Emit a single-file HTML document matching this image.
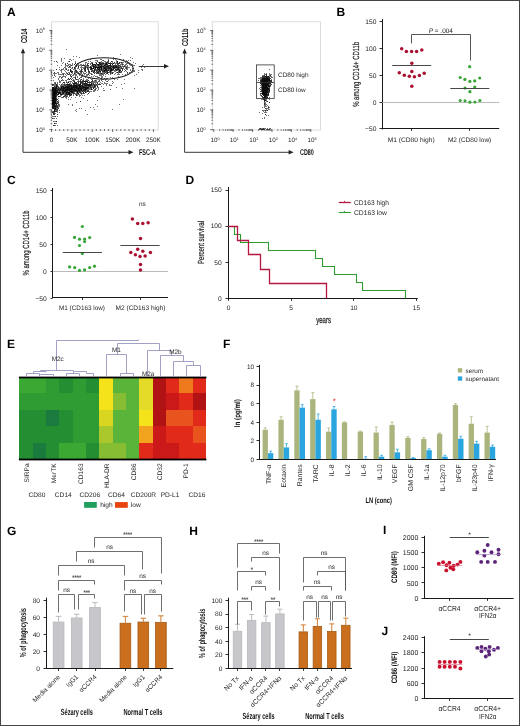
<!DOCTYPE html>
<html><head><meta charset="utf-8"><style>
html,body{margin:0;padding:0;background:#fff;}
body{width:520px;height:726px;overflow:hidden;}
svg{display:block;will-change:transform;text-rendering:geometricPrecision;font-family:"Liberation Sans",sans-serif;}
</style></head><body>
<svg width="520" height="726" viewBox="0 0 520 726" fill="#222">
<rect x="0" y="0" width="520" height="726" fill="#fff"/>
<text x="7" y="15.7" font-size="12" font-weight="bold" fill="#000">A</text>
<text x="336.6" y="15.8" font-size="12" font-weight="bold" fill="#000">B</text>
<text x="7" y="184.3" font-size="12" font-weight="bold" fill="#000">C</text>
<text x="185.5" y="184" font-size="12" font-weight="bold" fill="#000">D</text>
<text x="7.1" y="348" font-size="12" font-weight="bold" fill="#000">E</text>
<text x="223" y="347.6" font-size="12" font-weight="bold" fill="#000">F</text>
<text x="7.1" y="535.4" font-size="12" font-weight="bold" fill="#000">G</text>
<text x="189.3" y="535" font-size="12" font-weight="bold" fill="#000">H</text>
<text x="383" y="534.4" font-size="12" font-weight="bold" fill="#000">I</text>
<text x="381.5" y="635" font-size="12" font-weight="bold" fill="#000">J</text>
<rect x="51.4" y="21.8" width="106.8" height="108.2" fill="none" stroke="#d4d4d4" stroke-width="0.8"/>
<path d="M49.2 129.7h3.2M50.6 123.73h1.6M50.6 120.23h1.6M50.6 117.76h1.6M50.6 115.83h1.6M50.6 114.26h1.6M50.6 112.93h1.6M50.6 111.78h1.6M50.6 110.77h1.6M49.2 109.86h3.2M50.6 103.89h1.6M50.6 100.39h1.6M50.6 97.92h1.6M50.6 95.99h1.6M50.6 94.42h1.6M50.6 93.09h1.6M50.6 91.94h1.6M50.6 90.93h1.6M49.2 90.02h3.2M50.6 84.05h1.6M50.6 80.55h1.6M50.6 78.08h1.6M50.6 76.15h1.6M50.6 74.58h1.6M50.6 73.25h1.6M50.6 72.1h1.6M50.6 71.09h1.6M49.2 70.18h3.2M50.6 64.21h1.6M50.6 60.71h1.6M50.6 58.24h1.6M50.6 56.31h1.6M50.6 54.74h1.6M50.6 53.41h1.6M50.6 52.26h1.6M50.6 51.25h1.6M49.2 50.34h3.2M50.6 44.37h1.6M50.6 40.87h1.6M50.6 38.4h1.6M50.6 36.47h1.6M50.6 34.9h1.6M50.6 33.57h1.6M50.6 32.42h1.6M50.6 31.41h1.6M49.2 30.5h3.2M51.5 129v3M55.58 129.2v1.8M59.65 129.2v1.8M63.73 129.2v1.8M67.8 129.2v1.8M71.88 129v3M75.96 129.2v1.8M80.03 129.2v1.8M84.11 129.2v1.8M88.18 129.2v1.8M92.26 129v3M96.34 129.2v1.8M100.41 129.2v1.8M104.49 129.2v1.8M108.56 129.2v1.8M112.64 129v3M116.72 129.2v1.8M120.79 129.2v1.8M124.87 129.2v1.8M128.94 129.2v1.8M133.02 129v3M137.1 129.2v1.8M141.17 129.2v1.8M145.25 129.2v1.8M149.32 129.2v1.8M153.4 129v3" stroke="#333" stroke-width="0.7" fill="none"/>
<text x="44.8" y="131.7" font-size="6.3" text-anchor="end" fill="#262626">10<tspan font-size="3.78" dy="-2.2">0</tspan></text>
<text x="44.8" y="111.86" font-size="6.3" text-anchor="end" fill="#262626">10<tspan font-size="3.78" dy="-2.2">1</tspan></text>
<text x="44.8" y="92.02" font-size="6.3" text-anchor="end" fill="#262626">10<tspan font-size="3.78" dy="-2.2">2</tspan></text>
<text x="44.8" y="72.18" font-size="6.3" text-anchor="end" fill="#262626">10<tspan font-size="3.78" dy="-2.2">3</tspan></text>
<text x="44.8" y="52.34" font-size="6.3" text-anchor="end" fill="#262626">10<tspan font-size="3.78" dy="-2.2">4</tspan></text>
<text x="44.8" y="32.5" font-size="6.3" text-anchor="end" fill="#262626">10<tspan font-size="3.78" dy="-2.2">5</tspan></text>
<text x="51.5" y="141.8" font-size="6.4" text-anchor="middle" fill="#262626">0</text>
<text x="71.88" y="141.8" font-size="6.4" text-anchor="middle" fill="#262626">50K</text>
<text x="92.26" y="141.8" font-size="6.4" text-anchor="middle" fill="#262626">100K</text>
<text x="112.64" y="141.8" font-size="6.4" text-anchor="middle" fill="#262626">150K</text>
<text x="133.02" y="141.8" font-size="6.4" text-anchor="middle" fill="#262626">200K</text>
<text x="153.4" y="141.8" font-size="6.4" text-anchor="middle" fill="#262626">250K</text>
<path d="M23 50.5V152.3H131" stroke="#222" stroke-width="0.9" fill="none"/>
<path d="M23 48.2L20.8 53.2H25.2Z" stroke="none" stroke-width="1" fill="#222"/>
<path d="M133.5 152.3L128.5 150.1V154.5Z" stroke="none" stroke-width="1" fill="#222"/>
<text transform="translate(26.6 35.8) rotate(-90)" font-size="8.6" text-anchor="middle" font-weight="bold" fill="#111" textLength="14.5" lengthAdjust="spacingAndGlyphs">CD14</text>
<text x="139" y="155.4" font-size="8.4" font-weight="bold" fill="#111" textLength="16.8" lengthAdjust="spacingAndGlyphs">FSC-A</text>
<path d="M53 101h1v1h-1zM55 100h1v1h-1zM52 89h1v1h-1zM54 101h1v1h-1zM53 98h1v1h-1zM53 100h1v1h-1zM54 98h1v1h-1zM54 91h1v1h-1zM55 87h1v1h-1zM52 104h1v1h-1zM54 102h1v1h-1zM53 104h1v1h-1zM54 105h1v1h-1zM55 96h1v1h-1zM55 92h1v1h-1zM54 102h1v1h-1zM56 100h1v1h-1zM56 84h1v1h-1zM54 96h1v1h-1zM55 92h1v1h-1zM53 102h1v1h-1zM54 105h1v1h-1zM55 97h1v1h-1zM54 102h1v1h-1zM55 103h1v1h-1zM53 107h1v1h-1zM55 93h1v1h-1zM54 99h1v1h-1zM54 106h1v1h-1zM52 98h1v1h-1zM54 104h1v1h-1zM55 103h1v1h-1zM55 95h1v1h-1zM53 88h1v1h-1zM54 100h1v1h-1zM53 96h1v1h-1zM56 98h1v1h-1zM53 97h1v1h-1zM56 105h1v1h-1zM53 101h1v1h-1zM54 100h1v1h-1zM55 104h1v1h-1zM53 98h1v1h-1zM54 94h1v1h-1zM53 92h1v1h-1zM52 103h1v1h-1zM53 101h1v1h-1zM55 104h1v1h-1zM54 103h1v1h-1zM53 103h1v1h-1zM54 99h1v1h-1zM52 95h1v1h-1zM54 98h1v1h-1zM53 88h1v1h-1zM54 100h1v1h-1zM52 93h1v1h-1zM53 97h1v1h-1zM53 84h1v1h-1zM53 97h1v1h-1zM54 100h1v1h-1zM53 99h1v1h-1zM55 85h1v1h-1zM54 104h1v1h-1zM54 110h1v1h-1zM54 102h1v1h-1zM55 95h1v1h-1zM53 103h1v1h-1zM54 103h1v1h-1zM52 90h1v1h-1zM54 91h1v1h-1zM53 107h1v1h-1zM54 101h1v1h-1zM53 99h1v1h-1zM53 93h1v1h-1zM54 98h1v1h-1zM53 102h1v1h-1zM54 95h1v1h-1zM54 98h1v1h-1zM52 91h1v1h-1zM53 95h1v1h-1zM52 97h1v1h-1zM55 96h1v1h-1zM53 100h1v1h-1zM54 100h1v1h-1zM53 98h1v1h-1zM53 112h1v1h-1zM54 103h1v1h-1zM55 92h1v1h-1zM53 97h1v1h-1zM53 104h1v1h-1zM54 93h1v1h-1zM54 98h1v1h-1zM54 96h1v1h-1zM53 107h1v1h-1zM54 98h1v1h-1zM52 101h1v1h-1zM53 95h1v1h-1zM54 101h1v1h-1zM53 101h1v1h-1zM52 93h1v1h-1zM53 96h1v1h-1zM53 96h1v1h-1zM55 88h1v1h-1zM54 96h1v1h-1zM52 94h1v1h-1zM53 95h1v1h-1zM54 92h1v1h-1zM54 106h1v1h-1zM53 103h1v1h-1zM56 99h1v1h-1zM55 99h1v1h-1zM54 102h1v1h-1zM56 93h1v1h-1zM54 96h1v1h-1zM54 104h1v1h-1zM55 100h1v1h-1zM53 95h1v1h-1zM55 100h1v1h-1zM53 99h1v1h-1zM53 97h1v1h-1zM54 98h1v1h-1zM54 97h1v1h-1zM54 96h1v1h-1zM54 99h1v1h-1zM55 103h1v1h-1zM56 109h1v1h-1zM52 106h1v1h-1zM52 94h1v1h-1zM54 101h1v1h-1zM54 106h1v1h-1zM54 102h1v1h-1zM55 99h1v1h-1zM54 110h1v1h-1zM55 99h1v1h-1zM54 95h1v1h-1zM56 99h1v1h-1zM54 100h1v1h-1zM52 97h1v1h-1zM54 98h1v1h-1zM54 95h1v1h-1zM53 88h1v1h-1zM56 104h1v1h-1zM54 99h1v1h-1zM52 106h1v1h-1zM54 101h1v1h-1zM53 95h1v1h-1zM54 99h1v1h-1zM54 92h1v1h-1zM53 98h1v1h-1zM54 83h1v1h-1zM52 107h1v1h-1zM55 103h1v1h-1zM53 102h1v1h-1zM55 95h1v1h-1zM54 91h1v1h-1zM54 104h1v1h-1zM54 103h1v1h-1zM53 98h1v1h-1zM54 102h1v1h-1zM54 101h1v1h-1zM53 94h1v1h-1zM52 94h1v1h-1zM54 92h1v1h-1zM54 90h1v1h-1zM52 87h1v1h-1zM55 107h1v1h-1zM52 98h1v1h-1zM56 110h1v1h-1zM52 103h1v1h-1zM54 108h1v1h-1zM52 100h1v1h-1zM53 99h1v1h-1zM53 101h1v1h-1zM53 104h1v1h-1zM55 102h1v1h-1zM56 99h1v1h-1zM53 101h1v1h-1zM52 88h1v1h-1zM53 97h1v1h-1zM52 99h1v1h-1zM53 103h1v1h-1zM52 87h1v1h-1zM53 91h1v1h-1zM54 104h1v1h-1zM53 98h1v1h-1zM52 91h1v1h-1zM54 99h1v1h-1zM52 93h1v1h-1zM54 96h1v1h-1zM54 90h1v1h-1zM52 89h1v1h-1zM55 96h1v1h-1zM53 96h1v1h-1zM55 104h1v1h-1zM55 101h1v1h-1zM53 113h1v1h-1zM53 107h1v1h-1zM52 102h1v1h-1zM52 105h1v1h-1zM53 89h1v1h-1zM52 93h1v1h-1zM56 91h1v1h-1zM56 85h1v1h-1zM55 92h1v1h-1zM53 88h1v1h-1zM58 93h1v1h-1zM53 91h1v1h-1zM53 93h1v1h-1zM55 89h1v1h-1zM56 88h1v1h-1zM57 83h1v1h-1zM52 88h1v1h-1zM55 94h1v1h-1zM60 89h1v1h-1zM55 90h1v1h-1zM55 83h1v1h-1zM55 92h1v1h-1zM55 89h1v1h-1zM56 93h1v1h-1zM56 87h1v1h-1zM57 95h1v1h-1zM56 94h1v1h-1zM54 89h1v1h-1zM56 92h1v1h-1zM56 88h1v1h-1zM56 89h1v1h-1zM56 91h1v1h-1zM56 87h1v1h-1zM56 88h1v1h-1zM56 89h1v1h-1zM57 91h1v1h-1zM54 95h1v1h-1zM53 90h1v1h-1zM55 96h1v1h-1zM53 89h1v1h-1zM53 91h1v1h-1zM56 94h1v1h-1zM56 87h1v1h-1zM56 84h1v1h-1zM55 94h1v1h-1zM56 91h1v1h-1zM55 90h1v1h-1zM53 90h1v1h-1zM57 90h1v1h-1zM55 93h1v1h-1zM53 89h1v1h-1zM55 93h1v1h-1zM56 89h1v1h-1zM55 91h1v1h-1zM56 92h1v1h-1zM52 87h1v1h-1zM56 86h1v1h-1zM53 89h1v1h-1zM55 88h1v1h-1zM53 91h1v1h-1zM56 89h1v1h-1zM53 89h1v1h-1zM53 94h1v1h-1zM53 93h1v1h-1zM57 90h1v1h-1zM54 90h1v1h-1zM56 93h1v1h-1zM52 98h1v1h-1zM57 91h1v1h-1zM55 95h1v1h-1zM56 92h1v1h-1zM55 88h1v1h-1zM54 89h1v1h-1zM55 91h1v1h-1zM55 93h1v1h-1zM55 92h1v1h-1zM53 90h1v1h-1zM56 93h1v1h-1zM56 92h1v1h-1zM53 94h1v1h-1zM54 105h1v1h-1zM54 103h1v1h-1zM53 108h1v1h-1zM54 109h1v1h-1zM55 107h1v1h-1zM58 100h1v1h-1zM53 107h1v1h-1zM59 110h1v1h-1zM55 108h1v1h-1zM55 102h1v1h-1zM55 106h1v1h-1zM57 112h1v1h-1zM55 106h1v1h-1zM54 102h1v1h-1zM56 103h1v1h-1zM54 104h1v1h-1zM55 99h1v1h-1zM54 111h1v1h-1zM57 109h1v1h-1zM55 106h1v1h-1zM54 108h1v1h-1zM58 107h1v1h-1zM55 104h1v1h-1zM56 106h1v1h-1zM58 98h1v1h-1zM56 109h1v1h-1zM54 109h1v1h-1zM55 111h1v1h-1zM57 114h1v1h-1zM53 114h1v1h-1zM55 116h1v1h-1zM52 118h1v1h-1zM56 118h1v1h-1zM56 121h1v1h-1zM55 123h1v1h-1zM55 123h1v1h-1zM53 125h1v1h-1zM79 89h1v1h-1zM89 84h1v1h-1zM87 85h1v1h-1zM72 85h1v1h-1zM68 88h1v1h-1zM77 89h1v1h-1zM86 89h1v1h-1zM63 89h1v1h-1zM73 90h1v1h-1zM78 91h1v1h-1zM86 83h1v1h-1zM69 94h1v1h-1zM76 87h1v1h-1zM73 86h1v1h-1zM91 89h1v1h-1zM85 83h1v1h-1zM58 91h1v1h-1zM72 89h1v1h-1zM82 93h1v1h-1zM71 91h1v1h-1zM73 86h1v1h-1zM79 87h1v1h-1zM72 91h1v1h-1zM76 84h1v1h-1zM66 98h1v1h-1zM96 85h1v1h-1zM75 91h1v1h-1zM82 88h1v1h-1zM87 87h1v1h-1zM75 86h1v1h-1zM73 80h1v1h-1zM82 91h1v1h-1zM71 86h1v1h-1zM72 92h1v1h-1zM80 87h1v1h-1zM77 86h1v1h-1zM70 87h1v1h-1zM79 78h1v1h-1zM64 91h1v1h-1zM82 87h1v1h-1zM81 89h1v1h-1zM88 85h1v1h-1zM89 89h1v1h-1zM60 95h1v1h-1zM78 90h1v1h-1zM88 91h1v1h-1zM58 92h1v1h-1zM83 93h1v1h-1zM77 88h1v1h-1zM82 88h1v1h-1zM79 87h1v1h-1zM73 89h1v1h-1zM84 89h1v1h-1zM71 92h1v1h-1zM77 90h1v1h-1zM76 88h1v1h-1zM87 82h1v1h-1zM73 89h1v1h-1zM72 90h1v1h-1zM74 86h1v1h-1zM83 83h1v1h-1zM64 89h1v1h-1zM76 95h1v1h-1zM87 84h1v1h-1zM64 91h1v1h-1zM79 86h1v1h-1zM73 89h1v1h-1zM77 86h1v1h-1zM76 88h1v1h-1zM74 90h1v1h-1zM80 83h1v1h-1zM66 92h1v1h-1zM91 84h1v1h-1zM66 89h1v1h-1zM82 84h1v1h-1zM69 85h1v1h-1zM82 88h1v1h-1zM91 87h1v1h-1zM94 84h1v1h-1zM76 90h1v1h-1zM85 87h1v1h-1zM68 89h1v1h-1zM87 84h1v1h-1zM76 94h1v1h-1zM59 93h1v1h-1zM72 87h1v1h-1zM76 90h1v1h-1zM81 79h1v1h-1zM91 87h1v1h-1zM72 88h1v1h-1zM75 89h1v1h-1zM75 85h1v1h-1zM87 84h1v1h-1zM59 92h1v1h-1zM80 85h1v1h-1zM75 87h1v1h-1zM76 89h1v1h-1zM88 86h1v1h-1zM74 87h1v1h-1zM80 88h1v1h-1zM84 90h1v1h-1zM79 94h1v1h-1zM64 88h1v1h-1zM69 89h1v1h-1zM76 87h1v1h-1zM80 84h1v1h-1zM74 89h1v1h-1zM79 89h1v1h-1zM80 80h1v1h-1zM90 88h1v1h-1zM86 79h1v1h-1zM84 81h1v1h-1zM93 84h1v1h-1zM57 92h1v1h-1zM93 83h1v1h-1zM85 81h1v1h-1zM68 87h1v1h-1zM84 88h1v1h-1zM94 86h1v1h-1zM61 86h1v1h-1zM79 86h1v1h-1zM77 91h1v1h-1zM87 83h1v1h-1zM70 87h1v1h-1zM94 87h1v1h-1zM77 87h1v1h-1zM74 88h1v1h-1zM67 89h1v1h-1zM73 84h1v1h-1zM85 89h1v1h-1zM75 91h1v1h-1zM73 92h1v1h-1zM84 93h1v1h-1zM77 84h1v1h-1zM69 89h1v1h-1zM65 96h1v1h-1zM63 93h1v1h-1zM78 84h1v1h-1zM86 92h1v1h-1zM86 87h1v1h-1zM75 94h1v1h-1zM92 81h1v1h-1zM73 84h1v1h-1zM78 89h1v1h-1zM81 85h1v1h-1zM61 89h1v1h-1zM72 92h1v1h-1zM93 86h1v1h-1zM69 88h1v1h-1zM85 86h1v1h-1zM74 85h1v1h-1zM67 89h1v1h-1zM92 84h1v1h-1zM96 85h1v1h-1zM85 86h1v1h-1zM81 88h1v1h-1zM80 88h1v1h-1zM70 81h1v1h-1zM78 88h1v1h-1zM74 88h1v1h-1zM64 91h1v1h-1zM82 88h1v1h-1zM76 87h1v1h-1zM73 85h1v1h-1zM79 91h1v1h-1zM93 84h1v1h-1zM89 84h1v1h-1zM91 84h1v1h-1zM92 80h1v1h-1zM63 87h1v1h-1zM77 87h1v1h-1zM73 89h1v1h-1zM79 86h1v1h-1zM77 87h1v1h-1zM67 92h1v1h-1zM76 87h1v1h-1zM64 92h1v1h-1zM90 85h1v1h-1zM78 91h1v1h-1zM79 81h1v1h-1zM70 92h1v1h-1zM60 95h1v1h-1zM84 87h1v1h-1zM76 83h1v1h-1zM90 84h1v1h-1zM79 88h1v1h-1zM76 93h1v1h-1zM76 86h1v1h-1zM87 81h1v1h-1zM70 85h1v1h-1zM69 86h1v1h-1zM68 93h1v1h-1zM78 93h1v1h-1zM71 91h1v1h-1zM77 88h1v1h-1zM71 89h1v1h-1zM88 84h1v1h-1zM80 86h1v1h-1zM84 88h1v1h-1zM82 91h1v1h-1zM70 86h1v1h-1zM66 87h1v1h-1zM82 86h1v1h-1zM72 89h1v1h-1zM100 84h1v1h-1zM80 85h1v1h-1zM70 93h1v1h-1zM77 91h1v1h-1zM80 89h1v1h-1zM68 88h1v1h-1zM86 85h1v1h-1zM95 83h1v1h-1zM82 88h1v1h-1zM95 88h1v1h-1zM63 90h1v1h-1zM88 86h1v1h-1zM79 91h1v1h-1zM76 85h1v1h-1zM82 87h1v1h-1zM69 93h1v1h-1zM62 97h1v1h-1zM83 92h1v1h-1zM72 88h1v1h-1zM84 91h1v1h-1zM94 90h1v1h-1zM70 89h1v1h-1zM77 94h1v1h-1zM82 87h1v1h-1zM88 88h1v1h-1zM70 85h1v1h-1zM77 91h1v1h-1zM67 86h1v1h-1zM81 89h1v1h-1zM72 93h1v1h-1zM94 82h1v1h-1zM74 84h1v1h-1zM73 86h1v1h-1zM96 81h1v1h-1zM97 83h1v1h-1zM78 84h1v1h-1zM77 86h1v1h-1zM85 91h1v1h-1zM77 93h1v1h-1zM63 91h1v1h-1zM74 90h1v1h-1zM85 91h1v1h-1zM93 85h1v1h-1zM77 91h1v1h-1zM66 92h1v1h-1zM74 83h1v1h-1zM69 89h1v1h-1zM91 83h1v1h-1zM69 94h1v1h-1zM76 89h1v1h-1zM68 90h1v1h-1zM89 82h1v1h-1zM66 89h1v1h-1zM91 84h1v1h-1zM73 89h1v1h-1zM79 85h1v1h-1zM80 90h1v1h-1zM93 91h1v1h-1zM77 81h1v1h-1zM95 80h1v1h-1zM66 92h1v1h-1zM86 86h1v1h-1zM60 87h1v1h-1zM76 94h1v1h-1zM80 82h1v1h-1zM78 90h1v1h-1zM82 88h1v1h-1zM55 92h1v1h-1zM68 81h1v1h-1zM89 91h1v1h-1zM85 85h1v1h-1zM83 89h1v1h-1zM68 88h1v1h-1zM66 90h1v1h-1zM69 90h1v1h-1zM65 95h1v1h-1zM83 87h1v1h-1zM75 83h1v1h-1zM72 90h1v1h-1zM55 87h1v1h-1zM81 88h1v1h-1zM69 91h1v1h-1zM80 89h1v1h-1zM62 93h1v1h-1zM94 82h1v1h-1zM94 85h1v1h-1zM63 88h1v1h-1zM72 90h1v1h-1zM71 94h1v1h-1zM80 86h1v1h-1zM68 88h1v1h-1zM84 84h1v1h-1zM75 86h1v1h-1zM66 92h1v1h-1zM72 89h1v1h-1zM76 86h1v1h-1zM93 88h1v1h-1zM66 96h1v1h-1zM74 90h1v1h-1zM87 83h1v1h-1zM95 89h1v1h-1zM97 82h1v1h-1zM66 90h1v1h-1zM83 84h1v1h-1zM69 88h1v1h-1zM90 84h1v1h-1zM69 92h1v1h-1zM71 88h1v1h-1zM91 85h1v1h-1zM76 88h1v1h-1zM86 92h1v1h-1zM86 85h1v1h-1zM77 90h1v1h-1zM74 87h1v1h-1zM80 89h1v1h-1zM67 92h1v1h-1zM80 85h1v1h-1zM68 84h1v1h-1zM85 88h1v1h-1zM78 89h1v1h-1zM82 87h1v1h-1zM65 90h1v1h-1zM64 88h1v1h-1zM59 82h1v1h-1zM64 90h1v1h-1zM63 90h1v1h-1zM63 90h1v1h-1zM72 89h1v1h-1zM63 93h1v1h-1zM71 90h1v1h-1zM62 93h1v1h-1zM71 85h1v1h-1zM68 92h1v1h-1zM65 92h1v1h-1zM65 85h1v1h-1zM65 92h1v1h-1zM64 91h1v1h-1zM61 86h1v1h-1zM70 87h1v1h-1zM66 84h1v1h-1zM69 84h1v1h-1zM65 95h1v1h-1zM66 86h1v1h-1zM69 89h1v1h-1zM63 88h1v1h-1zM68 87h1v1h-1zM61 88h1v1h-1zM75 93h1v1h-1zM67 84h1v1h-1zM67 93h1v1h-1zM66 94h1v1h-1zM67 89h1v1h-1zM68 88h1v1h-1zM64 91h1v1h-1zM70 91h1v1h-1zM69 88h1v1h-1zM67 94h1v1h-1zM71 87h1v1h-1zM64 87h1v1h-1zM63 89h1v1h-1zM60 87h1v1h-1zM63 92h1v1h-1zM74 84h1v1h-1zM74 88h1v1h-1zM68 87h1v1h-1zM68 91h1v1h-1zM66 87h1v1h-1zM60 89h1v1h-1zM70 95h1v1h-1zM66 91h1v1h-1zM64 83h1v1h-1zM63 89h1v1h-1zM62 94h1v1h-1zM67 92h1v1h-1zM64 88h1v1h-1zM60 92h1v1h-1zM68 94h1v1h-1zM61 89h1v1h-1zM65 85h1v1h-1zM60 88h1v1h-1zM59 89h1v1h-1zM66 90h1v1h-1zM65 88h1v1h-1zM68 88h1v1h-1zM75 90h1v1h-1zM68 91h1v1h-1zM66 92h1v1h-1zM61 87h1v1h-1zM68 92h1v1h-1zM65 90h1v1h-1zM71 91h1v1h-1zM62 92h1v1h-1zM63 90h1v1h-1zM65 90h1v1h-1zM65 91h1v1h-1zM65 90h1v1h-1zM67 88h1v1h-1zM68 89h1v1h-1zM67 86h1v1h-1zM69 87h1v1h-1zM64 87h1v1h-1zM65 93h1v1h-1zM59 90h1v1h-1zM75 87h1v1h-1zM67 85h1v1h-1zM60 91h1v1h-1zM68 89h1v1h-1zM63 87h1v1h-1zM70 88h1v1h-1zM67 87h1v1h-1zM68 85h1v1h-1zM70 92h1v1h-1zM65 89h1v1h-1zM68 88h1v1h-1zM66 91h1v1h-1zM72 88h1v1h-1zM66 92h1v1h-1zM71 85h1v1h-1zM62 83h1v1h-1zM65 87h1v1h-1zM67 90h1v1h-1zM100 66h1v1h-1zM80 72h1v1h-1zM93 68h1v1h-1zM104 68h1v1h-1zM112 64h1v1h-1zM94 67h1v1h-1zM116 70h1v1h-1zM100 74h1v1h-1zM106 63h1v1h-1zM107 67h1v1h-1zM95 65h1v1h-1zM105 67h1v1h-1zM89 67h1v1h-1zM93 67h1v1h-1zM114 67h1v1h-1zM108 67h1v1h-1zM119 71h1v1h-1zM108 65h1v1h-1zM90 63h1v1h-1zM95 62h1v1h-1zM111 66h1v1h-1zM112 69h1v1h-1zM109 66h1v1h-1zM92 62h1v1h-1zM100 62h1v1h-1zM104 65h1v1h-1zM128 63h1v1h-1zM85 68h1v1h-1zM113 65h1v1h-1zM95 67h1v1h-1zM111 67h1v1h-1zM117 62h1v1h-1zM111 72h1v1h-1zM83 65h1v1h-1zM94 66h1v1h-1zM92 65h1v1h-1zM97 67h1v1h-1zM107 64h1v1h-1zM86 72h1v1h-1zM117 68h1v1h-1zM107 69h1v1h-1zM98 65h1v1h-1zM113 69h1v1h-1zM103 65h1v1h-1zM85 65h1v1h-1zM94 67h1v1h-1zM101 67h1v1h-1zM106 63h1v1h-1zM103 65h1v1h-1zM113 72h1v1h-1zM102 74h1v1h-1zM132 64h1v1h-1zM126 68h1v1h-1zM101 69h1v1h-1zM107 62h1v1h-1zM121 72h1v1h-1zM106 71h1v1h-1zM75 72h1v1h-1zM97 67h1v1h-1zM106 64h1v1h-1zM110 66h1v1h-1zM100 67h1v1h-1zM88 70h1v1h-1zM100 71h1v1h-1zM132 66h1v1h-1zM115 66h1v1h-1zM111 68h1v1h-1zM99 67h1v1h-1zM127 72h1v1h-1zM113 70h1v1h-1zM88 69h1v1h-1zM115 67h1v1h-1zM117 64h1v1h-1zM88 65h1v1h-1zM106 69h1v1h-1zM119 65h1v1h-1zM94 69h1v1h-1zM109 67h1v1h-1zM105 68h1v1h-1zM122 63h1v1h-1zM107 73h1v1h-1zM98 68h1v1h-1zM125 62h1v1h-1zM104 66h1v1h-1zM112 72h1v1h-1zM91 70h1v1h-1zM99 71h1v1h-1zM110 69h1v1h-1zM99 70h1v1h-1zM81 71h1v1h-1zM120 72h1v1h-1zM96 71h1v1h-1zM110 73h1v1h-1zM110 62h1v1h-1zM104 71h1v1h-1zM103 68h1v1h-1zM112 65h1v1h-1zM103 70h1v1h-1zM80 71h1v1h-1zM108 66h1v1h-1zM115 65h1v1h-1zM106 66h1v1h-1zM99 68h1v1h-1zM94 70h1v1h-1zM121 62h1v1h-1zM124 71h1v1h-1zM111 61h1v1h-1zM117 72h1v1h-1zM112 65h1v1h-1zM101 74h1v1h-1zM110 64h1v1h-1zM110 68h1v1h-1zM113 67h1v1h-1zM120 64h1v1h-1zM98 72h1v1h-1zM85 66h1v1h-1zM108 66h1v1h-1zM110 68h1v1h-1zM123 64h1v1h-1zM122 66h1v1h-1zM126 66h1v1h-1zM95 67h1v1h-1zM102 64h1v1h-1zM119 62h1v1h-1zM110 67h1v1h-1zM91 73h1v1h-1zM118 69h1v1h-1zM76 66h1v1h-1zM81 64h1v1h-1zM113 66h1v1h-1zM108 67h1v1h-1zM85 69h1v1h-1zM102 63h1v1h-1zM119 68h1v1h-1zM94 66h1v1h-1zM120 62h1v1h-1zM97 68h1v1h-1zM107 71h1v1h-1zM101 65h1v1h-1zM120 70h1v1h-1zM87 68h1v1h-1zM119 67h1v1h-1zM116 67h1v1h-1zM109 67h1v1h-1zM109 67h1v1h-1zM112 65h1v1h-1zM113 67h1v1h-1zM106 66h1v1h-1zM127 63h1v1h-1zM98 65h1v1h-1zM134 70h1v1h-1zM112 62h1v1h-1zM96 67h1v1h-1zM107 62h1v1h-1zM104 65h1v1h-1zM118 67h1v1h-1zM97 61h1v1h-1zM109 68h1v1h-1zM110 72h1v1h-1zM118 72h1v1h-1zM100 71h1v1h-1zM104 67h1v1h-1zM106 68h1v1h-1zM104 70h1v1h-1zM103 64h1v1h-1zM109 66h1v1h-1zM93 64h1v1h-1zM122 69h1v1h-1zM85 73h1v1h-1zM107 65h1v1h-1zM105 65h1v1h-1zM117 64h1v1h-1zM90 66h1v1h-1zM115 66h1v1h-1zM101 63h1v1h-1zM107 73h1v1h-1zM147 66h1v1h-1zM103 68h1v1h-1zM110 70h1v1h-1zM76 65h1v1h-1zM111 67h1v1h-1zM78 64h1v1h-1zM90 67h1v1h-1zM98 69h1v1h-1zM110 73h1v1h-1zM113 65h1v1h-1zM101 67h1v1h-1zM99 68h1v1h-1zM119 66h1v1h-1zM93 66h1v1h-1zM129 64h1v1h-1zM110 66h1v1h-1zM84 67h1v1h-1zM104 64h1v1h-1zM115 69h1v1h-1zM117 69h1v1h-1zM113 68h1v1h-1zM105 64h1v1h-1zM88 63h1v1h-1zM120 71h1v1h-1zM106 64h1v1h-1zM109 63h1v1h-1zM96 70h1v1h-1zM87 68h1v1h-1zM98 66h1v1h-1zM99 69h1v1h-1zM127 68h1v1h-1zM108 63h1v1h-1zM81 65h1v1h-1zM117 66h1v1h-1zM122 65h1v1h-1zM117 68h1v1h-1zM114 71h1v1h-1zM108 65h1v1h-1zM120 66h1v1h-1zM101 68h1v1h-1zM78 66h1v1h-1zM115 65h1v1h-1zM103 65h1v1h-1zM102 73h1v1h-1zM100 63h1v1h-1zM96 73h1v1h-1zM115 67h1v1h-1zM100 73h1v1h-1zM105 61h1v1h-1zM83 68h1v1h-1zM103 70h1v1h-1zM96 67h1v1h-1zM98 77h1v1h-1zM91 71h1v1h-1zM108 61h1v1h-1zM114 67h1v1h-1zM133 65h1v1h-1zM87 63h1v1h-1zM109 67h1v1h-1zM116 63h1v1h-1zM95 68h1v1h-1zM125 74h1v1h-1zM88 70h1v1h-1zM89 67h1v1h-1zM91 69h1v1h-1zM84 69h1v1h-1zM108 70h1v1h-1zM119 72h1v1h-1zM94 64h1v1h-1zM108 59h1v1h-1zM96 63h1v1h-1zM134 75h1v1h-1zM91 67h1v1h-1zM99 75h1v1h-1zM74 67h1v1h-1zM110 68h1v1h-1zM88 66h1v1h-1zM118 76h1v1h-1zM103 65h1v1h-1zM127 67h1v1h-1zM113 63h1v1h-1zM115 73h1v1h-1zM127 62h1v1h-1zM88 74h1v1h-1zM92 63h1v1h-1zM132 72h1v1h-1zM67 65h1v1h-1zM90 59h1v1h-1zM127 61h1v1h-1zM94 72h1v1h-1zM107 72h1v1h-1zM99 73h1v1h-1zM99 67h1v1h-1zM106 73h1v1h-1zM103 62h1v1h-1zM119 69h1v1h-1zM100 73h1v1h-1zM111 70h1v1h-1zM105 69h1v1h-1zM119 70h1v1h-1zM133 62h1v1h-1zM93 65h1v1h-1zM95 65h1v1h-1zM104 67h1v1h-1zM103 66h1v1h-1zM115 65h1v1h-1zM98 66h1v1h-1zM130 70h1v1h-1zM110 65h1v1h-1zM124 66h1v1h-1zM102 76h1v1h-1zM121 67h1v1h-1zM132 68h1v1h-1zM123 66h1v1h-1zM104 78h1v1h-1zM117 61h1v1h-1zM96 67h1v1h-1zM110 66h1v1h-1zM71 76h1v1h-1zM121 63h1v1h-1zM80 64h1v1h-1zM89 71h1v1h-1zM127 72h1v1h-1zM117 67h1v1h-1zM67 70h1v1h-1zM71 72h1v1h-1zM91 79h1v1h-1zM78 82h1v1h-1zM65 64h1v1h-1zM70 65h1v1h-1zM68 69h1v1h-1zM77 68h1v1h-1zM62 74h1v1h-1zM54 61h1v1h-1zM62 77h1v1h-1zM69 74h1v1h-1zM64 76h1v1h-1zM68 79h1v1h-1zM68 81h1v1h-1zM75 63h1v1h-1zM79 87h1v1h-1zM71 71h1v1h-1zM68 65h1v1h-1zM78 83h1v1h-1zM70 75h1v1h-1zM57 72h1v1h-1zM61 71h1v1h-1zM53 77h1v1h-1zM81 71h1v1h-1zM62 63h1v1h-1zM71 76h1v1h-1zM57 62h1v1h-1zM58 79h1v1h-1zM77 71h1v1h-1zM58 78h1v1h-1zM66 82h1v1h-1zM61 74h1v1h-1zM61 72h1v1h-1zM61 80h1v1h-1zM75 63h1v1h-1zM73 79h1v1h-1zM57 65h1v1h-1zM70 70h1v1h-1zM76 72h1v1h-1zM72 75h1v1h-1zM85 65h1v1h-1zM82 76h1v1h-1zM58 72h1v1h-1zM66 65h1v1h-1zM76 79h1v1h-1zM84 74h1v1h-1zM55 93h1v1h-1zM72 71h1v1h-1zM61 78h1v1h-1zM73 81h1v1h-1zM76 74h1v1h-1zM70 71h1v1h-1zM75 78h1v1h-1zM71 79h1v1h-1zM64 83h1v1h-1zM77 65h1v1h-1zM88 80h1v1h-1zM70 76h1v1h-1zM78 67h1v1h-1zM73 59h1v1h-1zM55 93h1v1h-1zM63 76h1v1h-1zM67 63h1v1h-1zM63 73h1v1h-1zM64 67h1v1h-1zM82 82h1v1h-1zM54 72h1v1h-1zM69 67h1v1h-1zM69 79h1v1h-1zM68 74h1v1h-1zM76 74h1v1h-1zM65 66h1v1h-1zM77 71h1v1h-1zM59 76h1v1h-1zM76 71h1v1h-1zM70 78h1v1h-1zM75 77h1v1h-1zM58 78h1v1h-1zM81 67h1v1h-1zM69 74h1v1h-1zM78 72h1v1h-1zM80 73h1v1h-1zM95 76h1v1h-1zM99 84h1v1h-1zM94 78h1v1h-1zM103 79h1v1h-1zM91 88h1v1h-1zM90 86h1v1h-1zM112 83h1v1h-1zM98 81h1v1h-1zM84 76h1v1h-1zM99 80h1v1h-1zM99 84h1v1h-1zM107 83h1v1h-1zM86 88h1v1h-1zM101 75h1v1h-1zM89 85h1v1h-1zM97 86h1v1h-1zM105 79h1v1h-1zM93 81h1v1h-1zM86 80h1v1h-1zM98 88h1v1h-1zM97 82h1v1h-1zM116 87h1v1h-1zM112 77h1v1h-1zM87 88h1v1h-1zM95 85h1v1h-1zM80 101h1v1h-1zM76 109h1v1h-1zM90 107h1v1h-1zM58 103h1v1h-1zM97 100h1v1h-1zM94 109h1v1h-1zM95 104h1v1h-1zM54 103h1v1h-1zM112 109h1v1h-1zM65 65h1v1h-1zM61 58h1v1h-1zM136 74h1v1h-1z" fill="#000" fill-opacity="0.55"/>
<path d="M53 97h1v1h-1zM54 100h1v1h-1zM53 96h1v1h-1zM53 108h1v1h-1zM54 100h1v1h-1zM54 90h1v1h-1zM52 103h1v1h-1zM54 95h1v1h-1zM52 100h1v1h-1zM55 99h1v1h-1zM52 106h1v1h-1zM52 107h1v1h-1zM53 96h1v1h-1zM52 98h1v1h-1zM53 102h1v1h-1zM53 100h1v1h-1zM53 96h1v1h-1zM52 100h1v1h-1zM56 100h1v1h-1zM53 104h1v1h-1zM55 84h1v1h-1zM53 100h1v1h-1zM57 92h1v1h-1zM52 90h1v1h-1zM55 93h1v1h-1zM55 98h1v1h-1zM55 107h1v1h-1zM55 97h1v1h-1zM53 104h1v1h-1zM53 98h1v1h-1zM53 92h1v1h-1zM54 103h1v1h-1zM53 94h1v1h-1zM54 97h1v1h-1zM55 102h1v1h-1zM56 89h1v1h-1zM54 103h1v1h-1zM52 97h1v1h-1zM54 84h1v1h-1zM54 95h1v1h-1zM53 93h1v1h-1zM56 103h1v1h-1zM54 101h1v1h-1zM53 98h1v1h-1zM54 104h1v1h-1zM52 84h1v1h-1zM54 99h1v1h-1zM55 93h1v1h-1zM53 113h1v1h-1zM55 99h1v1h-1zM54 101h1v1h-1zM54 90h1v1h-1zM53 91h1v1h-1zM54 104h1v1h-1zM54 102h1v1h-1zM53 99h1v1h-1zM53 94h1v1h-1zM52 99h1v1h-1zM54 102h1v1h-1zM53 91h1v1h-1zM54 96h1v1h-1zM53 100h1v1h-1zM54 98h1v1h-1zM53 99h1v1h-1zM53 108h1v1h-1zM54 96h1v1h-1zM53 100h1v1h-1zM53 98h1v1h-1zM55 96h1v1h-1zM53 100h1v1h-1zM54 98h1v1h-1zM54 110h1v1h-1zM54 101h1v1h-1zM52 102h1v1h-1zM52 98h1v1h-1zM56 95h1v1h-1zM53 98h1v1h-1zM54 101h1v1h-1zM52 100h1v1h-1zM54 102h1v1h-1zM53 101h1v1h-1zM54 94h1v1h-1zM52 99h1v1h-1zM53 103h1v1h-1zM54 98h1v1h-1zM53 99h1v1h-1zM54 113h1v1h-1zM53 80h1v1h-1zM53 94h1v1h-1zM54 98h1v1h-1zM55 100h1v1h-1zM52 104h1v1h-1zM53 87h1v1h-1zM53 103h1v1h-1zM54 105h1v1h-1zM54 97h1v1h-1zM53 103h1v1h-1zM55 100h1v1h-1zM55 102h1v1h-1zM53 88h1v1h-1zM53 95h1v1h-1zM53 98h1v1h-1zM54 100h1v1h-1zM54 94h1v1h-1zM54 104h1v1h-1zM54 99h1v1h-1zM54 99h1v1h-1zM53 101h1v1h-1zM56 85h1v1h-1zM52 103h1v1h-1zM52 89h1v1h-1zM54 103h1v1h-1zM53 99h1v1h-1zM54 95h1v1h-1zM52 98h1v1h-1zM54 97h1v1h-1zM52 102h1v1h-1zM53 99h1v1h-1zM54 103h1v1h-1zM53 89h1v1h-1zM56 84h1v1h-1zM54 86h1v1h-1zM54 96h1v1h-1zM55 109h1v1h-1zM53 95h1v1h-1zM53 94h1v1h-1zM53 100h1v1h-1zM53 99h1v1h-1zM53 98h1v1h-1zM53 97h1v1h-1zM55 103h1v1h-1zM53 97h1v1h-1zM55 100h1v1h-1zM54 97h1v1h-1zM53 103h1v1h-1zM53 92h1v1h-1zM53 106h1v1h-1zM54 92h1v1h-1zM53 103h1v1h-1zM54 110h1v1h-1zM52 102h1v1h-1zM54 100h1v1h-1zM53 91h1v1h-1zM54 88h1v1h-1zM54 99h1v1h-1zM54 100h1v1h-1zM53 107h1v1h-1zM55 100h1v1h-1zM54 97h1v1h-1zM55 99h1v1h-1zM53 112h1v1h-1zM55 103h1v1h-1zM54 97h1v1h-1zM52 106h1v1h-1zM53 102h1v1h-1zM54 91h1v1h-1zM53 88h1v1h-1zM53 102h1v1h-1zM55 98h1v1h-1zM53 99h1v1h-1zM54 104h1v1h-1zM53 100h1v1h-1zM53 94h1v1h-1zM53 95h1v1h-1zM54 106h1v1h-1zM55 96h1v1h-1zM54 93h1v1h-1zM53 100h1v1h-1zM53 102h1v1h-1zM53 101h1v1h-1zM54 113h1v1h-1zM53 98h1v1h-1zM53 100h1v1h-1zM52 102h1v1h-1zM55 93h1v1h-1zM53 95h1v1h-1zM55 93h1v1h-1zM54 88h1v1h-1zM54 101h1v1h-1zM56 99h1v1h-1zM54 98h1v1h-1zM52 112h1v1h-1zM52 108h1v1h-1zM52 102h1v1h-1zM52 90h1v1h-1zM55 101h1v1h-1zM55 95h1v1h-1zM53 92h1v1h-1zM54 100h1v1h-1zM53 97h1v1h-1zM55 101h1v1h-1zM55 99h1v1h-1zM54 99h1v1h-1zM54 99h1v1h-1zM53 88h1v1h-1zM53 98h1v1h-1zM55 108h1v1h-1zM55 106h1v1h-1zM55 95h1v1h-1zM53 105h1v1h-1zM53 94h1v1h-1zM53 92h1v1h-1zM54 89h1v1h-1zM52 89h1v1h-1zM54 91h1v1h-1zM55 88h1v1h-1zM55 92h1v1h-1zM55 91h1v1h-1zM54 89h1v1h-1zM54 90h1v1h-1zM55 91h1v1h-1zM56 90h1v1h-1zM52 85h1v1h-1zM55 91h1v1h-1zM56 86h1v1h-1zM54 88h1v1h-1zM54 91h1v1h-1zM59 92h1v1h-1zM58 94h1v1h-1zM54 89h1v1h-1zM55 94h1v1h-1zM53 96h1v1h-1zM54 91h1v1h-1zM55 90h1v1h-1zM55 91h1v1h-1zM54 90h1v1h-1zM53 88h1v1h-1zM55 92h1v1h-1zM57 85h1v1h-1zM56 96h1v1h-1zM53 92h1v1h-1zM53 94h1v1h-1zM55 90h1v1h-1zM56 91h1v1h-1zM55 89h1v1h-1zM55 92h1v1h-1zM55 89h1v1h-1zM52 95h1v1h-1zM56 85h1v1h-1zM54 88h1v1h-1zM58 90h1v1h-1zM54 89h1v1h-1zM56 90h1v1h-1zM55 94h1v1h-1zM55 93h1v1h-1zM56 95h1v1h-1zM55 94h1v1h-1zM53 89h1v1h-1zM56 88h1v1h-1zM58 89h1v1h-1zM56 87h1v1h-1zM56 90h1v1h-1zM56 85h1v1h-1zM53 93h1v1h-1zM56 93h1v1h-1zM57 86h1v1h-1zM58 88h1v1h-1zM52 96h1v1h-1zM52 88h1v1h-1zM52 89h1v1h-1zM57 88h1v1h-1zM53 90h1v1h-1zM55 90h1v1h-1zM56 87h1v1h-1zM53 89h1v1h-1zM52 90h1v1h-1zM55 88h1v1h-1zM53 91h1v1h-1zM58 88h1v1h-1zM55 88h1v1h-1zM54 92h1v1h-1zM54 91h1v1h-1zM55 91h1v1h-1zM55 89h1v1h-1zM52 96h1v1h-1zM55 102h1v1h-1zM56 103h1v1h-1zM54 103h1v1h-1zM57 107h1v1h-1zM58 108h1v1h-1zM57 107h1v1h-1zM55 102h1v1h-1zM55 99h1v1h-1zM57 105h1v1h-1zM53 107h1v1h-1zM57 101h1v1h-1zM55 103h1v1h-1zM57 103h1v1h-1zM58 106h1v1h-1zM54 98h1v1h-1zM57 106h1v1h-1zM56 107h1v1h-1zM57 108h1v1h-1zM54 102h1v1h-1zM57 106h1v1h-1zM55 106h1v1h-1zM58 104h1v1h-1zM58 102h1v1h-1zM59 106h1v1h-1zM57 110h1v1h-1zM54 109h1v1h-1zM56 109h1v1h-1zM55 111h1v1h-1zM57 114h1v1h-1zM53 114h1v1h-1zM53 116h1v1h-1zM52 118h1v1h-1zM52 118h1v1h-1zM54 121h1v1h-1zM54 123h1v1h-1zM56 123h1v1h-1zM54 125h1v1h-1zM73 92h1v1h-1zM78 86h1v1h-1zM72 86h1v1h-1zM89 88h1v1h-1zM82 88h1v1h-1zM70 89h1v1h-1zM74 88h1v1h-1zM77 86h1v1h-1zM88 85h1v1h-1zM90 86h1v1h-1zM85 83h1v1h-1zM69 84h1v1h-1zM73 87h1v1h-1zM81 90h1v1h-1zM82 91h1v1h-1zM70 84h1v1h-1zM78 87h1v1h-1zM82 84h1v1h-1zM75 88h1v1h-1zM89 86h1v1h-1zM76 92h1v1h-1zM62 88h1v1h-1zM81 81h1v1h-1zM71 87h1v1h-1zM68 90h1v1h-1zM67 90h1v1h-1zM75 84h1v1h-1zM52 88h1v1h-1zM83 85h1v1h-1zM72 90h1v1h-1zM74 87h1v1h-1zM86 83h1v1h-1zM73 86h1v1h-1zM71 87h1v1h-1zM65 86h1v1h-1zM80 84h1v1h-1zM76 85h1v1h-1zM70 90h1v1h-1zM78 85h1v1h-1zM88 87h1v1h-1zM74 81h1v1h-1zM71 87h1v1h-1zM90 87h1v1h-1zM89 84h1v1h-1zM77 83h1v1h-1zM82 85h1v1h-1zM85 90h1v1h-1zM67 94h1v1h-1zM97 90h1v1h-1zM75 87h1v1h-1zM80 93h1v1h-1zM106 84h1v1h-1zM84 91h1v1h-1zM84 85h1v1h-1zM77 89h1v1h-1zM71 84h1v1h-1zM71 91h1v1h-1zM78 88h1v1h-1zM79 89h1v1h-1zM69 86h1v1h-1zM79 92h1v1h-1zM73 86h1v1h-1zM62 91h1v1h-1zM66 89h1v1h-1zM85 80h1v1h-1zM81 89h1v1h-1zM53 99h1v1h-1zM73 86h1v1h-1zM81 91h1v1h-1zM79 86h1v1h-1zM75 89h1v1h-1zM80 84h1v1h-1zM68 93h1v1h-1zM89 82h1v1h-1zM58 92h1v1h-1zM75 89h1v1h-1zM93 88h1v1h-1zM74 85h1v1h-1zM80 86h1v1h-1zM75 90h1v1h-1zM87 81h1v1h-1zM67 90h1v1h-1zM85 87h1v1h-1zM74 93h1v1h-1zM87 87h1v1h-1zM87 84h1v1h-1zM79 86h1v1h-1zM66 92h1v1h-1zM94 86h1v1h-1zM84 85h1v1h-1zM68 93h1v1h-1zM75 87h1v1h-1zM75 91h1v1h-1zM67 87h1v1h-1zM79 87h1v1h-1zM72 92h1v1h-1zM73 88h1v1h-1zM89 88h1v1h-1zM89 92h1v1h-1zM80 86h1v1h-1zM68 89h1v1h-1zM57 91h1v1h-1zM80 93h1v1h-1zM80 86h1v1h-1zM78 92h1v1h-1zM80 84h1v1h-1zM78 93h1v1h-1zM66 97h1v1h-1zM76 83h1v1h-1zM74 90h1v1h-1zM89 82h1v1h-1zM82 85h1v1h-1zM78 94h1v1h-1zM70 84h1v1h-1zM74 89h1v1h-1zM88 86h1v1h-1zM74 90h1v1h-1zM73 85h1v1h-1zM80 89h1v1h-1zM69 92h1v1h-1zM77 88h1v1h-1zM87 88h1v1h-1zM89 88h1v1h-1zM63 90h1v1h-1zM71 85h1v1h-1zM75 90h1v1h-1zM66 93h1v1h-1zM90 85h1v1h-1zM76 90h1v1h-1zM81 86h1v1h-1zM100 82h1v1h-1zM83 88h1v1h-1zM60 93h1v1h-1zM64 88h1v1h-1zM72 87h1v1h-1zM77 90h1v1h-1zM83 88h1v1h-1zM91 83h1v1h-1zM66 89h1v1h-1zM59 91h1v1h-1zM80 81h1v1h-1zM75 82h1v1h-1zM77 89h1v1h-1zM64 82h1v1h-1zM90 85h1v1h-1zM94 86h1v1h-1zM81 93h1v1h-1zM88 86h1v1h-1zM65 90h1v1h-1zM81 87h1v1h-1zM74 90h1v1h-1zM83 91h1v1h-1zM96 82h1v1h-1zM74 84h1v1h-1zM83 87h1v1h-1zM87 91h1v1h-1zM66 88h1v1h-1zM87 85h1v1h-1zM81 91h1v1h-1zM85 84h1v1h-1zM79 90h1v1h-1zM65 91h1v1h-1zM68 90h1v1h-1zM91 91h1v1h-1zM80 81h1v1h-1zM80 87h1v1h-1zM83 85h1v1h-1zM85 92h1v1h-1zM95 84h1v1h-1zM80 88h1v1h-1zM84 81h1v1h-1zM89 85h1v1h-1zM72 91h1v1h-1zM81 88h1v1h-1zM64 84h1v1h-1zM68 84h1v1h-1zM77 90h1v1h-1zM91 83h1v1h-1zM84 87h1v1h-1zM80 83h1v1h-1zM82 86h1v1h-1zM67 82h1v1h-1zM69 79h1v1h-1zM78 90h1v1h-1zM65 87h1v1h-1zM74 90h1v1h-1zM79 89h1v1h-1zM85 85h1v1h-1zM73 86h1v1h-1zM74 87h1v1h-1zM78 89h1v1h-1zM88 90h1v1h-1zM76 91h1v1h-1zM70 86h1v1h-1zM73 89h1v1h-1zM79 91h1v1h-1zM83 88h1v1h-1zM87 84h1v1h-1zM86 84h1v1h-1zM74 89h1v1h-1zM88 86h1v1h-1zM88 90h1v1h-1zM80 92h1v1h-1zM83 92h1v1h-1zM79 91h1v1h-1zM87 86h1v1h-1zM86 87h1v1h-1zM63 88h1v1h-1zM65 89h1v1h-1zM61 94h1v1h-1zM97 86h1v1h-1zM67 91h1v1h-1zM70 85h1v1h-1zM71 88h1v1h-1zM91 88h1v1h-1zM70 84h1v1h-1zM83 86h1v1h-1zM68 85h1v1h-1zM69 91h1v1h-1zM72 89h1v1h-1zM78 81h1v1h-1zM75 90h1v1h-1zM89 86h1v1h-1zM84 87h1v1h-1zM82 86h1v1h-1zM81 87h1v1h-1zM75 85h1v1h-1zM73 85h1v1h-1zM83 91h1v1h-1zM81 89h1v1h-1zM62 89h1v1h-1zM61 86h1v1h-1zM78 81h1v1h-1zM89 87h1v1h-1zM71 89h1v1h-1zM77 86h1v1h-1zM73 92h1v1h-1zM74 87h1v1h-1zM85 89h1v1h-1zM85 88h1v1h-1zM80 88h1v1h-1zM70 90h1v1h-1zM92 81h1v1h-1zM76 86h1v1h-1zM77 91h1v1h-1zM74 90h1v1h-1zM61 86h1v1h-1zM71 91h1v1h-1zM88 82h1v1h-1zM79 85h1v1h-1zM80 84h1v1h-1zM70 85h1v1h-1zM80 81h1v1h-1zM79 85h1v1h-1zM83 79h1v1h-1zM71 95h1v1h-1zM61 94h1v1h-1zM93 90h1v1h-1zM60 90h1v1h-1zM97 77h1v1h-1zM71 94h1v1h-1zM89 86h1v1h-1zM64 96h1v1h-1zM55 91h1v1h-1zM77 90h1v1h-1zM73 83h1v1h-1zM81 91h1v1h-1zM80 87h1v1h-1zM84 89h1v1h-1zM83 90h1v1h-1zM73 92h1v1h-1zM71 89h1v1h-1zM70 91h1v1h-1zM76 88h1v1h-1zM70 90h1v1h-1zM86 81h1v1h-1zM79 89h1v1h-1zM65 95h1v1h-1zM68 92h1v1h-1zM70 88h1v1h-1zM93 87h1v1h-1zM95 80h1v1h-1zM76 82h1v1h-1zM80 87h1v1h-1zM83 91h1v1h-1zM77 90h1v1h-1zM69 93h1v1h-1zM68 88h1v1h-1zM87 84h1v1h-1zM79 84h1v1h-1zM58 96h1v1h-1zM90 82h1v1h-1zM77 92h1v1h-1zM91 83h1v1h-1zM81 86h1v1h-1zM75 85h1v1h-1zM72 86h1v1h-1zM82 82h1v1h-1zM77 86h1v1h-1zM71 86h1v1h-1zM79 87h1v1h-1zM79 89h1v1h-1zM86 84h1v1h-1zM93 84h1v1h-1zM81 82h1v1h-1zM85 90h1v1h-1zM77 91h1v1h-1zM102 81h1v1h-1zM83 87h1v1h-1zM63 96h1v1h-1zM71 97h1v1h-1zM72 88h1v1h-1zM77 88h1v1h-1zM60 94h1v1h-1zM95 89h1v1h-1zM76 87h1v1h-1zM69 93h1v1h-1zM75 84h1v1h-1zM62 87h1v1h-1zM80 87h1v1h-1zM86 88h1v1h-1zM67 91h1v1h-1zM89 88h1v1h-1zM75 91h1v1h-1zM84 83h1v1h-1zM64 85h1v1h-1zM66 89h1v1h-1zM64 91h1v1h-1zM70 90h1v1h-1zM63 87h1v1h-1zM63 90h1v1h-1zM66 88h1v1h-1zM62 93h1v1h-1zM69 85h1v1h-1zM67 89h1v1h-1zM68 86h1v1h-1zM62 90h1v1h-1zM61 90h1v1h-1zM66 86h1v1h-1zM63 84h1v1h-1zM62 93h1v1h-1zM61 87h1v1h-1zM59 84h1v1h-1zM62 90h1v1h-1zM62 91h1v1h-1zM67 87h1v1h-1zM73 92h1v1h-1zM65 89h1v1h-1zM71 88h1v1h-1zM61 88h1v1h-1zM68 90h1v1h-1zM67 94h1v1h-1zM66 94h1v1h-1zM66 84h1v1h-1zM55 94h1v1h-1zM63 92h1v1h-1zM61 90h1v1h-1zM61 87h1v1h-1zM62 89h1v1h-1zM64 90h1v1h-1zM59 92h1v1h-1zM63 87h1v1h-1zM64 88h1v1h-1zM60 90h1v1h-1zM63 89h1v1h-1zM72 87h1v1h-1zM65 87h1v1h-1zM59 92h1v1h-1zM69 89h1v1h-1zM65 95h1v1h-1zM71 85h1v1h-1zM67 88h1v1h-1zM65 94h1v1h-1zM69 88h1v1h-1zM64 91h1v1h-1zM69 87h1v1h-1zM68 90h1v1h-1zM73 88h1v1h-1zM66 87h1v1h-1zM68 88h1v1h-1zM64 90h1v1h-1zM58 90h1v1h-1zM63 89h1v1h-1zM63 92h1v1h-1zM72 91h1v1h-1zM63 90h1v1h-1zM66 89h1v1h-1zM72 89h1v1h-1zM61 90h1v1h-1zM68 87h1v1h-1zM66 88h1v1h-1zM67 86h1v1h-1zM62 86h1v1h-1zM64 87h1v1h-1zM74 90h1v1h-1zM64 90h1v1h-1zM69 88h1v1h-1zM70 89h1v1h-1zM61 89h1v1h-1zM58 93h1v1h-1zM64 94h1v1h-1zM66 90h1v1h-1zM66 91h1v1h-1zM58 87h1v1h-1zM63 90h1v1h-1zM72 90h1v1h-1zM63 92h1v1h-1zM66 94h1v1h-1zM73 90h1v1h-1zM71 90h1v1h-1zM69 88h1v1h-1zM61 88h1v1h-1zM67 87h1v1h-1zM66 86h1v1h-1zM67 90h1v1h-1zM68 94h1v1h-1zM62 91h1v1h-1zM66 90h1v1h-1zM69 88h1v1h-1zM67 85h1v1h-1zM69 93h1v1h-1zM62 89h1v1h-1zM61 87h1v1h-1zM70 91h1v1h-1zM62 90h1v1h-1zM112 67h1v1h-1zM85 71h1v1h-1zM96 65h1v1h-1zM108 68h1v1h-1zM103 67h1v1h-1zM93 68h1v1h-1zM128 60h1v1h-1zM116 61h1v1h-1zM97 71h1v1h-1zM90 69h1v1h-1zM97 60h1v1h-1zM92 63h1v1h-1zM98 71h1v1h-1zM93 72h1v1h-1zM78 68h1v1h-1zM101 69h1v1h-1zM98 67h1v1h-1zM128 67h1v1h-1zM115 67h1v1h-1zM96 66h1v1h-1zM99 63h1v1h-1zM106 64h1v1h-1zM122 69h1v1h-1zM94 69h1v1h-1zM87 67h1v1h-1zM100 70h1v1h-1zM90 69h1v1h-1zM111 70h1v1h-1zM116 70h1v1h-1zM92 69h1v1h-1zM119 65h1v1h-1zM89 72h1v1h-1zM104 66h1v1h-1zM120 66h1v1h-1zM116 67h1v1h-1zM97 69h1v1h-1zM111 68h1v1h-1zM91 67h1v1h-1zM109 65h1v1h-1zM123 68h1v1h-1zM110 64h1v1h-1zM98 67h1v1h-1zM107 73h1v1h-1zM107 72h1v1h-1zM116 67h1v1h-1zM106 65h1v1h-1zM106 65h1v1h-1zM87 69h1v1h-1zM101 70h1v1h-1zM119 70h1v1h-1zM113 66h1v1h-1zM115 67h1v1h-1zM104 68h1v1h-1zM108 69h1v1h-1zM90 73h1v1h-1zM100 66h1v1h-1zM110 65h1v1h-1zM112 72h1v1h-1zM106 66h1v1h-1zM114 66h1v1h-1zM78 66h1v1h-1zM110 67h1v1h-1zM130 69h1v1h-1zM118 68h1v1h-1zM109 67h1v1h-1zM87 64h1v1h-1zM123 67h1v1h-1zM81 72h1v1h-1zM115 63h1v1h-1zM106 66h1v1h-1zM83 65h1v1h-1zM102 69h1v1h-1zM102 62h1v1h-1zM110 70h1v1h-1zM101 62h1v1h-1zM96 64h1v1h-1zM91 69h1v1h-1zM123 67h1v1h-1zM123 62h1v1h-1zM105 70h1v1h-1zM119 62h1v1h-1zM122 69h1v1h-1zM101 66h1v1h-1zM106 70h1v1h-1zM91 74h1v1h-1zM98 65h1v1h-1zM116 65h1v1h-1zM81 70h1v1h-1zM105 64h1v1h-1zM105 76h1v1h-1zM93 71h1v1h-1zM104 67h1v1h-1zM95 67h1v1h-1zM97 61h1v1h-1zM111 63h1v1h-1zM113 67h1v1h-1zM111 68h1v1h-1zM133 71h1v1h-1zM105 69h1v1h-1zM108 69h1v1h-1zM125 68h1v1h-1zM98 73h1v1h-1zM99 65h1v1h-1zM93 67h1v1h-1zM106 63h1v1h-1zM99 70h1v1h-1zM102 69h1v1h-1zM84 69h1v1h-1zM100 64h1v1h-1zM108 65h1v1h-1zM91 66h1v1h-1zM97 64h1v1h-1zM106 66h1v1h-1zM94 70h1v1h-1zM84 68h1v1h-1zM76 66h1v1h-1zM95 72h1v1h-1zM118 69h1v1h-1zM93 66h1v1h-1zM107 66h1v1h-1zM112 67h1v1h-1zM98 64h1v1h-1zM95 68h1v1h-1zM117 63h1v1h-1zM115 67h1v1h-1zM100 70h1v1h-1zM101 59h1v1h-1zM104 68h1v1h-1zM127 65h1v1h-1zM94 71h1v1h-1zM101 65h1v1h-1zM130 65h1v1h-1zM111 65h1v1h-1zM99 67h1v1h-1zM110 67h1v1h-1zM105 68h1v1h-1zM77 63h1v1h-1zM115 67h1v1h-1zM107 65h1v1h-1zM99 65h1v1h-1zM95 65h1v1h-1zM101 69h1v1h-1zM116 66h1v1h-1zM100 71h1v1h-1zM116 68h1v1h-1zM115 66h1v1h-1zM94 73h1v1h-1zM107 64h1v1h-1zM103 63h1v1h-1zM102 74h1v1h-1zM122 64h1v1h-1zM106 66h1v1h-1zM108 66h1v1h-1zM75 63h1v1h-1zM100 70h1v1h-1zM100 64h1v1h-1zM96 73h1v1h-1zM102 69h1v1h-1zM112 63h1v1h-1zM86 62h1v1h-1zM79 69h1v1h-1zM125 66h1v1h-1zM103 67h1v1h-1zM99 70h1v1h-1zM113 67h1v1h-1zM90 68h1v1h-1zM101 68h1v1h-1zM110 70h1v1h-1zM104 71h1v1h-1zM111 69h1v1h-1zM98 67h1v1h-1zM111 68h1v1h-1zM122 70h1v1h-1zM92 69h1v1h-1zM134 65h1v1h-1zM108 72h1v1h-1zM107 65h1v1h-1zM91 68h1v1h-1zM97 70h1v1h-1zM102 70h1v1h-1zM108 70h1v1h-1zM95 64h1v1h-1zM122 69h1v1h-1zM111 66h1v1h-1zM115 69h1v1h-1zM110 64h1v1h-1zM117 72h1v1h-1zM102 74h1v1h-1zM127 69h1v1h-1zM98 68h1v1h-1zM109 67h1v1h-1zM74 68h1v1h-1zM108 70h1v1h-1zM112 66h1v1h-1zM115 67h1v1h-1zM95 68h1v1h-1zM85 62h1v1h-1zM120 67h1v1h-1zM106 67h1v1h-1zM116 65h1v1h-1zM111 69h1v1h-1zM86 74h1v1h-1zM74 64h1v1h-1zM118 67h1v1h-1zM104 71h1v1h-1zM117 61h1v1h-1zM100 65h1v1h-1zM100 67h1v1h-1zM80 65h1v1h-1zM115 67h1v1h-1zM107 68h1v1h-1zM112 64h1v1h-1zM125 64h1v1h-1zM119 72h1v1h-1zM108 66h1v1h-1zM95 64h1v1h-1zM100 67h1v1h-1zM97 72h1v1h-1zM112 70h1v1h-1zM103 69h1v1h-1zM88 68h1v1h-1zM92 66h1v1h-1zM141 69h1v1h-1zM95 64h1v1h-1zM104 70h1v1h-1zM108 66h1v1h-1zM96 64h1v1h-1zM100 69h1v1h-1zM133 70h1v1h-1zM88 65h1v1h-1zM100 66h1v1h-1zM100 66h1v1h-1zM113 57h1v1h-1zM110 71h1v1h-1zM117 69h1v1h-1zM92 64h1v1h-1zM115 71h1v1h-1zM126 69h1v1h-1zM88 71h1v1h-1zM103 66h1v1h-1zM91 67h1v1h-1zM99 62h1v1h-1zM96 64h1v1h-1zM93 66h1v1h-1zM116 69h1v1h-1zM93 71h1v1h-1zM143 64h1v1h-1zM119 63h1v1h-1zM127 73h1v1h-1zM110 73h1v1h-1zM107 70h1v1h-1zM99 63h1v1h-1zM99 68h1v1h-1zM112 64h1v1h-1zM101 67h1v1h-1zM101 67h1v1h-1zM107 72h1v1h-1zM85 63h1v1h-1zM105 62h1v1h-1zM90 61h1v1h-1zM106 67h1v1h-1zM105 70h1v1h-1zM84 68h1v1h-1zM105 62h1v1h-1zM114 74h1v1h-1zM101 63h1v1h-1zM99 64h1v1h-1zM114 67h1v1h-1zM101 73h1v1h-1zM118 71h1v1h-1zM122 64h1v1h-1zM100 72h1v1h-1zM91 71h1v1h-1zM130 57h1v1h-1zM104 65h1v1h-1zM89 73h1v1h-1zM85 66h1v1h-1zM106 62h1v1h-1zM98 64h1v1h-1zM90 64h1v1h-1zM91 68h1v1h-1zM122 62h1v1h-1zM85 67h1v1h-1zM114 65h1v1h-1zM111 61h1v1h-1zM101 61h1v1h-1zM117 62h1v1h-1zM114 67h1v1h-1zM113 59h1v1h-1zM100 66h1v1h-1zM99 65h1v1h-1zM82 65h1v1h-1zM105 72h1v1h-1zM103 60h1v1h-1zM101 78h1v1h-1zM124 79h1v1h-1zM107 61h1v1h-1zM83 67h1v1h-1zM111 66h1v1h-1zM115 69h1v1h-1zM75 78h1v1h-1zM75 61h1v1h-1zM73 89h1v1h-1zM66 69h1v1h-1zM87 79h1v1h-1zM68 82h1v1h-1zM58 73h1v1h-1zM72 63h1v1h-1zM84 73h1v1h-1zM56 84h1v1h-1zM55 76h1v1h-1zM72 80h1v1h-1zM66 68h1v1h-1zM68 70h1v1h-1zM74 73h1v1h-1zM72 78h1v1h-1zM71 68h1v1h-1zM72 65h1v1h-1zM70 69h1v1h-1zM79 75h1v1h-1zM61 65h1v1h-1zM81 69h1v1h-1zM65 80h1v1h-1zM77 79h1v1h-1zM65 68h1v1h-1zM56 69h1v1h-1zM65 63h1v1h-1zM83 80h1v1h-1zM72 71h1v1h-1zM71 77h1v1h-1zM79 74h1v1h-1zM67 73h1v1h-1zM72 73h1v1h-1zM83 72h1v1h-1zM77 77h1v1h-1zM59 81h1v1h-1zM69 72h1v1h-1zM79 71h1v1h-1zM79 78h1v1h-1zM79 57h1v1h-1zM68 78h1v1h-1zM67 66h1v1h-1zM65 80h1v1h-1zM75 85h1v1h-1zM76 79h1v1h-1zM81 77h1v1h-1zM60 70h1v1h-1zM60 85h1v1h-1zM70 75h1v1h-1zM81 81h1v1h-1zM74 73h1v1h-1zM63 86h1v1h-1zM63 74h1v1h-1zM88 80h1v1h-1zM74 83h1v1h-1zM72 73h1v1h-1zM81 71h1v1h-1zM82 69h1v1h-1zM69 66h1v1h-1zM69 61h1v1h-1zM65 84h1v1h-1zM68 67h1v1h-1zM62 79h1v1h-1zM55 82h1v1h-1zM69 73h1v1h-1zM53 70h1v1h-1zM61 88h1v1h-1zM80 77h1v1h-1zM61 60h1v1h-1zM59 80h1v1h-1zM61 80h1v1h-1zM63 82h1v1h-1zM70 64h1v1h-1zM73 69h1v1h-1zM65 77h1v1h-1zM66 82h1v1h-1zM63 75h1v1h-1zM76 79h1v1h-1zM78 81h1v1h-1zM70 71h1v1h-1zM66 49h1v1h-1zM75 97h1v1h-1zM75 68h1v1h-1zM117 79h1v1h-1zM106 83h1v1h-1zM96 84h1v1h-1zM90 84h1v1h-1zM87 89h1v1h-1zM109 85h1v1h-1zM97 77h1v1h-1zM90 84h1v1h-1zM104 82h1v1h-1zM96 80h1v1h-1zM107 81h1v1h-1zM97 76h1v1h-1zM122 88h1v1h-1zM93 87h1v1h-1zM100 84h1v1h-1zM99 80h1v1h-1zM89 81h1v1h-1zM114 79h1v1h-1zM110 89h1v1h-1zM104 83h1v1h-1zM110 85h1v1h-1zM98 81h1v1h-1zM100 78h1v1h-1zM97 87h1v1h-1zM91 89h1v1h-1zM72 104h1v1h-1zM99 96h1v1h-1zM87 114h1v1h-1zM76 94h1v1h-1zM68 104h1v1h-1zM59 105h1v1h-1zM119 104h1v1h-1zM95 64h1v1h-1zM58 74h1v1h-1zM104 82h1v1h-1zM67 79h1v1h-1zM59 112h1v1h-1z" fill="#000" fill-opacity="0.55"/>
<path d="M52 97h1v1h-1zM52 103h1v1h-1zM54 98h1v1h-1zM54 105h1v1h-1zM53 93h1v1h-1zM54 106h1v1h-1zM54 104h1v1h-1zM53 92h1v1h-1zM55 102h1v1h-1zM54 101h1v1h-1zM55 101h1v1h-1zM54 98h1v1h-1zM55 99h1v1h-1zM53 97h1v1h-1zM55 103h1v1h-1zM54 99h1v1h-1zM53 104h1v1h-1zM54 100h1v1h-1zM53 98h1v1h-1zM54 107h1v1h-1zM55 91h1v1h-1zM54 99h1v1h-1zM55 97h1v1h-1zM54 93h1v1h-1zM54 92h1v1h-1zM53 95h1v1h-1zM55 98h1v1h-1zM54 95h1v1h-1zM55 107h1v1h-1zM53 100h1v1h-1zM53 104h1v1h-1zM54 92h1v1h-1zM52 98h1v1h-1zM54 96h1v1h-1zM54 87h1v1h-1zM54 112h1v1h-1zM53 98h1v1h-1zM54 99h1v1h-1zM54 101h1v1h-1zM55 108h1v1h-1zM56 104h1v1h-1zM53 100h1v1h-1zM54 100h1v1h-1zM53 99h1v1h-1zM54 97h1v1h-1zM52 107h1v1h-1zM55 102h1v1h-1zM53 103h1v1h-1zM55 97h1v1h-1zM52 100h1v1h-1zM54 99h1v1h-1zM53 87h1v1h-1zM56 101h1v1h-1zM54 89h1v1h-1zM55 105h1v1h-1zM54 90h1v1h-1zM54 100h1v1h-1zM52 100h1v1h-1zM53 94h1v1h-1zM53 94h1v1h-1zM56 97h1v1h-1zM54 111h1v1h-1zM54 93h1v1h-1zM55 99h1v1h-1zM55 99h1v1h-1zM53 102h1v1h-1zM55 105h1v1h-1zM52 108h1v1h-1zM53 97h1v1h-1zM54 97h1v1h-1zM53 95h1v1h-1zM53 99h1v1h-1zM53 101h1v1h-1zM53 102h1v1h-1zM54 96h1v1h-1zM54 98h1v1h-1zM52 106h1v1h-1zM52 97h1v1h-1zM55 101h1v1h-1zM52 92h1v1h-1zM53 98h1v1h-1zM54 103h1v1h-1zM53 101h1v1h-1zM53 95h1v1h-1zM54 95h1v1h-1zM54 104h1v1h-1zM54 100h1v1h-1zM54 96h1v1h-1zM53 102h1v1h-1zM54 98h1v1h-1zM52 107h1v1h-1zM54 97h1v1h-1zM53 102h1v1h-1zM55 99h1v1h-1zM56 95h1v1h-1zM54 90h1v1h-1zM54 96h1v1h-1zM52 112h1v1h-1zM53 93h1v1h-1zM53 96h1v1h-1zM54 103h1v1h-1zM54 91h1v1h-1zM54 101h1v1h-1zM53 108h1v1h-1zM54 101h1v1h-1zM53 95h1v1h-1zM52 103h1v1h-1zM53 111h1v1h-1zM53 101h1v1h-1zM52 105h1v1h-1zM55 103h1v1h-1zM54 85h1v1h-1zM54 96h1v1h-1zM52 105h1v1h-1zM54 101h1v1h-1zM54 96h1v1h-1zM52 102h1v1h-1zM54 89h1v1h-1zM54 102h1v1h-1zM53 98h1v1h-1zM53 88h1v1h-1zM54 101h1v1h-1zM54 103h1v1h-1zM53 88h1v1h-1zM54 93h1v1h-1zM54 94h1v1h-1zM53 97h1v1h-1zM54 99h1v1h-1zM55 99h1v1h-1zM53 94h1v1h-1zM55 92h1v1h-1zM53 94h1v1h-1zM53 101h1v1h-1zM54 106h1v1h-1zM56 102h1v1h-1zM53 92h1v1h-1zM53 88h1v1h-1zM53 106h1v1h-1zM53 85h1v1h-1zM52 92h1v1h-1zM53 96h1v1h-1zM55 106h1v1h-1zM53 90h1v1h-1zM56 103h1v1h-1zM55 90h1v1h-1zM54 95h1v1h-1zM53 102h1v1h-1zM52 102h1v1h-1zM54 95h1v1h-1zM52 99h1v1h-1zM53 102h1v1h-1zM53 89h1v1h-1zM54 98h1v1h-1zM54 105h1v1h-1zM55 107h1v1h-1zM54 103h1v1h-1zM54 101h1v1h-1zM55 97h1v1h-1zM53 93h1v1h-1zM52 104h1v1h-1zM52 104h1v1h-1zM53 87h1v1h-1zM53 106h1v1h-1zM52 101h1v1h-1zM54 93h1v1h-1zM55 103h1v1h-1zM54 107h1v1h-1zM53 104h1v1h-1zM54 107h1v1h-1zM55 105h1v1h-1zM53 105h1v1h-1zM54 94h1v1h-1zM55 99h1v1h-1zM53 94h1v1h-1zM55 107h1v1h-1zM54 100h1v1h-1zM55 109h1v1h-1zM54 106h1v1h-1zM53 99h1v1h-1zM52 100h1v1h-1zM52 93h1v1h-1zM52 98h1v1h-1zM53 103h1v1h-1zM54 94h1v1h-1zM53 103h1v1h-1zM55 94h1v1h-1zM52 90h1v1h-1zM53 95h1v1h-1zM54 86h1v1h-1zM53 104h1v1h-1zM54 99h1v1h-1zM55 98h1v1h-1zM55 99h1v1h-1zM53 94h1v1h-1zM53 96h1v1h-1zM55 99h1v1h-1zM53 99h1v1h-1zM52 104h1v1h-1zM53 97h1v1h-1zM56 97h1v1h-1zM52 87h1v1h-1zM57 85h1v1h-1zM57 86h1v1h-1zM56 95h1v1h-1zM55 96h1v1h-1zM52 87h1v1h-1zM56 95h1v1h-1zM57 90h1v1h-1zM55 90h1v1h-1zM55 87h1v1h-1zM55 92h1v1h-1zM54 89h1v1h-1zM54 88h1v1h-1zM55 93h1v1h-1zM52 84h1v1h-1zM52 88h1v1h-1zM55 92h1v1h-1zM56 97h1v1h-1zM56 87h1v1h-1zM55 92h1v1h-1zM56 92h1v1h-1zM59 96h1v1h-1zM55 93h1v1h-1zM55 88h1v1h-1zM56 87h1v1h-1zM56 95h1v1h-1zM55 93h1v1h-1zM55 87h1v1h-1zM55 91h1v1h-1zM54 92h1v1h-1zM57 94h1v1h-1zM58 93h1v1h-1zM56 90h1v1h-1zM55 89h1v1h-1zM57 87h1v1h-1zM54 91h1v1h-1zM57 84h1v1h-1zM55 88h1v1h-1zM57 92h1v1h-1zM54 90h1v1h-1zM57 89h1v1h-1zM54 88h1v1h-1zM54 95h1v1h-1zM54 90h1v1h-1zM57 92h1v1h-1zM53 91h1v1h-1zM53 93h1v1h-1zM54 99h1v1h-1zM57 92h1v1h-1zM56 93h1v1h-1zM55 86h1v1h-1zM55 90h1v1h-1zM54 89h1v1h-1zM54 92h1v1h-1zM56 94h1v1h-1zM56 90h1v1h-1zM53 90h1v1h-1zM54 87h1v1h-1zM57 90h1v1h-1zM56 93h1v1h-1zM57 82h1v1h-1zM55 92h1v1h-1zM52 93h1v1h-1zM54 89h1v1h-1zM56 92h1v1h-1zM53 87h1v1h-1zM56 93h1v1h-1zM59 93h1v1h-1zM53 96h1v1h-1zM54 96h1v1h-1zM56 90h1v1h-1zM57 94h1v1h-1zM54 88h1v1h-1zM52 92h1v1h-1zM56 98h1v1h-1zM58 102h1v1h-1zM53 104h1v1h-1zM55 105h1v1h-1zM54 108h1v1h-1zM55 108h1v1h-1zM58 105h1v1h-1zM57 102h1v1h-1zM56 105h1v1h-1zM55 103h1v1h-1zM55 105h1v1h-1zM57 105h1v1h-1zM55 101h1v1h-1zM58 102h1v1h-1zM53 106h1v1h-1zM55 109h1v1h-1zM54 106h1v1h-1zM53 104h1v1h-1zM54 110h1v1h-1zM56 98h1v1h-1zM57 110h1v1h-1zM56 105h1v1h-1zM57 107h1v1h-1zM52 99h1v1h-1zM56 102h1v1h-1zM57 99h1v1h-1zM54 109h1v1h-1zM53 111h1v1h-1zM56 111h1v1h-1zM54 114h1v1h-1zM55 116h1v1h-1zM54 116h1v1h-1zM54 118h1v1h-1zM56 121h1v1h-1zM53 121h1v1h-1zM54 123h1v1h-1zM57 125h1v1h-1zM55 125h1v1h-1zM97 83h1v1h-1zM71 85h1v1h-1zM67 95h1v1h-1zM69 92h1v1h-1zM86 84h1v1h-1zM65 90h1v1h-1zM74 89h1v1h-1zM92 85h1v1h-1zM77 86h1v1h-1zM79 90h1v1h-1zM93 82h1v1h-1zM84 89h1v1h-1zM61 89h1v1h-1zM83 83h1v1h-1zM74 93h1v1h-1zM78 87h1v1h-1zM85 92h1v1h-1zM85 83h1v1h-1zM82 90h1v1h-1zM76 88h1v1h-1zM77 92h1v1h-1zM88 82h1v1h-1zM90 84h1v1h-1zM68 88h1v1h-1zM78 90h1v1h-1zM70 88h1v1h-1zM85 85h1v1h-1zM68 94h1v1h-1zM77 88h1v1h-1zM61 87h1v1h-1zM83 80h1v1h-1zM83 86h1v1h-1zM86 87h1v1h-1zM76 88h1v1h-1zM75 89h1v1h-1zM65 89h1v1h-1zM72 83h1v1h-1zM55 91h1v1h-1zM84 86h1v1h-1zM71 88h1v1h-1zM78 88h1v1h-1zM80 84h1v1h-1zM62 94h1v1h-1zM79 90h1v1h-1zM70 99h1v1h-1zM76 82h1v1h-1zM68 87h1v1h-1zM81 85h1v1h-1zM98 84h1v1h-1zM67 96h1v1h-1zM76 87h1v1h-1zM70 95h1v1h-1zM87 90h1v1h-1zM84 95h1v1h-1zM88 87h1v1h-1zM65 89h1v1h-1zM56 96h1v1h-1zM60 86h1v1h-1zM85 81h1v1h-1zM68 97h1v1h-1zM76 85h1v1h-1zM68 86h1v1h-1zM66 89h1v1h-1zM79 85h1v1h-1zM79 87h1v1h-1zM84 88h1v1h-1zM73 85h1v1h-1zM70 89h1v1h-1zM83 87h1v1h-1zM64 85h1v1h-1zM69 90h1v1h-1zM68 92h1v1h-1zM75 89h1v1h-1zM89 86h1v1h-1zM67 91h1v1h-1zM71 85h1v1h-1zM80 88h1v1h-1zM91 87h1v1h-1zM72 92h1v1h-1zM84 83h1v1h-1zM81 85h1v1h-1zM69 88h1v1h-1zM68 89h1v1h-1zM80 83h1v1h-1zM75 87h1v1h-1zM80 84h1v1h-1zM82 86h1v1h-1zM77 95h1v1h-1zM76 90h1v1h-1zM80 86h1v1h-1zM80 91h1v1h-1zM79 86h1v1h-1zM76 84h1v1h-1zM82 88h1v1h-1zM56 87h1v1h-1zM78 93h1v1h-1zM61 89h1v1h-1zM86 89h1v1h-1zM69 95h1v1h-1zM65 90h1v1h-1zM81 90h1v1h-1zM99 84h1v1h-1zM82 89h1v1h-1zM71 88h1v1h-1zM80 87h1v1h-1zM78 87h1v1h-1zM74 86h1v1h-1zM94 85h1v1h-1zM82 91h1v1h-1zM90 84h1v1h-1zM84 81h1v1h-1zM88 85h1v1h-1zM78 90h1v1h-1zM65 93h1v1h-1zM66 85h1v1h-1zM82 87h1v1h-1zM67 95h1v1h-1zM67 84h1v1h-1zM85 85h1v1h-1zM87 85h1v1h-1zM88 93h1v1h-1zM84 83h1v1h-1zM55 94h1v1h-1zM86 84h1v1h-1zM63 92h1v1h-1zM95 82h1v1h-1zM72 87h1v1h-1zM81 82h1v1h-1zM61 88h1v1h-1zM76 86h1v1h-1zM81 90h1v1h-1zM70 91h1v1h-1zM66 85h1v1h-1zM77 85h1v1h-1zM77 87h1v1h-1zM88 87h1v1h-1zM61 84h1v1h-1zM72 91h1v1h-1zM66 84h1v1h-1zM70 85h1v1h-1zM86 90h1v1h-1zM65 85h1v1h-1zM62 87h1v1h-1zM79 84h1v1h-1zM82 89h1v1h-1zM82 88h1v1h-1zM83 93h1v1h-1zM74 89h1v1h-1zM81 93h1v1h-1zM72 89h1v1h-1zM71 90h1v1h-1zM80 90h1v1h-1zM74 83h1v1h-1zM77 91h1v1h-1zM66 95h1v1h-1zM91 82h1v1h-1zM79 90h1v1h-1zM75 85h1v1h-1zM76 88h1v1h-1zM85 88h1v1h-1zM84 85h1v1h-1zM67 86h1v1h-1zM69 85h1v1h-1zM74 88h1v1h-1zM66 86h1v1h-1zM80 95h1v1h-1zM78 88h1v1h-1zM83 90h1v1h-1zM60 89h1v1h-1zM69 88h1v1h-1zM72 89h1v1h-1zM75 89h1v1h-1zM77 86h1v1h-1zM72 85h1v1h-1zM74 82h1v1h-1zM60 94h1v1h-1zM73 91h1v1h-1zM91 76h1v1h-1zM92 80h1v1h-1zM91 89h1v1h-1zM64 89h1v1h-1zM83 88h1v1h-1zM82 90h1v1h-1zM91 86h1v1h-1zM65 87h1v1h-1zM86 89h1v1h-1zM74 91h1v1h-1zM78 87h1v1h-1zM83 87h1v1h-1zM80 88h1v1h-1zM95 85h1v1h-1zM77 91h1v1h-1zM77 85h1v1h-1zM79 87h1v1h-1zM63 92h1v1h-1zM80 88h1v1h-1zM76 84h1v1h-1zM78 90h1v1h-1zM76 87h1v1h-1zM88 85h1v1h-1zM76 84h1v1h-1zM91 83h1v1h-1zM80 86h1v1h-1zM57 87h1v1h-1zM54 91h1v1h-1zM82 95h1v1h-1zM87 91h1v1h-1zM82 89h1v1h-1zM79 87h1v1h-1zM66 84h1v1h-1zM78 88h1v1h-1zM86 81h1v1h-1zM82 80h1v1h-1zM74 86h1v1h-1zM69 87h1v1h-1zM73 87h1v1h-1zM58 96h1v1h-1zM82 88h1v1h-1zM88 88h1v1h-1zM75 88h1v1h-1zM68 86h1v1h-1zM82 83h1v1h-1zM75 85h1v1h-1zM77 93h1v1h-1zM72 92h1v1h-1zM79 88h1v1h-1zM71 89h1v1h-1zM75 86h1v1h-1zM82 81h1v1h-1zM73 88h1v1h-1zM92 86h1v1h-1zM80 90h1v1h-1zM71 81h1v1h-1zM80 88h1v1h-1zM86 89h1v1h-1zM86 88h1v1h-1zM72 83h1v1h-1zM64 91h1v1h-1zM71 87h1v1h-1zM98 89h1v1h-1zM84 90h1v1h-1zM82 88h1v1h-1zM54 93h1v1h-1zM87 94h1v1h-1zM82 87h1v1h-1zM62 93h1v1h-1zM85 85h1v1h-1zM74 89h1v1h-1zM79 95h1v1h-1zM71 86h1v1h-1zM86 81h1v1h-1zM95 86h1v1h-1zM79 90h1v1h-1zM80 88h1v1h-1zM73 93h1v1h-1zM73 88h1v1h-1zM73 86h1v1h-1zM89 86h1v1h-1zM79 84h1v1h-1zM69 90h1v1h-1zM82 91h1v1h-1zM78 85h1v1h-1zM78 88h1v1h-1zM72 88h1v1h-1zM67 91h1v1h-1zM78 90h1v1h-1zM73 83h1v1h-1zM86 85h1v1h-1zM55 83h1v1h-1zM71 87h1v1h-1zM82 90h1v1h-1zM72 88h1v1h-1zM69 90h1v1h-1zM85 82h1v1h-1zM64 89h1v1h-1zM65 87h1v1h-1zM90 82h1v1h-1zM71 92h1v1h-1zM78 85h1v1h-1zM69 94h1v1h-1zM81 89h1v1h-1zM57 89h1v1h-1zM74 89h1v1h-1zM78 88h1v1h-1zM64 82h1v1h-1zM107 81h1v1h-1zM88 87h1v1h-1zM86 83h1v1h-1zM81 89h1v1h-1zM94 85h1v1h-1zM97 82h1v1h-1zM80 81h1v1h-1zM88 91h1v1h-1zM87 90h1v1h-1zM77 86h1v1h-1zM75 83h1v1h-1zM64 95h1v1h-1zM59 93h1v1h-1zM76 87h1v1h-1zM78 93h1v1h-1zM67 90h1v1h-1zM79 86h1v1h-1zM78 85h1v1h-1zM69 86h1v1h-1zM76 85h1v1h-1zM68 88h1v1h-1zM62 89h1v1h-1zM85 89h1v1h-1zM83 89h1v1h-1zM69 86h1v1h-1zM79 96h1v1h-1zM83 82h1v1h-1zM87 87h1v1h-1zM62 87h1v1h-1zM76 95h1v1h-1zM88 78h1v1h-1zM105 80h1v1h-1zM65 95h1v1h-1zM83 90h1v1h-1zM71 90h1v1h-1zM71 91h1v1h-1zM88 84h1v1h-1zM70 90h1v1h-1zM89 83h1v1h-1zM85 90h1v1h-1zM63 89h1v1h-1zM67 92h1v1h-1zM64 88h1v1h-1zM74 87h1v1h-1zM66 87h1v1h-1zM62 86h1v1h-1zM65 90h1v1h-1zM65 97h1v1h-1zM71 93h1v1h-1zM62 94h1v1h-1zM71 87h1v1h-1zM63 92h1v1h-1zM64 88h1v1h-1zM67 95h1v1h-1zM59 91h1v1h-1zM65 87h1v1h-1zM65 90h1v1h-1zM66 87h1v1h-1zM66 92h1v1h-1zM63 97h1v1h-1zM69 83h1v1h-1zM62 91h1v1h-1zM62 93h1v1h-1zM63 88h1v1h-1zM65 90h1v1h-1zM65 92h1v1h-1zM66 93h1v1h-1zM54 92h1v1h-1zM62 89h1v1h-1zM70 90h1v1h-1zM62 90h1v1h-1zM61 94h1v1h-1zM65 90h1v1h-1zM63 94h1v1h-1zM62 86h1v1h-1zM62 93h1v1h-1zM63 90h1v1h-1zM63 88h1v1h-1zM68 90h1v1h-1zM59 92h1v1h-1zM64 88h1v1h-1zM67 87h1v1h-1zM63 86h1v1h-1zM67 89h1v1h-1zM71 85h1v1h-1zM65 87h1v1h-1zM64 86h1v1h-1zM67 87h1v1h-1zM61 90h1v1h-1zM63 93h1v1h-1zM59 90h1v1h-1zM62 87h1v1h-1zM66 94h1v1h-1zM69 84h1v1h-1zM69 90h1v1h-1zM68 92h1v1h-1zM75 88h1v1h-1zM66 87h1v1h-1zM71 90h1v1h-1zM66 88h1v1h-1zM65 92h1v1h-1zM65 90h1v1h-1zM58 94h1v1h-1zM60 92h1v1h-1zM62 87h1v1h-1zM61 94h1v1h-1zM68 90h1v1h-1zM70 89h1v1h-1zM66 87h1v1h-1zM72 88h1v1h-1zM62 89h1v1h-1zM60 86h1v1h-1zM67 87h1v1h-1zM73 85h1v1h-1zM65 93h1v1h-1zM69 89h1v1h-1zM68 90h1v1h-1zM66 88h1v1h-1zM67 89h1v1h-1zM63 90h1v1h-1zM63 90h1v1h-1zM68 87h1v1h-1zM63 88h1v1h-1zM67 91h1v1h-1zM69 90h1v1h-1zM62 91h1v1h-1zM70 94h1v1h-1zM64 85h1v1h-1zM65 92h1v1h-1zM63 89h1v1h-1zM63 94h1v1h-1zM73 88h1v1h-1zM71 91h1v1h-1zM74 87h1v1h-1zM58 89h1v1h-1zM59 88h1v1h-1zM69 87h1v1h-1zM71 86h1v1h-1zM66 87h1v1h-1zM78 84h1v1h-1zM116 69h1v1h-1zM107 63h1v1h-1zM98 71h1v1h-1zM85 70h1v1h-1zM98 69h1v1h-1zM119 70h1v1h-1zM105 66h1v1h-1zM105 71h1v1h-1zM118 65h1v1h-1zM100 59h1v1h-1zM115 67h1v1h-1zM105 70h1v1h-1zM124 65h1v1h-1zM111 71h1v1h-1zM116 72h1v1h-1zM111 69h1v1h-1zM114 62h1v1h-1zM107 66h1v1h-1zM117 61h1v1h-1zM104 71h1v1h-1zM119 71h1v1h-1zM107 66h1v1h-1zM119 70h1v1h-1zM115 68h1v1h-1zM112 69h1v1h-1zM115 64h1v1h-1zM110 65h1v1h-1zM118 67h1v1h-1zM103 60h1v1h-1zM126 63h1v1h-1zM113 65h1v1h-1zM109 72h1v1h-1zM113 67h1v1h-1zM101 68h1v1h-1zM97 70h1v1h-1zM99 71h1v1h-1zM93 72h1v1h-1zM109 68h1v1h-1zM118 69h1v1h-1zM98 66h1v1h-1zM102 65h1v1h-1zM121 66h1v1h-1zM117 67h1v1h-1zM99 72h1v1h-1zM106 67h1v1h-1zM110 72h1v1h-1zM104 67h1v1h-1zM101 66h1v1h-1zM113 69h1v1h-1zM108 68h1v1h-1zM104 63h1v1h-1zM101 69h1v1h-1zM112 66h1v1h-1zM93 66h1v1h-1zM108 63h1v1h-1zM126 64h1v1h-1zM87 68h1v1h-1zM113 68h1v1h-1zM88 63h1v1h-1zM81 72h1v1h-1zM121 71h1v1h-1zM108 62h1v1h-1zM89 71h1v1h-1zM125 70h1v1h-1zM99 63h1v1h-1zM104 68h1v1h-1zM106 69h1v1h-1zM116 67h1v1h-1zM122 68h1v1h-1zM113 65h1v1h-1zM91 67h1v1h-1zM102 68h1v1h-1zM99 72h1v1h-1zM114 62h1v1h-1zM92 63h1v1h-1zM85 68h1v1h-1zM97 70h1v1h-1zM95 70h1v1h-1zM102 71h1v1h-1zM98 62h1v1h-1zM116 70h1v1h-1zM124 69h1v1h-1zM94 66h1v1h-1zM95 66h1v1h-1zM114 66h1v1h-1zM110 68h1v1h-1zM104 71h1v1h-1zM108 69h1v1h-1zM93 68h1v1h-1zM87 67h1v1h-1zM91 68h1v1h-1zM101 64h1v1h-1zM105 70h1v1h-1zM101 66h1v1h-1zM97 68h1v1h-1zM108 66h1v1h-1zM115 59h1v1h-1zM120 68h1v1h-1zM93 64h1v1h-1zM91 67h1v1h-1zM114 67h1v1h-1zM102 66h1v1h-1zM109 69h1v1h-1zM106 66h1v1h-1zM108 63h1v1h-1zM99 67h1v1h-1zM106 63h1v1h-1zM99 70h1v1h-1zM117 63h1v1h-1zM111 68h1v1h-1zM92 70h1v1h-1zM111 63h1v1h-1zM85 67h1v1h-1zM100 75h1v1h-1zM89 72h1v1h-1zM129 67h1v1h-1zM109 65h1v1h-1zM101 70h1v1h-1zM99 71h1v1h-1zM112 69h1v1h-1zM105 68h1v1h-1zM97 66h1v1h-1zM117 68h1v1h-1zM97 68h1v1h-1zM96 71h1v1h-1zM118 74h1v1h-1zM109 67h1v1h-1zM113 66h1v1h-1zM104 73h1v1h-1zM106 72h1v1h-1zM107 68h1v1h-1zM95 67h1v1h-1zM84 66h1v1h-1zM115 66h1v1h-1zM103 66h1v1h-1zM105 63h1v1h-1zM106 68h1v1h-1zM99 71h1v1h-1zM118 70h1v1h-1zM116 70h1v1h-1zM110 70h1v1h-1zM92 64h1v1h-1zM91 62h1v1h-1zM104 63h1v1h-1zM118 68h1v1h-1zM94 65h1v1h-1zM101 67h1v1h-1zM93 67h1v1h-1zM106 68h1v1h-1zM102 67h1v1h-1zM116 67h1v1h-1zM110 67h1v1h-1zM104 67h1v1h-1zM108 60h1v1h-1zM109 67h1v1h-1zM106 64h1v1h-1zM103 63h1v1h-1zM122 68h1v1h-1zM107 71h1v1h-1zM109 69h1v1h-1zM90 66h1v1h-1zM108 68h1v1h-1zM104 70h1v1h-1zM98 70h1v1h-1zM115 65h1v1h-1zM112 69h1v1h-1zM126 67h1v1h-1zM112 73h1v1h-1zM101 65h1v1h-1zM94 64h1v1h-1zM105 69h1v1h-1zM93 65h1v1h-1zM106 71h1v1h-1zM123 59h1v1h-1zM105 65h1v1h-1zM92 68h1v1h-1zM98 64h1v1h-1zM103 69h1v1h-1zM93 67h1v1h-1zM97 72h1v1h-1zM95 69h1v1h-1zM109 65h1v1h-1zM93 71h1v1h-1zM103 71h1v1h-1zM108 62h1v1h-1zM115 65h1v1h-1zM84 65h1v1h-1zM102 64h1v1h-1zM109 69h1v1h-1zM102 64h1v1h-1zM95 70h1v1h-1zM114 65h1v1h-1zM106 67h1v1h-1zM110 66h1v1h-1zM104 67h1v1h-1zM113 63h1v1h-1zM127 66h1v1h-1zM110 69h1v1h-1zM113 67h1v1h-1zM104 67h1v1h-1zM102 66h1v1h-1zM97 66h1v1h-1zM100 66h1v1h-1zM98 71h1v1h-1zM96 67h1v1h-1zM113 66h1v1h-1zM88 69h1v1h-1zM106 70h1v1h-1zM91 68h1v1h-1zM110 71h1v1h-1zM100 63h1v1h-1zM110 68h1v1h-1zM92 63h1v1h-1zM104 67h1v1h-1zM98 67h1v1h-1zM121 64h1v1h-1zM102 66h1v1h-1zM101 64h1v1h-1zM102 66h1v1h-1zM81 68h1v1h-1zM97 67h1v1h-1zM101 64h1v1h-1zM118 65h1v1h-1zM104 65h1v1h-1zM102 68h1v1h-1zM88 73h1v1h-1zM135 63h1v1h-1zM63 68h1v1h-1zM107 66h1v1h-1zM126 60h1v1h-1zM134 71h1v1h-1zM79 65h1v1h-1zM99 62h1v1h-1zM89 75h1v1h-1zM138 72h1v1h-1zM65 71h1v1h-1zM109 63h1v1h-1zM111 70h1v1h-1zM96 78h1v1h-1zM97 64h1v1h-1zM95 64h1v1h-1zM97 68h1v1h-1zM113 66h1v1h-1zM112 61h1v1h-1zM118 66h1v1h-1zM91 67h1v1h-1zM130 60h1v1h-1zM91 65h1v1h-1zM74 64h1v1h-1zM90 67h1v1h-1zM94 75h1v1h-1zM117 70h1v1h-1zM119 63h1v1h-1zM87 65h1v1h-1zM113 68h1v1h-1zM121 66h1v1h-1zM122 70h1v1h-1zM116 66h1v1h-1zM101 77h1v1h-1zM109 63h1v1h-1zM121 68h1v1h-1zM104 61h1v1h-1zM88 69h1v1h-1zM99 69h1v1h-1zM110 63h1v1h-1zM93 76h1v1h-1zM94 64h1v1h-1zM114 68h1v1h-1zM110 71h1v1h-1zM99 66h1v1h-1zM108 70h1v1h-1zM118 63h1v1h-1zM80 67h1v1h-1zM77 76h1v1h-1zM104 67h1v1h-1zM62 69h1v1h-1zM110 71h1v1h-1zM107 66h1v1h-1zM100 62h1v1h-1zM100 64h1v1h-1zM93 66h1v1h-1zM101 73h1v1h-1zM97 65h1v1h-1zM96 60h1v1h-1zM70 70h1v1h-1zM88 71h1v1h-1zM96 63h1v1h-1zM97 68h1v1h-1zM102 77h1v1h-1zM116 67h1v1h-1zM100 64h1v1h-1zM99 69h1v1h-1zM108 68h1v1h-1zM96 72h1v1h-1zM97 72h1v1h-1zM100 63h1v1h-1zM120 69h1v1h-1zM114 65h1v1h-1zM82 75h1v1h-1zM101 68h1v1h-1zM73 75h1v1h-1zM65 69h1v1h-1zM70 71h1v1h-1zM63 74h1v1h-1zM71 65h1v1h-1zM70 74h1v1h-1zM61 70h1v1h-1zM75 77h1v1h-1zM60 81h1v1h-1zM72 68h1v1h-1zM85 64h1v1h-1zM74 81h1v1h-1zM86 75h1v1h-1zM82 71h1v1h-1zM66 72h1v1h-1zM81 76h1v1h-1zM75 73h1v1h-1zM72 67h1v1h-1zM68 78h1v1h-1zM69 85h1v1h-1zM87 74h1v1h-1zM54 72h1v1h-1zM71 79h1v1h-1zM69 61h1v1h-1zM78 79h1v1h-1zM90 91h1v1h-1zM66 69h1v1h-1zM82 74h1v1h-1zM53 73h1v1h-1zM71 81h1v1h-1zM74 74h1v1h-1zM80 80h1v1h-1zM71 76h1v1h-1zM64 70h1v1h-1zM79 73h1v1h-1zM73 83h1v1h-1zM72 71h1v1h-1zM71 72h1v1h-1zM59 67h1v1h-1zM65 67h1v1h-1zM76 70h1v1h-1zM70 83h1v1h-1zM78 73h1v1h-1zM54 75h1v1h-1zM75 75h1v1h-1zM70 78h1v1h-1zM68 74h1v1h-1zM75 62h1v1h-1zM60 74h1v1h-1zM64 73h1v1h-1zM68 86h1v1h-1zM80 80h1v1h-1zM74 77h1v1h-1zM70 66h1v1h-1zM61 69h1v1h-1zM65 74h1v1h-1zM72 67h1v1h-1zM81 70h1v1h-1zM78 80h1v1h-1zM60 76h1v1h-1zM70 74h1v1h-1zM71 60h1v1h-1zM62 73h1v1h-1zM74 74h1v1h-1zM92 78h1v1h-1zM56 61h1v1h-1zM76 56h1v1h-1zM56 69h1v1h-1zM62 80h1v1h-1zM84 90h1v1h-1zM91 84h1v1h-1zM74 81h1v1h-1zM81 79h1v1h-1zM69 73h1v1h-1zM65 64h1v1h-1zM54 86h1v1h-1zM61 61h1v1h-1zM60 82h1v1h-1zM83 64h1v1h-1zM68 72h1v1h-1zM63 69h1v1h-1zM61 77h1v1h-1zM87 87h1v1h-1zM92 83h1v1h-1zM101 83h1v1h-1zM106 78h1v1h-1zM98 77h1v1h-1zM112 81h1v1h-1zM102 83h1v1h-1zM96 84h1v1h-1zM93 87h1v1h-1zM101 80h1v1h-1zM101 79h1v1h-1zM90 78h1v1h-1zM94 87h1v1h-1zM102 79h1v1h-1zM101 86h1v1h-1zM93 88h1v1h-1zM99 77h1v1h-1zM83 81h1v1h-1zM99 83h1v1h-1zM97 86h1v1h-1zM98 87h1v1h-1zM99 81h1v1h-1zM97 84h1v1h-1zM91 81h1v1h-1zM91 74h1v1h-1zM85 110h1v1h-1zM69 96h1v1h-1zM83 98h1v1h-1zM75 110h1v1h-1zM79 108h1v1h-1zM93 107h1v1h-1zM87 100h1v1h-1zM77 85h1v1h-1zM134 88h1v1h-1zM68 93h1v1h-1zM97 55h1v1h-1zM68 82h1v1h-1zM60 93h1v1h-1z" fill="#000" fill-opacity="0.55"/>
<path d="M55 101h1v1h-1zM54 101h1v1h-1zM54 95h1v1h-1zM53 94h1v1h-1zM53 105h1v1h-1zM53 94h1v1h-1zM55 100h1v1h-1zM52 96h1v1h-1zM54 94h1v1h-1zM55 102h1v1h-1zM54 89h1v1h-1zM54 102h1v1h-1zM53 104h1v1h-1zM55 93h1v1h-1zM54 99h1v1h-1zM54 102h1v1h-1zM53 101h1v1h-1zM53 102h1v1h-1zM53 98h1v1h-1zM52 97h1v1h-1zM54 90h1v1h-1zM53 107h1v1h-1zM54 102h1v1h-1zM52 90h1v1h-1zM54 107h1v1h-1zM54 101h1v1h-1zM53 104h1v1h-1zM53 103h1v1h-1zM53 103h1v1h-1zM55 99h1v1h-1zM52 95h1v1h-1zM52 95h1v1h-1zM52 101h1v1h-1zM54 103h1v1h-1zM54 106h1v1h-1zM52 102h1v1h-1zM54 103h1v1h-1zM53 94h1v1h-1zM55 101h1v1h-1zM52 95h1v1h-1zM52 91h1v1h-1zM53 101h1v1h-1zM53 103h1v1h-1zM53 99h1v1h-1zM54 93h1v1h-1zM53 91h1v1h-1zM53 102h1v1h-1zM53 104h1v1h-1zM54 113h1v1h-1zM54 105h1v1h-1zM53 102h1v1h-1zM53 102h1v1h-1zM55 94h1v1h-1zM53 91h1v1h-1zM52 96h1v1h-1zM52 98h1v1h-1zM53 95h1v1h-1zM54 91h1v1h-1zM53 98h1v1h-1zM52 98h1v1h-1zM55 99h1v1h-1zM54 106h1v1h-1zM55 93h1v1h-1zM53 100h1v1h-1zM54 96h1v1h-1zM55 98h1v1h-1zM53 111h1v1h-1zM55 92h1v1h-1zM53 93h1v1h-1zM53 99h1v1h-1zM52 97h1v1h-1zM57 88h1v1h-1zM54 103h1v1h-1zM54 100h1v1h-1zM53 103h1v1h-1zM55 100h1v1h-1zM54 89h1v1h-1zM55 95h1v1h-1zM54 111h1v1h-1zM54 100h1v1h-1zM53 104h1v1h-1zM55 96h1v1h-1zM52 88h1v1h-1zM54 90h1v1h-1zM54 108h1v1h-1zM52 87h1v1h-1zM55 101h1v1h-1zM55 110h1v1h-1zM54 99h1v1h-1zM52 107h1v1h-1zM54 103h1v1h-1zM54 99h1v1h-1zM55 96h1v1h-1zM55 95h1v1h-1zM53 101h1v1h-1zM54 90h1v1h-1zM54 107h1v1h-1zM56 88h1v1h-1zM54 104h1v1h-1zM54 95h1v1h-1zM55 108h1v1h-1zM54 98h1v1h-1zM55 97h1v1h-1zM54 98h1v1h-1zM53 106h1v1h-1zM53 102h1v1h-1zM53 97h1v1h-1zM53 105h1v1h-1zM53 95h1v1h-1zM53 99h1v1h-1zM53 103h1v1h-1zM54 101h1v1h-1zM55 94h1v1h-1zM54 95h1v1h-1zM53 87h1v1h-1zM52 94h1v1h-1zM52 100h1v1h-1zM53 99h1v1h-1zM53 98h1v1h-1zM52 98h1v1h-1zM55 113h1v1h-1zM54 95h1v1h-1zM53 98h1v1h-1zM54 107h1v1h-1zM52 93h1v1h-1zM55 98h1v1h-1zM54 95h1v1h-1zM53 95h1v1h-1zM54 102h1v1h-1zM55 108h1v1h-1zM53 101h1v1h-1zM55 95h1v1h-1zM55 102h1v1h-1zM52 98h1v1h-1zM54 90h1v1h-1zM54 101h1v1h-1zM53 94h1v1h-1zM54 98h1v1h-1zM53 94h1v1h-1zM52 85h1v1h-1zM54 106h1v1h-1zM53 101h1v1h-1zM55 101h1v1h-1zM56 92h1v1h-1zM52 91h1v1h-1zM53 104h1v1h-1zM55 97h1v1h-1zM53 106h1v1h-1zM54 99h1v1h-1zM54 104h1v1h-1zM53 92h1v1h-1zM53 95h1v1h-1zM54 103h1v1h-1zM52 97h1v1h-1zM53 91h1v1h-1zM54 96h1v1h-1zM54 103h1v1h-1zM56 107h1v1h-1zM54 106h1v1h-1zM53 92h1v1h-1zM54 95h1v1h-1zM54 90h1v1h-1zM54 102h1v1h-1zM53 95h1v1h-1zM55 100h1v1h-1zM52 96h1v1h-1zM52 104h1v1h-1zM55 99h1v1h-1zM55 96h1v1h-1zM54 91h1v1h-1zM54 89h1v1h-1zM54 95h1v1h-1zM53 103h1v1h-1zM55 94h1v1h-1zM53 98h1v1h-1zM54 108h1v1h-1zM52 92h1v1h-1zM52 97h1v1h-1zM53 99h1v1h-1zM52 89h1v1h-1zM55 100h1v1h-1zM54 98h1v1h-1zM52 97h1v1h-1zM54 94h1v1h-1zM53 105h1v1h-1zM54 100h1v1h-1zM55 94h1v1h-1zM53 93h1v1h-1zM53 94h1v1h-1zM53 104h1v1h-1zM54 92h1v1h-1zM53 100h1v1h-1zM56 108h1v1h-1zM53 95h1v1h-1zM52 92h1v1h-1zM54 96h1v1h-1zM53 104h1v1h-1zM53 94h1v1h-1zM56 104h1v1h-1zM53 96h1v1h-1zM56 88h1v1h-1zM58 92h1v1h-1zM53 84h1v1h-1zM56 90h1v1h-1zM56 87h1v1h-1zM57 88h1v1h-1zM53 93h1v1h-1zM57 93h1v1h-1zM60 92h1v1h-1zM58 89h1v1h-1zM56 91h1v1h-1zM58 96h1v1h-1zM54 91h1v1h-1zM58 87h1v1h-1zM56 91h1v1h-1zM56 92h1v1h-1zM55 90h1v1h-1zM58 86h1v1h-1zM53 91h1v1h-1zM54 87h1v1h-1zM56 88h1v1h-1zM59 93h1v1h-1zM59 90h1v1h-1zM55 90h1v1h-1zM56 93h1v1h-1zM55 89h1v1h-1zM53 87h1v1h-1zM55 90h1v1h-1zM57 89h1v1h-1zM53 93h1v1h-1zM56 85h1v1h-1zM57 90h1v1h-1zM55 92h1v1h-1zM57 91h1v1h-1zM56 91h1v1h-1zM52 87h1v1h-1zM54 93h1v1h-1zM55 93h1v1h-1zM59 89h1v1h-1zM53 92h1v1h-1zM56 85h1v1h-1zM54 89h1v1h-1zM57 93h1v1h-1zM56 92h1v1h-1zM56 87h1v1h-1zM53 88h1v1h-1zM57 91h1v1h-1zM54 95h1v1h-1zM52 92h1v1h-1zM53 94h1v1h-1zM55 87h1v1h-1zM55 87h1v1h-1zM53 91h1v1h-1zM56 85h1v1h-1zM54 90h1v1h-1zM56 91h1v1h-1zM54 88h1v1h-1zM56 92h1v1h-1zM53 92h1v1h-1zM58 90h1v1h-1zM56 88h1v1h-1zM53 88h1v1h-1zM54 95h1v1h-1zM53 91h1v1h-1zM55 89h1v1h-1zM55 91h1v1h-1zM58 94h1v1h-1zM53 92h1v1h-1zM56 88h1v1h-1zM52 91h1v1h-1zM54 90h1v1h-1zM54 92h1v1h-1zM57 94h1v1h-1zM55 89h1v1h-1zM54 90h1v1h-1zM54 106h1v1h-1zM55 110h1v1h-1zM57 111h1v1h-1zM55 106h1v1h-1zM58 101h1v1h-1zM55 102h1v1h-1zM55 103h1v1h-1zM56 106h1v1h-1zM57 101h1v1h-1zM57 99h1v1h-1zM58 108h1v1h-1zM55 98h1v1h-1zM55 98h1v1h-1zM56 104h1v1h-1zM58 104h1v1h-1zM55 106h1v1h-1zM57 103h1v1h-1zM52 103h1v1h-1zM57 106h1v1h-1zM55 105h1v1h-1zM59 104h1v1h-1zM54 105h1v1h-1zM55 102h1v1h-1zM57 109h1v1h-1zM55 106h1v1h-1zM55 109h1v1h-1zM52 111h1v1h-1zM56 111h1v1h-1zM54 114h1v1h-1zM52 116h1v1h-1zM57 116h1v1h-1zM53 118h1v1h-1zM56 121h1v1h-1zM55 121h1v1h-1zM54 123h1v1h-1zM53 125h1v1h-1zM54 125h1v1h-1zM93 78h1v1h-1zM74 92h1v1h-1zM83 87h1v1h-1zM67 91h1v1h-1zM92 89h1v1h-1zM80 91h1v1h-1zM60 93h1v1h-1zM92 89h1v1h-1zM77 87h1v1h-1zM74 85h1v1h-1zM85 91h1v1h-1zM74 80h1v1h-1zM94 89h1v1h-1zM79 88h1v1h-1zM73 90h1v1h-1zM74 90h1v1h-1zM72 86h1v1h-1zM85 88h1v1h-1zM65 91h1v1h-1zM82 87h1v1h-1zM54 91h1v1h-1zM68 86h1v1h-1zM73 94h1v1h-1zM85 87h1v1h-1zM74 90h1v1h-1zM79 88h1v1h-1zM88 84h1v1h-1zM61 94h1v1h-1zM81 89h1v1h-1zM73 87h1v1h-1zM75 90h1v1h-1zM71 94h1v1h-1zM90 87h1v1h-1zM87 84h1v1h-1zM80 89h1v1h-1zM64 88h1v1h-1zM78 85h1v1h-1zM78 88h1v1h-1zM77 86h1v1h-1zM85 85h1v1h-1zM78 85h1v1h-1zM69 95h1v1h-1zM88 87h1v1h-1zM77 91h1v1h-1zM80 91h1v1h-1zM76 91h1v1h-1zM59 88h1v1h-1zM96 76h1v1h-1zM87 90h1v1h-1zM72 82h1v1h-1zM70 89h1v1h-1zM85 89h1v1h-1zM72 89h1v1h-1zM88 82h1v1h-1zM67 92h1v1h-1zM66 81h1v1h-1zM70 91h1v1h-1zM77 92h1v1h-1zM79 87h1v1h-1zM92 85h1v1h-1zM74 85h1v1h-1zM80 92h1v1h-1zM78 89h1v1h-1zM86 91h1v1h-1zM65 94h1v1h-1zM80 83h1v1h-1zM61 91h1v1h-1zM72 91h1v1h-1zM75 85h1v1h-1zM81 90h1v1h-1zM75 85h1v1h-1zM82 86h1v1h-1zM77 85h1v1h-1zM67 90h1v1h-1zM60 90h1v1h-1zM78 82h1v1h-1zM77 84h1v1h-1zM67 92h1v1h-1zM105 83h1v1h-1zM67 89h1v1h-1zM78 89h1v1h-1zM79 85h1v1h-1zM69 88h1v1h-1zM56 94h1v1h-1zM79 86h1v1h-1zM70 85h1v1h-1zM81 88h1v1h-1zM75 86h1v1h-1zM70 88h1v1h-1zM83 78h1v1h-1zM86 88h1v1h-1zM104 78h1v1h-1zM81 86h1v1h-1zM76 95h1v1h-1zM66 96h1v1h-1zM85 91h1v1h-1zM68 87h1v1h-1zM72 91h1v1h-1zM84 84h1v1h-1zM85 89h1v1h-1zM79 89h1v1h-1zM61 91h1v1h-1zM86 87h1v1h-1zM63 87h1v1h-1zM66 86h1v1h-1zM86 85h1v1h-1zM74 90h1v1h-1zM66 90h1v1h-1zM85 81h1v1h-1zM77 86h1v1h-1zM68 87h1v1h-1zM81 86h1v1h-1zM70 90h1v1h-1zM80 82h1v1h-1zM71 92h1v1h-1zM80 84h1v1h-1zM71 87h1v1h-1zM88 89h1v1h-1zM81 94h1v1h-1zM83 86h1v1h-1zM61 92h1v1h-1zM63 96h1v1h-1zM69 93h1v1h-1zM61 97h1v1h-1zM88 82h1v1h-1zM85 90h1v1h-1zM77 85h1v1h-1zM60 96h1v1h-1zM79 84h1v1h-1zM76 89h1v1h-1zM83 86h1v1h-1zM84 86h1v1h-1zM75 90h1v1h-1zM64 96h1v1h-1zM82 83h1v1h-1zM76 83h1v1h-1zM67 86h1v1h-1zM79 84h1v1h-1zM83 89h1v1h-1zM67 92h1v1h-1zM77 84h1v1h-1zM88 90h1v1h-1zM76 90h1v1h-1zM76 87h1v1h-1zM87 87h1v1h-1zM71 87h1v1h-1zM81 83h1v1h-1zM66 86h1v1h-1zM94 84h1v1h-1zM64 92h1v1h-1zM83 92h1v1h-1zM63 88h1v1h-1zM83 87h1v1h-1zM85 90h1v1h-1zM80 84h1v1h-1zM60 92h1v1h-1zM97 85h1v1h-1zM83 81h1v1h-1zM84 81h1v1h-1zM62 86h1v1h-1zM87 88h1v1h-1zM74 89h1v1h-1zM79 92h1v1h-1zM81 97h1v1h-1zM81 87h1v1h-1zM80 92h1v1h-1zM77 86h1v1h-1zM91 89h1v1h-1zM64 90h1v1h-1zM76 88h1v1h-1zM73 87h1v1h-1zM74 82h1v1h-1zM56 86h1v1h-1zM67 89h1v1h-1zM92 82h1v1h-1zM88 93h1v1h-1zM86 88h1v1h-1zM77 85h1v1h-1zM70 94h1v1h-1zM73 93h1v1h-1zM55 90h1v1h-1zM73 95h1v1h-1zM71 84h1v1h-1zM79 90h1v1h-1zM76 89h1v1h-1zM91 84h1v1h-1zM73 85h1v1h-1zM80 85h1v1h-1zM81 86h1v1h-1zM86 86h1v1h-1zM94 91h1v1h-1zM72 88h1v1h-1zM80 89h1v1h-1zM67 84h1v1h-1zM81 88h1v1h-1zM71 92h1v1h-1zM92 79h1v1h-1zM81 85h1v1h-1zM69 90h1v1h-1zM78 88h1v1h-1zM79 91h1v1h-1zM82 84h1v1h-1zM78 88h1v1h-1zM66 93h1v1h-1zM72 87h1v1h-1zM73 91h1v1h-1zM90 85h1v1h-1zM95 90h1v1h-1zM78 89h1v1h-1zM84 86h1v1h-1zM76 91h1v1h-1zM70 86h1v1h-1zM83 86h1v1h-1zM78 91h1v1h-1zM68 84h1v1h-1zM93 83h1v1h-1zM82 85h1v1h-1zM79 90h1v1h-1zM88 84h1v1h-1zM74 86h1v1h-1zM69 81h1v1h-1zM87 80h1v1h-1zM78 88h1v1h-1zM79 87h1v1h-1zM73 91h1v1h-1zM66 86h1v1h-1zM87 84h1v1h-1zM81 81h1v1h-1zM78 89h1v1h-1zM72 87h1v1h-1zM79 90h1v1h-1zM73 86h1v1h-1zM79 85h1v1h-1zM72 89h1v1h-1zM68 89h1v1h-1zM70 89h1v1h-1zM70 91h1v1h-1zM77 89h1v1h-1zM92 87h1v1h-1zM84 87h1v1h-1zM80 86h1v1h-1zM82 87h1v1h-1zM71 87h1v1h-1zM91 89h1v1h-1zM82 85h1v1h-1zM84 83h1v1h-1zM86 81h1v1h-1zM81 94h1v1h-1zM85 77h1v1h-1zM79 86h1v1h-1zM80 86h1v1h-1zM67 88h1v1h-1zM77 89h1v1h-1zM76 86h1v1h-1zM85 84h1v1h-1zM61 87h1v1h-1zM72 91h1v1h-1zM64 92h1v1h-1zM81 92h1v1h-1zM70 82h1v1h-1zM63 90h1v1h-1zM87 84h1v1h-1zM57 91h1v1h-1zM65 86h1v1h-1zM73 89h1v1h-1zM71 89h1v1h-1zM73 84h1v1h-1zM80 88h1v1h-1zM70 94h1v1h-1zM81 89h1v1h-1zM54 95h1v1h-1zM79 88h1v1h-1zM73 85h1v1h-1zM70 93h1v1h-1zM73 80h1v1h-1zM66 96h1v1h-1zM85 87h1v1h-1zM89 84h1v1h-1zM71 91h1v1h-1zM85 90h1v1h-1zM84 87h1v1h-1zM96 88h1v1h-1zM87 82h1v1h-1zM73 84h1v1h-1zM62 97h1v1h-1zM75 86h1v1h-1zM76 87h1v1h-1zM73 91h1v1h-1zM67 93h1v1h-1zM66 92h1v1h-1zM71 87h1v1h-1zM91 85h1v1h-1zM70 89h1v1h-1zM58 88h1v1h-1zM77 89h1v1h-1zM86 88h1v1h-1zM107 78h1v1h-1zM59 96h1v1h-1zM89 85h1v1h-1zM88 87h1v1h-1zM73 83h1v1h-1zM82 90h1v1h-1zM82 86h1v1h-1zM83 84h1v1h-1zM60 92h1v1h-1zM80 89h1v1h-1zM72 88h1v1h-1zM86 85h1v1h-1zM68 86h1v1h-1zM85 82h1v1h-1zM78 88h1v1h-1zM67 83h1v1h-1zM85 86h1v1h-1zM83 87h1v1h-1zM69 89h1v1h-1zM90 89h1v1h-1zM90 85h1v1h-1zM77 89h1v1h-1zM66 88h1v1h-1zM77 85h1v1h-1zM77 85h1v1h-1zM79 89h1v1h-1zM55 91h1v1h-1zM72 89h1v1h-1zM88 87h1v1h-1zM63 87h1v1h-1zM66 90h1v1h-1zM61 92h1v1h-1zM70 90h1v1h-1zM72 86h1v1h-1zM55 87h1v1h-1zM60 88h1v1h-1zM65 89h1v1h-1zM65 88h1v1h-1zM69 88h1v1h-1zM70 87h1v1h-1zM63 88h1v1h-1zM62 89h1v1h-1zM62 90h1v1h-1zM67 92h1v1h-1zM67 94h1v1h-1zM65 90h1v1h-1zM65 90h1v1h-1zM62 84h1v1h-1zM67 90h1v1h-1zM63 90h1v1h-1zM63 88h1v1h-1zM63 93h1v1h-1zM69 94h1v1h-1zM64 93h1v1h-1zM61 95h1v1h-1zM65 90h1v1h-1zM69 89h1v1h-1zM66 88h1v1h-1zM66 89h1v1h-1zM63 86h1v1h-1zM69 94h1v1h-1zM69 88h1v1h-1zM64 92h1v1h-1zM62 91h1v1h-1zM68 89h1v1h-1zM69 92h1v1h-1zM62 90h1v1h-1zM63 86h1v1h-1zM59 88h1v1h-1zM65 89h1v1h-1zM67 86h1v1h-1zM67 87h1v1h-1zM64 88h1v1h-1zM70 88h1v1h-1zM74 91h1v1h-1zM66 86h1v1h-1zM64 87h1v1h-1zM72 88h1v1h-1zM63 87h1v1h-1zM68 93h1v1h-1zM62 92h1v1h-1zM60 89h1v1h-1zM61 85h1v1h-1zM63 89h1v1h-1zM68 92h1v1h-1zM66 90h1v1h-1zM65 87h1v1h-1zM64 88h1v1h-1zM66 90h1v1h-1zM61 93h1v1h-1zM62 85h1v1h-1zM63 91h1v1h-1zM67 86h1v1h-1zM61 91h1v1h-1zM66 89h1v1h-1zM63 85h1v1h-1zM64 93h1v1h-1zM58 89h1v1h-1zM64 91h1v1h-1zM69 88h1v1h-1zM61 93h1v1h-1zM60 92h1v1h-1zM67 92h1v1h-1zM65 88h1v1h-1zM69 91h1v1h-1zM63 89h1v1h-1zM65 88h1v1h-1zM63 86h1v1h-1zM62 88h1v1h-1zM69 90h1v1h-1zM74 87h1v1h-1zM71 88h1v1h-1zM63 88h1v1h-1zM61 86h1v1h-1zM63 85h1v1h-1zM72 87h1v1h-1zM72 86h1v1h-1zM67 84h1v1h-1zM65 90h1v1h-1zM65 91h1v1h-1zM65 89h1v1h-1zM61 88h1v1h-1zM72 92h1v1h-1zM69 91h1v1h-1zM61 87h1v1h-1zM69 90h1v1h-1zM62 91h1v1h-1zM61 84h1v1h-1zM59 92h1v1h-1zM118 67h1v1h-1zM105 70h1v1h-1zM112 67h1v1h-1zM95 60h1v1h-1zM101 67h1v1h-1zM109 63h1v1h-1zM117 64h1v1h-1zM98 69h1v1h-1zM117 65h1v1h-1zM95 65h1v1h-1zM107 66h1v1h-1zM107 72h1v1h-1zM113 66h1v1h-1zM108 60h1v1h-1zM93 70h1v1h-1zM100 64h1v1h-1zM110 74h1v1h-1zM106 62h1v1h-1zM98 72h1v1h-1zM120 72h1v1h-1zM105 65h1v1h-1zM113 69h1v1h-1zM112 68h1v1h-1zM106 73h1v1h-1zM102 70h1v1h-1zM93 68h1v1h-1zM104 69h1v1h-1zM88 72h1v1h-1zM99 65h1v1h-1zM116 65h1v1h-1zM107 67h1v1h-1zM93 68h1v1h-1zM96 70h1v1h-1zM117 69h1v1h-1zM117 74h1v1h-1zM74 71h1v1h-1zM111 66h1v1h-1zM96 63h1v1h-1zM100 66h1v1h-1zM97 68h1v1h-1zM110 63h1v1h-1zM88 67h1v1h-1zM118 63h1v1h-1zM93 72h1v1h-1zM107 67h1v1h-1zM86 66h1v1h-1zM104 72h1v1h-1zM89 67h1v1h-1zM102 63h1v1h-1zM104 71h1v1h-1zM96 67h1v1h-1zM82 71h1v1h-1zM106 69h1v1h-1zM100 71h1v1h-1zM94 68h1v1h-1zM122 68h1v1h-1zM110 71h1v1h-1zM109 68h1v1h-1zM110 69h1v1h-1zM88 74h1v1h-1zM107 62h1v1h-1zM97 72h1v1h-1zM84 69h1v1h-1zM99 64h1v1h-1zM103 67h1v1h-1zM113 66h1v1h-1zM118 64h1v1h-1zM142 70h1v1h-1zM91 68h1v1h-1zM104 70h1v1h-1zM112 67h1v1h-1zM116 65h1v1h-1zM109 71h1v1h-1zM110 67h1v1h-1zM90 67h1v1h-1zM99 67h1v1h-1zM95 69h1v1h-1zM95 66h1v1h-1zM103 68h1v1h-1zM93 68h1v1h-1zM123 66h1v1h-1zM98 64h1v1h-1zM105 74h1v1h-1zM85 70h1v1h-1zM100 66h1v1h-1zM98 67h1v1h-1zM101 73h1v1h-1zM110 69h1v1h-1zM108 61h1v1h-1zM98 69h1v1h-1zM106 69h1v1h-1zM113 68h1v1h-1zM103 70h1v1h-1zM111 68h1v1h-1zM124 66h1v1h-1zM98 65h1v1h-1zM94 64h1v1h-1zM100 69h1v1h-1zM97 67h1v1h-1zM87 66h1v1h-1zM114 70h1v1h-1zM96 62h1v1h-1zM100 68h1v1h-1zM92 74h1v1h-1zM111 69h1v1h-1zM99 62h1v1h-1zM97 69h1v1h-1zM86 67h1v1h-1zM94 67h1v1h-1zM108 67h1v1h-1zM126 71h1v1h-1zM108 67h1v1h-1zM112 70h1v1h-1zM108 63h1v1h-1zM99 64h1v1h-1zM101 64h1v1h-1zM121 67h1v1h-1zM100 68h1v1h-1zM87 75h1v1h-1zM113 69h1v1h-1zM104 68h1v1h-1zM103 63h1v1h-1zM99 66h1v1h-1zM102 72h1v1h-1zM121 71h1v1h-1zM86 65h1v1h-1zM75 76h1v1h-1zM94 66h1v1h-1zM116 67h1v1h-1zM102 66h1v1h-1zM125 67h1v1h-1zM72 67h1v1h-1zM112 73h1v1h-1zM109 70h1v1h-1zM104 73h1v1h-1zM103 68h1v1h-1zM103 66h1v1h-1zM111 70h1v1h-1zM80 70h1v1h-1zM105 64h1v1h-1zM81 66h1v1h-1zM105 72h1v1h-1zM108 70h1v1h-1zM120 65h1v1h-1zM99 66h1v1h-1zM103 73h1v1h-1zM100 71h1v1h-1zM72 72h1v1h-1zM113 63h1v1h-1zM99 70h1v1h-1zM119 70h1v1h-1zM116 62h1v1h-1zM116 67h1v1h-1zM109 67h1v1h-1zM99 68h1v1h-1zM88 70h1v1h-1zM92 70h1v1h-1zM103 63h1v1h-1zM97 69h1v1h-1zM100 67h1v1h-1zM87 65h1v1h-1zM108 72h1v1h-1zM105 68h1v1h-1zM126 68h1v1h-1zM111 73h1v1h-1zM92 64h1v1h-1zM121 62h1v1h-1zM114 62h1v1h-1zM101 68h1v1h-1zM82 67h1v1h-1zM114 68h1v1h-1zM110 67h1v1h-1zM94 67h1v1h-1zM106 63h1v1h-1zM93 66h1v1h-1zM99 63h1v1h-1zM116 66h1v1h-1zM100 68h1v1h-1zM106 68h1v1h-1zM84 68h1v1h-1zM117 66h1v1h-1zM133 68h1v1h-1zM99 74h1v1h-1zM110 67h1v1h-1zM106 66h1v1h-1zM104 69h1v1h-1zM112 70h1v1h-1zM87 64h1v1h-1zM114 70h1v1h-1zM97 73h1v1h-1zM104 72h1v1h-1zM115 69h1v1h-1zM101 66h1v1h-1zM109 68h1v1h-1zM90 67h1v1h-1zM108 68h1v1h-1zM119 71h1v1h-1zM115 70h1v1h-1zM103 74h1v1h-1zM92 65h1v1h-1zM111 69h1v1h-1zM84 65h1v1h-1zM96 66h1v1h-1zM110 64h1v1h-1zM106 64h1v1h-1zM119 69h1v1h-1zM110 70h1v1h-1zM121 68h1v1h-1zM102 71h1v1h-1zM91 67h1v1h-1zM97 64h1v1h-1zM116 65h1v1h-1zM115 69h1v1h-1zM118 69h1v1h-1zM101 69h1v1h-1zM125 70h1v1h-1zM119 67h1v1h-1zM103 71h1v1h-1zM101 76h1v1h-1zM105 66h1v1h-1zM102 66h1v1h-1zM94 70h1v1h-1zM117 72h1v1h-1zM112 64h1v1h-1zM117 64h1v1h-1zM85 67h1v1h-1zM116 67h1v1h-1zM105 63h1v1h-1zM125 65h1v1h-1zM103 68h1v1h-1zM92 71h1v1h-1zM118 73h1v1h-1zM116 60h1v1h-1zM106 64h1v1h-1zM94 71h1v1h-1zM100 73h1v1h-1zM138 70h1v1h-1zM80 71h1v1h-1zM107 70h1v1h-1zM116 66h1v1h-1zM100 64h1v1h-1zM110 69h1v1h-1zM104 70h1v1h-1zM84 70h1v1h-1zM99 66h1v1h-1zM106 70h1v1h-1zM105 67h1v1h-1zM96 69h1v1h-1zM98 73h1v1h-1zM120 70h1v1h-1zM106 73h1v1h-1zM118 66h1v1h-1zM96 70h1v1h-1zM105 69h1v1h-1zM91 63h1v1h-1zM106 66h1v1h-1zM108 74h1v1h-1zM97 64h1v1h-1zM142 65h1v1h-1zM81 73h1v1h-1zM129 72h1v1h-1zM85 71h1v1h-1zM101 66h1v1h-1zM120 70h1v1h-1zM110 65h1v1h-1zM91 71h1v1h-1zM144 67h1v1h-1zM122 74h1v1h-1zM118 65h1v1h-1zM90 67h1v1h-1zM95 60h1v1h-1zM102 60h1v1h-1zM119 74h1v1h-1zM142 69h1v1h-1zM114 70h1v1h-1zM109 65h1v1h-1zM106 70h1v1h-1zM114 63h1v1h-1zM112 70h1v1h-1zM85 69h1v1h-1zM107 70h1v1h-1zM141 67h1v1h-1zM122 64h1v1h-1zM108 66h1v1h-1zM120 54h1v1h-1zM92 68h1v1h-1zM82 65h1v1h-1zM103 75h1v1h-1zM91 71h1v1h-1zM127 72h1v1h-1zM97 67h1v1h-1zM92 74h1v1h-1zM95 68h1v1h-1zM126 67h1v1h-1zM94 73h1v1h-1zM108 66h1v1h-1zM101 73h1v1h-1zM102 70h1v1h-1zM132 58h1v1h-1zM103 72h1v1h-1zM82 81h1v1h-1zM71 71h1v1h-1zM80 79h1v1h-1zM78 66h1v1h-1zM61 69h1v1h-1zM51 72h1v1h-1zM56 73h1v1h-1zM66 80h1v1h-1zM74 72h1v1h-1zM80 83h1v1h-1zM70 69h1v1h-1zM78 81h1v1h-1zM70 59h1v1h-1zM67 73h1v1h-1zM84 71h1v1h-1zM75 76h1v1h-1zM75 79h1v1h-1zM73 74h1v1h-1zM78 65h1v1h-1zM67 63h1v1h-1zM76 70h1v1h-1zM67 74h1v1h-1zM69 59h1v1h-1zM65 76h1v1h-1zM54 82h1v1h-1zM59 69h1v1h-1zM54 74h1v1h-1zM66 73h1v1h-1zM84 83h1v1h-1zM64 58h1v1h-1zM71 70h1v1h-1zM66 75h1v1h-1zM70 70h1v1h-1zM59 77h1v1h-1zM54 73h1v1h-1zM75 74h1v1h-1zM90 68h1v1h-1zM72 64h1v1h-1zM75 82h1v1h-1zM61 77h1v1h-1zM78 67h1v1h-1zM63 86h1v1h-1zM91 69h1v1h-1zM81 69h1v1h-1zM78 73h1v1h-1zM56 61h1v1h-1zM63 80h1v1h-1zM59 74h1v1h-1zM90 69h1v1h-1zM71 72h1v1h-1zM59 87h1v1h-1zM88 61h1v1h-1zM68 64h1v1h-1zM94 69h1v1h-1zM71 65h1v1h-1zM69 66h1v1h-1zM86 83h1v1h-1zM69 64h1v1h-1zM69 79h1v1h-1zM62 76h1v1h-1zM63 62h1v1h-1zM82 85h1v1h-1zM81 77h1v1h-1zM81 75h1v1h-1zM72 72h1v1h-1zM61 59h1v1h-1zM70 67h1v1h-1zM63 82h1v1h-1zM52 75h1v1h-1zM55 73h1v1h-1zM61 69h1v1h-1zM68 82h1v1h-1zM54 75h1v1h-1zM74 67h1v1h-1zM76 75h1v1h-1zM74 73h1v1h-1zM71 74h1v1h-1zM94 70h1v1h-1zM73 77h1v1h-1zM68 61h1v1h-1zM62 85h1v1h-1zM64 84h1v1h-1zM113 82h1v1h-1zM109 84h1v1h-1zM91 89h1v1h-1zM89 84h1v1h-1zM92 89h1v1h-1zM94 86h1v1h-1zM108 80h1v1h-1zM110 77h1v1h-1zM78 86h1v1h-1zM91 81h1v1h-1zM83 73h1v1h-1zM106 81h1v1h-1zM95 86h1v1h-1zM95 81h1v1h-1zM106 79h1v1h-1zM103 88h1v1h-1zM98 84h1v1h-1zM121 84h1v1h-1zM94 81h1v1h-1zM103 84h1v1h-1zM95 81h1v1h-1zM111 85h1v1h-1zM106 85h1v1h-1zM94 80h1v1h-1zM95 87h1v1h-1zM76 111h1v1h-1zM81 108h1v1h-1zM72 105h1v1h-1zM97 106h1v1h-1zM76 102h1v1h-1zM80 101h1v1h-1zM103 90h1v1h-1zM104 90h1v1h-1zM123 99h1v1h-1zM73 56h1v1h-1zM103 70h1v1h-1zM68 99h1v1h-1zM124 83h1v1h-1z" fill="#000" fill-opacity="0.55"/>
<ellipse cx="104" cy="68.4" rx="29.2" ry="10.6" fill="none" stroke="#1a1a1a" stroke-width="1.1"/>
<line x1="138.8" y1="66.5" x2="166" y2="66.5" stroke="#222" stroke-width="0.9"/>
<path d="M169 66.2L164 64V68.4Z" stroke="none" stroke-width="1" fill="#222"/>
<rect x="212.3" y="21.8" width="108.3" height="108.2" fill="none" stroke="#d4d4d4" stroke-width="0.8"/>
<path d="M210.1 129.7h3.2M211.5 123.73h1.6M211.5 120.23h1.6M211.5 117.76h1.6M211.5 115.83h1.6M211.5 114.26h1.6M211.5 112.93h1.6M211.5 111.78h1.6M211.5 110.77h1.6M210.1 109.86h3.2M211.5 103.89h1.6M211.5 100.39h1.6M211.5 97.92h1.6M211.5 95.99h1.6M211.5 94.42h1.6M211.5 93.09h1.6M211.5 91.94h1.6M211.5 90.93h1.6M210.1 90.02h3.2M211.5 84.05h1.6M211.5 80.55h1.6M211.5 78.08h1.6M211.5 76.15h1.6M211.5 74.58h1.6M211.5 73.25h1.6M211.5 72.1h1.6M211.5 71.09h1.6M210.1 70.18h3.2M211.5 64.21h1.6M211.5 60.71h1.6M211.5 58.24h1.6M211.5 56.31h1.6M211.5 54.74h1.6M211.5 53.41h1.6M211.5 52.26h1.6M211.5 51.25h1.6M210.1 50.34h3.2M211.5 44.37h1.6M211.5 40.87h1.6M211.5 38.4h1.6M211.5 36.47h1.6M211.5 34.9h1.6M211.5 33.57h1.6M211.5 32.42h1.6M211.5 31.41h1.6M210.1 30.5h3.2M213.8 129v3M219.64 129.2v1.6M223.06 129.2v1.6M225.48 129.2v1.6M227.36 129.2v1.6M228.9 129.2v1.6M230.19 129.2v1.6M231.32 129.2v1.6M232.31 129.2v1.6M233.2 129v3M239.04 129.2v1.6M242.46 129.2v1.6M244.88 129.2v1.6M246.76 129.2v1.6M248.3 129.2v1.6M249.59 129.2v1.6M250.72 129.2v1.6M251.71 129.2v1.6M252.6 129v3M258.44 129.2v1.6M261.86 129.2v1.6M264.28 129.2v1.6M266.16 129.2v1.6M267.7 129.2v1.6M268.99 129.2v1.6M270.12 129.2v1.6M271.11 129.2v1.6M272 129v3M277.84 129.2v1.6M281.26 129.2v1.6M283.68 129.2v1.6M285.56 129.2v1.6M287.1 129.2v1.6M288.39 129.2v1.6M289.52 129.2v1.6M290.51 129.2v1.6M291.4 129v3M297.24 129.2v1.6M300.66 129.2v1.6M303.08 129.2v1.6M304.96 129.2v1.6M306.5 129.2v1.6M307.79 129.2v1.6M308.92 129.2v1.6M309.91 129.2v1.6M310.8 129v3" stroke="#333" stroke-width="0.7" fill="none"/>
<text x="205.6" y="131.7" font-size="6.3" text-anchor="end" fill="#262626">10<tspan font-size="3.78" dy="-2.2">0</tspan></text>
<text x="205.6" y="111.86" font-size="6.3" text-anchor="end" fill="#262626">10<tspan font-size="3.78" dy="-2.2">1</tspan></text>
<text x="205.6" y="92.02" font-size="6.3" text-anchor="end" fill="#262626">10<tspan font-size="3.78" dy="-2.2">2</tspan></text>
<text x="205.6" y="72.18" font-size="6.3" text-anchor="end" fill="#262626">10<tspan font-size="3.78" dy="-2.2">3</tspan></text>
<text x="205.6" y="52.34" font-size="6.3" text-anchor="end" fill="#262626">10<tspan font-size="3.78" dy="-2.2">4</tspan></text>
<text x="205.6" y="32.5" font-size="6.3" text-anchor="end" fill="#262626">10<tspan font-size="3.78" dy="-2.2">5</tspan></text>
<text x="215" y="141.8" font-size="6.3" text-anchor="middle" fill="#262626">10<tspan font-size="3.78" dy="-2.2">0</tspan></text>
<text x="234.4" y="141.8" font-size="6.3" text-anchor="middle" fill="#262626">10<tspan font-size="3.78" dy="-2.2">1</tspan></text>
<text x="253.8" y="141.8" font-size="6.3" text-anchor="middle" fill="#262626">10<tspan font-size="3.78" dy="-2.2">2</tspan></text>
<text x="273.2" y="141.8" font-size="6.3" text-anchor="middle" fill="#262626">10<tspan font-size="3.78" dy="-2.2">3</tspan></text>
<text x="292.6" y="141.8" font-size="6.3" text-anchor="middle" fill="#262626">10<tspan font-size="3.78" dy="-2.2">4</tspan></text>
<text x="312" y="141.8" font-size="6.3" text-anchor="middle" fill="#262626">10<tspan font-size="3.78" dy="-2.2">5</tspan></text>
<path d="M184.6 51V152.3H291" stroke="#222" stroke-width="0.9" fill="none"/>
<path d="M184.6 48.6L182.4 53.6H186.8Z" stroke="none" stroke-width="1" fill="#222"/>
<path d="M293.6 152.3L288.6 150.1V154.5Z" stroke="none" stroke-width="1" fill="#222"/>
<text transform="translate(188 37.3) rotate(-90)" font-size="8.6" text-anchor="middle" font-weight="bold" fill="#111" textLength="17.5" lengthAdjust="spacingAndGlyphs">CD11b</text>
<text x="300" y="155.4" font-size="8.4" font-weight="bold" fill="#111" textLength="13.8" lengthAdjust="spacingAndGlyphs">CD80</text>
<path d="M266 86h1v1h-1zM266 84h1v1h-1zM262 97h1v1h-1zM261 93h1v1h-1zM264 95h1v1h-1zM264 81h1v1h-1zM267 90h1v1h-1zM266 92h1v1h-1zM264 82h1v1h-1zM265 86h1v1h-1zM261 87h1v1h-1zM265 82h1v1h-1zM262 93h1v1h-1zM264 86h1v1h-1zM265 85h1v1h-1zM267 79h1v1h-1zM264 88h1v1h-1zM263 83h1v1h-1zM266 83h1v1h-1zM265 88h1v1h-1zM268 91h1v1h-1zM265 83h1v1h-1zM268 94h1v1h-1zM266 90h1v1h-1zM266 86h1v1h-1zM262 86h1v1h-1zM267 93h1v1h-1zM266 84h1v1h-1zM265 84h1v1h-1zM264 87h1v1h-1zM266 82h1v1h-1zM267 92h1v1h-1zM261 95h1v1h-1zM267 84h1v1h-1zM264 79h1v1h-1zM265 88h1v1h-1zM265 84h1v1h-1zM265 92h1v1h-1zM263 91h1v1h-1zM263 86h1v1h-1zM267 84h1v1h-1zM266 91h1v1h-1zM264 93h1v1h-1zM265 88h1v1h-1zM266 94h1v1h-1zM263 91h1v1h-1zM264 88h1v1h-1zM265 91h1v1h-1zM265 91h1v1h-1zM266 83h1v1h-1zM262 92h1v1h-1zM268 85h1v1h-1zM265 85h1v1h-1zM264 92h1v1h-1zM266 82h1v1h-1zM266 81h1v1h-1zM263 89h1v1h-1zM267 88h1v1h-1zM265 88h1v1h-1zM266 87h1v1h-1zM266 87h1v1h-1zM265 94h1v1h-1zM264 85h1v1h-1zM263 80h1v1h-1zM264 83h1v1h-1zM265 85h1v1h-1zM264 81h1v1h-1zM266 85h1v1h-1zM266 94h1v1h-1zM265 82h1v1h-1zM268 90h1v1h-1zM268 95h1v1h-1zM263 88h1v1h-1zM265 94h1v1h-1zM266 86h1v1h-1zM264 85h1v1h-1zM261 85h1v1h-1zM261 90h1v1h-1zM264 93h1v1h-1zM264 89h1v1h-1zM265 86h1v1h-1zM266 84h1v1h-1zM265 82h1v1h-1zM263 85h1v1h-1zM265 84h1v1h-1zM264 92h1v1h-1zM265 81h1v1h-1zM265 86h1v1h-1zM264 85h1v1h-1zM261 91h1v1h-1zM265 94h1v1h-1zM265 88h1v1h-1zM266 91h1v1h-1zM267 92h1v1h-1zM267 93h1v1h-1zM267 92h1v1h-1zM264 88h1v1h-1zM269 89h1v1h-1zM266 85h1v1h-1zM265 90h1v1h-1zM267 94h1v1h-1zM264 82h1v1h-1zM265 92h1v1h-1zM264 89h1v1h-1zM268 93h1v1h-1zM262 88h1v1h-1zM263 90h1v1h-1zM264 87h1v1h-1zM263 84h1v1h-1zM264 90h1v1h-1zM265 91h1v1h-1zM264 92h1v1h-1zM265 92h1v1h-1zM261 81h1v1h-1zM266 78h1v1h-1zM264 88h1v1h-1zM265 88h1v1h-1zM263 89h1v1h-1zM265 90h1v1h-1zM268 88h1v1h-1zM266 95h1v1h-1zM262 91h1v1h-1zM267 88h1v1h-1zM261 81h1v1h-1zM264 84h1v1h-1zM265 91h1v1h-1zM262 85h1v1h-1zM265 89h1v1h-1zM262 91h1v1h-1zM265 89h1v1h-1zM262 90h1v1h-1zM265 93h1v1h-1zM266 88h1v1h-1zM265 92h1v1h-1zM261 90h1v1h-1zM260 79h1v1h-1zM266 91h1v1h-1zM263 82h1v1h-1zM263 84h1v1h-1zM265 90h1v1h-1zM265 83h1v1h-1zM266 89h1v1h-1zM268 89h1v1h-1zM264 93h1v1h-1zM261 89h1v1h-1zM263 91h1v1h-1zM262 88h1v1h-1zM265 85h1v1h-1zM262 87h1v1h-1zM263 92h1v1h-1zM266 92h1v1h-1zM265 94h1v1h-1zM265 80h1v1h-1zM269 90h1v1h-1zM265 84h1v1h-1zM266 94h1v1h-1zM263 85h1v1h-1zM263 87h1v1h-1zM268 90h1v1h-1zM265 80h1v1h-1zM263 87h1v1h-1zM267 84h1v1h-1zM264 90h1v1h-1zM260 91h1v1h-1zM265 90h1v1h-1zM264 93h1v1h-1zM265 85h1v1h-1zM263 93h1v1h-1zM266 92h1v1h-1zM265 88h1v1h-1zM266 79h1v1h-1zM269 87h1v1h-1zM266 93h1v1h-1zM265 85h1v1h-1zM265 90h1v1h-1zM269 85h1v1h-1zM264 83h1v1h-1zM269 88h1v1h-1zM265 91h1v1h-1zM265 92h1v1h-1zM263 92h1v1h-1zM266 89h1v1h-1zM267 91h1v1h-1zM265 93h1v1h-1zM265 92h1v1h-1zM265 83h1v1h-1zM263 91h1v1h-1zM264 86h1v1h-1zM263 90h1v1h-1zM268 86h1v1h-1zM266 93h1v1h-1zM263 89h1v1h-1zM268 83h1v1h-1zM264 86h1v1h-1zM263 90h1v1h-1zM260 89h1v1h-1zM259 88h1v1h-1zM264 99h1v1h-1zM265 82h1v1h-1zM266 85h1v1h-1zM265 88h1v1h-1zM267 77h1v1h-1zM266 90h1v1h-1zM267 91h1v1h-1zM261 87h1v1h-1zM264 87h1v1h-1zM263 89h1v1h-1zM264 88h1v1h-1zM267 85h1v1h-1zM265 85h1v1h-1zM266 93h1v1h-1zM265 87h1v1h-1zM265 82h1v1h-1zM262 90h1v1h-1zM267 85h1v1h-1zM265 88h1v1h-1zM267 82h1v1h-1zM268 83h1v1h-1zM265 96h1v1h-1zM264 80h1v1h-1zM267 88h1v1h-1zM266 87h1v1h-1zM267 87h1v1h-1zM268 90h1v1h-1zM265 86h1v1h-1zM265 85h1v1h-1zM264 80h1v1h-1zM269 81h1v1h-1zM267 86h1v1h-1zM263 79h1v1h-1zM264 80h1v1h-1zM262 84h1v1h-1zM265 83h1v1h-1zM264 77h1v1h-1zM265 85h1v1h-1zM266 81h1v1h-1zM267 78h1v1h-1zM264 83h1v1h-1zM266 81h1v1h-1zM266 80h1v1h-1zM265 82h1v1h-1zM265 83h1v1h-1zM261 79h1v1h-1zM263 81h1v1h-1zM266 82h1v1h-1zM264 80h1v1h-1zM263 81h1v1h-1zM266 78h1v1h-1zM264 80h1v1h-1zM270 82h1v1h-1zM267 80h1v1h-1zM264 81h1v1h-1zM263 80h1v1h-1zM263 81h1v1h-1zM264 80h1v1h-1zM262 83h1v1h-1zM264 79h1v1h-1zM265 86h1v1h-1zM267 80h1v1h-1zM267 80h1v1h-1zM267 81h1v1h-1zM267 78h1v1h-1zM265 78h1v1h-1zM269 83h1v1h-1zM264 81h1v1h-1zM268 79h1v1h-1zM268 84h1v1h-1zM268 80h1v1h-1zM266 82h1v1h-1zM264 81h1v1h-1zM268 78h1v1h-1zM266 82h1v1h-1zM261 81h1v1h-1zM265 81h1v1h-1zM266 85h1v1h-1zM269 76h1v1h-1zM270 76h1v1h-1zM267 80h1v1h-1zM260 80h1v1h-1zM266 76h1v1h-1zM270 76h1v1h-1zM265 85h1v1h-1zM265 81h1v1h-1zM266 78h1v1h-1zM267 80h1v1h-1zM264 80h1v1h-1zM264 86h1v1h-1zM262 76h1v1h-1zM263 78h1v1h-1zM268 78h1v1h-1zM267 82h1v1h-1zM263 84h1v1h-1zM261 82h1v1h-1zM271 80h1v1h-1zM269 82h1v1h-1zM271 84h1v1h-1zM266 81h1v1h-1zM264 80h1v1h-1zM263 75h1v1h-1zM266 82h1v1h-1zM266 82h1v1h-1zM267 80h1v1h-1zM266 81h1v1h-1zM263 79h1v1h-1zM264 78h1v1h-1zM263 80h1v1h-1zM264 81h1v1h-1zM267 81h1v1h-1zM268 82h1v1h-1zM268 78h1v1h-1zM266 80h1v1h-1zM266 81h1v1h-1zM266 79h1v1h-1zM263 86h1v1h-1zM268 80h1v1h-1zM267 79h1v1h-1zM261 84h1v1h-1zM266 80h1v1h-1zM265 82h1v1h-1zM266 82h1v1h-1zM262 83h1v1h-1zM267 79h1v1h-1zM262 83h1v1h-1zM262 83h1v1h-1zM264 80h1v1h-1zM263 81h1v1h-1zM268 79h1v1h-1zM264 79h1v1h-1zM264 80h1v1h-1zM265 81h1v1h-1zM265 84h1v1h-1zM266 82h1v1h-1zM262 79h1v1h-1zM260 79h1v1h-1zM267 80h1v1h-1zM264 80h1v1h-1zM261 82h1v1h-1zM268 80h1v1h-1zM266 78h1v1h-1zM262 80h1v1h-1zM264 80h1v1h-1zM265 80h1v1h-1zM269 79h1v1h-1zM268 79h1v1h-1zM262 79h1v1h-1zM269 82h1v1h-1zM266 79h1v1h-1zM269 80h1v1h-1zM268 80h1v1h-1zM267 82h1v1h-1zM264 83h1v1h-1zM260 78h1v1h-1zM263 83h1v1h-1zM263 81h1v1h-1zM262 80h1v1h-1zM268 79h1v1h-1zM262 82h1v1h-1zM267 89h1v1h-1zM269 80h1v1h-1zM259 78h1v1h-1zM266 85h1v1h-1zM265 82h1v1h-1zM264 80h1v1h-1zM266 81h1v1h-1zM265 80h1v1h-1zM268 80h1v1h-1zM266 79h1v1h-1zM266 82h1v1h-1zM264 80h1v1h-1zM269 81h1v1h-1zM270 78h1v1h-1zM263 82h1v1h-1zM266 83h1v1h-1zM263 81h1v1h-1zM260 83h1v1h-1zM264 96h1v1h-1zM263 93h1v1h-1zM263 95h1v1h-1zM269 97h1v1h-1zM265 98h1v1h-1zM266 99h1v1h-1zM265 94h1v1h-1zM266 99h1v1h-1zM261 93h1v1h-1zM265 95h1v1h-1zM263 91h1v1h-1zM264 107h1v1h-1zM266 91h1v1h-1zM265 96h1v1h-1zM265 98h1v1h-1zM264 99h1v1h-1zM265 100h1v1h-1zM264 98h1v1h-1zM266 91h1v1h-1zM265 92h1v1h-1zM263 91h1v1h-1zM269 91h1v1h-1zM264 95h1v1h-1zM264 94h1v1h-1zM266 92h1v1h-1zM266 98h1v1h-1zM262 93h1v1h-1zM266 98h1v1h-1zM264 101h1v1h-1zM265 89h1v1h-1zM266 90h1v1h-1zM263 95h1v1h-1zM263 94h1v1h-1zM264 93h1v1h-1zM263 86h1v1h-1zM264 87h1v1h-1zM265 93h1v1h-1zM264 98h1v1h-1zM263 93h1v1h-1zM265 98h1v1h-1zM265 95h1v1h-1zM264 100h1v1h-1zM263 93h1v1h-1zM263 95h1v1h-1zM262 96h1v1h-1zM267 101h1v1h-1zM266 91h1v1h-1zM265 93h1v1h-1zM264 94h1v1h-1zM263 95h1v1h-1zM265 91h1v1h-1zM267 89h1v1h-1zM267 91h1v1h-1zM266 92h1v1h-1zM266 98h1v1h-1zM263 98h1v1h-1zM262 93h1v1h-1zM266 94h1v1h-1zM265 98h1v1h-1zM267 91h1v1h-1zM264 101h1v1h-1zM265 93h1v1h-1zM266 95h1v1h-1zM262 107h1v1h-1zM265 108h1v1h-1zM265 95h1v1h-1zM265 100h1v1h-1zM264 94h1v1h-1zM265 100h1v1h-1zM268 115h1v1h-1zM264 101h1v1h-1zM266 115h1v1h-1zM263 110h1v1h-1zM266 106h1v1h-1zM266 97h1v1h-1zM266 110h1v1h-1zM264 107h1v1h-1zM264 118h1v1h-1zM269 109h1v1h-1zM268 108h1v1h-1zM270 74h1v1h-1zM266 77h1v1h-1zM269 78h1v1h-1zM270 83h1v1h-1zM269 73h1v1h-1zM261 82h1v1h-1zM266 74h1v1h-1zM264 80h1v1h-1zM259 129h1v1h-1zM259 128h1v1h-1zM262 129h1v1h-1zM260 128h1v1h-1zM259 129h1v1h-1zM263 129h1v1h-1zM269 129h1v1h-1z" fill="#000" fill-opacity="0.55"/>
<path d="M264 79h1v1h-1zM265 89h1v1h-1zM264 83h1v1h-1zM265 89h1v1h-1zM260 93h1v1h-1zM265 87h1v1h-1zM268 93h1v1h-1zM262 82h1v1h-1zM266 80h1v1h-1zM266 93h1v1h-1zM264 96h1v1h-1zM266 88h1v1h-1zM267 82h1v1h-1zM266 87h1v1h-1zM271 79h1v1h-1zM265 86h1v1h-1zM264 88h1v1h-1zM266 93h1v1h-1zM265 91h1v1h-1zM268 93h1v1h-1zM265 85h1v1h-1zM269 75h1v1h-1zM266 88h1v1h-1zM263 93h1v1h-1zM264 92h1v1h-1zM267 91h1v1h-1zM264 82h1v1h-1zM266 85h1v1h-1zM263 89h1v1h-1zM266 91h1v1h-1zM265 86h1v1h-1zM263 92h1v1h-1zM265 84h1v1h-1zM263 85h1v1h-1zM265 88h1v1h-1zM263 90h1v1h-1zM263 90h1v1h-1zM265 83h1v1h-1zM264 90h1v1h-1zM263 91h1v1h-1zM265 83h1v1h-1zM264 79h1v1h-1zM265 90h1v1h-1zM266 84h1v1h-1zM261 90h1v1h-1zM269 90h1v1h-1zM266 93h1v1h-1zM264 91h1v1h-1zM261 90h1v1h-1zM263 91h1v1h-1zM265 93h1v1h-1zM267 87h1v1h-1zM264 87h1v1h-1zM268 85h1v1h-1zM264 85h1v1h-1zM267 82h1v1h-1zM269 90h1v1h-1zM265 93h1v1h-1zM266 83h1v1h-1zM264 92h1v1h-1zM265 89h1v1h-1zM266 81h1v1h-1zM266 83h1v1h-1zM265 87h1v1h-1zM265 88h1v1h-1zM268 86h1v1h-1zM261 93h1v1h-1zM266 86h1v1h-1zM265 81h1v1h-1zM268 84h1v1h-1zM264 82h1v1h-1zM265 79h1v1h-1zM265 84h1v1h-1zM265 92h1v1h-1zM267 88h1v1h-1zM265 88h1v1h-1zM265 86h1v1h-1zM264 92h1v1h-1zM262 91h1v1h-1zM264 90h1v1h-1zM267 92h1v1h-1zM264 91h1v1h-1zM265 83h1v1h-1zM267 91h1v1h-1zM262 83h1v1h-1zM265 85h1v1h-1zM263 92h1v1h-1zM267 87h1v1h-1zM264 81h1v1h-1zM267 87h1v1h-1zM268 88h1v1h-1zM266 84h1v1h-1zM268 82h1v1h-1zM263 86h1v1h-1zM266 94h1v1h-1zM263 91h1v1h-1zM266 86h1v1h-1zM264 80h1v1h-1zM268 83h1v1h-1zM267 88h1v1h-1zM266 84h1v1h-1zM265 91h1v1h-1zM264 86h1v1h-1zM263 86h1v1h-1zM267 85h1v1h-1zM266 79h1v1h-1zM265 84h1v1h-1zM262 87h1v1h-1zM262 82h1v1h-1zM266 85h1v1h-1zM266 94h1v1h-1zM265 87h1v1h-1zM266 84h1v1h-1zM264 78h1v1h-1zM266 92h1v1h-1zM265 96h1v1h-1zM268 93h1v1h-1zM268 83h1v1h-1zM264 86h1v1h-1zM267 88h1v1h-1zM269 86h1v1h-1zM266 90h1v1h-1zM266 86h1v1h-1zM268 87h1v1h-1zM265 84h1v1h-1zM264 91h1v1h-1zM263 87h1v1h-1zM263 90h1v1h-1zM265 86h1v1h-1zM266 87h1v1h-1zM266 76h1v1h-1zM266 86h1v1h-1zM266 93h1v1h-1zM263 83h1v1h-1zM263 86h1v1h-1zM264 92h1v1h-1zM263 89h1v1h-1zM266 90h1v1h-1zM266 88h1v1h-1zM263 82h1v1h-1zM267 85h1v1h-1zM263 90h1v1h-1zM268 85h1v1h-1zM264 89h1v1h-1zM267 92h1v1h-1zM264 91h1v1h-1zM267 85h1v1h-1zM265 90h1v1h-1zM264 83h1v1h-1zM265 91h1v1h-1zM267 81h1v1h-1zM264 84h1v1h-1zM262 90h1v1h-1zM262 90h1v1h-1zM264 90h1v1h-1zM263 83h1v1h-1zM265 91h1v1h-1zM264 82h1v1h-1zM263 89h1v1h-1zM264 83h1v1h-1zM267 84h1v1h-1zM266 85h1v1h-1zM265 90h1v1h-1zM264 90h1v1h-1zM262 89h1v1h-1zM265 83h1v1h-1zM269 86h1v1h-1zM263 88h1v1h-1zM264 83h1v1h-1zM262 85h1v1h-1zM265 93h1v1h-1zM266 86h1v1h-1zM266 88h1v1h-1zM265 84h1v1h-1zM266 85h1v1h-1zM266 84h1v1h-1zM268 85h1v1h-1zM267 90h1v1h-1zM265 82h1v1h-1zM268 82h1v1h-1zM265 88h1v1h-1zM263 85h1v1h-1zM269 88h1v1h-1zM266 80h1v1h-1zM266 87h1v1h-1zM264 92h1v1h-1zM269 90h1v1h-1zM262 87h1v1h-1zM268 89h1v1h-1zM265 82h1v1h-1zM262 93h1v1h-1zM265 85h1v1h-1zM266 88h1v1h-1zM264 83h1v1h-1zM264 90h1v1h-1zM265 87h1v1h-1zM267 87h1v1h-1zM268 94h1v1h-1zM267 87h1v1h-1zM262 89h1v1h-1zM265 83h1v1h-1zM265 85h1v1h-1zM265 93h1v1h-1zM264 92h1v1h-1zM264 86h1v1h-1zM265 90h1v1h-1zM263 94h1v1h-1zM262 88h1v1h-1zM263 83h1v1h-1zM265 94h1v1h-1zM267 91h1v1h-1zM267 83h1v1h-1zM266 88h1v1h-1zM265 85h1v1h-1zM266 92h1v1h-1zM266 100h1v1h-1zM263 85h1v1h-1zM262 90h1v1h-1zM263 80h1v1h-1zM263 84h1v1h-1zM265 96h1v1h-1zM264 86h1v1h-1zM265 87h1v1h-1zM264 89h1v1h-1zM265 89h1v1h-1zM265 77h1v1h-1zM267 81h1v1h-1zM266 78h1v1h-1zM265 80h1v1h-1zM267 81h1v1h-1zM266 78h1v1h-1zM262 85h1v1h-1zM265 76h1v1h-1zM266 79h1v1h-1zM266 83h1v1h-1zM263 77h1v1h-1zM264 80h1v1h-1zM266 79h1v1h-1zM266 82h1v1h-1zM270 81h1v1h-1zM268 83h1v1h-1zM263 80h1v1h-1zM263 80h1v1h-1zM267 78h1v1h-1zM265 82h1v1h-1zM267 79h1v1h-1zM266 78h1v1h-1zM264 79h1v1h-1zM261 80h1v1h-1zM267 81h1v1h-1zM265 82h1v1h-1zM267 80h1v1h-1zM262 79h1v1h-1zM266 82h1v1h-1zM268 79h1v1h-1zM268 83h1v1h-1zM266 79h1v1h-1zM263 78h1v1h-1zM264 85h1v1h-1zM266 82h1v1h-1zM265 80h1v1h-1zM266 81h1v1h-1zM264 81h1v1h-1zM264 83h1v1h-1zM266 81h1v1h-1zM268 80h1v1h-1zM264 79h1v1h-1zM266 82h1v1h-1zM266 83h1v1h-1zM266 81h1v1h-1zM264 83h1v1h-1zM265 81h1v1h-1zM266 78h1v1h-1zM267 85h1v1h-1zM266 84h1v1h-1zM265 79h1v1h-1zM266 87h1v1h-1zM261 81h1v1h-1zM262 77h1v1h-1zM262 82h1v1h-1zM263 83h1v1h-1zM265 80h1v1h-1zM262 79h1v1h-1zM265 78h1v1h-1zM265 82h1v1h-1zM264 81h1v1h-1zM263 78h1v1h-1zM265 80h1v1h-1zM264 84h1v1h-1zM269 79h1v1h-1zM267 80h1v1h-1zM266 81h1v1h-1zM263 81h1v1h-1zM267 82h1v1h-1zM264 74h1v1h-1zM266 80h1v1h-1zM262 81h1v1h-1zM262 86h1v1h-1zM269 83h1v1h-1zM264 80h1v1h-1zM260 77h1v1h-1zM268 85h1v1h-1zM267 82h1v1h-1zM264 82h1v1h-1zM264 81h1v1h-1zM265 83h1v1h-1zM267 80h1v1h-1zM263 81h1v1h-1zM266 83h1v1h-1zM267 77h1v1h-1zM267 79h1v1h-1zM267 80h1v1h-1zM264 81h1v1h-1zM267 81h1v1h-1zM262 79h1v1h-1zM265 79h1v1h-1zM268 83h1v1h-1zM263 78h1v1h-1zM265 81h1v1h-1zM262 80h1v1h-1zM265 83h1v1h-1zM265 83h1v1h-1zM267 80h1v1h-1zM265 81h1v1h-1zM266 83h1v1h-1zM266 83h1v1h-1zM265 81h1v1h-1zM265 77h1v1h-1zM263 84h1v1h-1zM265 76h1v1h-1zM263 82h1v1h-1zM264 80h1v1h-1zM263 83h1v1h-1zM262 78h1v1h-1zM267 79h1v1h-1zM265 82h1v1h-1zM265 79h1v1h-1zM269 74h1v1h-1zM268 78h1v1h-1zM266 83h1v1h-1zM267 79h1v1h-1zM269 80h1v1h-1zM263 84h1v1h-1zM269 80h1v1h-1zM263 81h1v1h-1zM269 80h1v1h-1zM264 83h1v1h-1zM264 83h1v1h-1zM265 81h1v1h-1zM269 77h1v1h-1zM263 82h1v1h-1zM268 78h1v1h-1zM265 77h1v1h-1zM264 82h1v1h-1zM264 78h1v1h-1zM264 79h1v1h-1zM258 78h1v1h-1zM263 80h1v1h-1zM265 81h1v1h-1zM263 81h1v1h-1zM263 84h1v1h-1zM267 82h1v1h-1zM265 79h1v1h-1zM266 82h1v1h-1zM269 83h1v1h-1zM265 78h1v1h-1zM262 83h1v1h-1zM269 75h1v1h-1zM268 77h1v1h-1zM267 82h1v1h-1zM265 78h1v1h-1zM270 75h1v1h-1zM266 77h1v1h-1zM269 77h1v1h-1zM266 78h1v1h-1zM262 91h1v1h-1zM264 96h1v1h-1zM266 96h1v1h-1zM265 100h1v1h-1zM267 97h1v1h-1zM264 93h1v1h-1zM265 93h1v1h-1zM264 95h1v1h-1zM263 95h1v1h-1zM265 93h1v1h-1zM262 90h1v1h-1zM264 91h1v1h-1zM264 92h1v1h-1zM265 89h1v1h-1zM264 100h1v1h-1zM264 94h1v1h-1zM265 90h1v1h-1zM265 91h1v1h-1zM266 90h1v1h-1zM263 90h1v1h-1zM265 100h1v1h-1zM264 90h1v1h-1zM263 94h1v1h-1zM262 93h1v1h-1zM267 96h1v1h-1zM263 94h1v1h-1zM263 90h1v1h-1zM267 87h1v1h-1zM264 98h1v1h-1zM265 96h1v1h-1zM267 98h1v1h-1zM263 93h1v1h-1zM262 97h1v1h-1zM264 93h1v1h-1zM267 97h1v1h-1zM265 95h1v1h-1zM264 93h1v1h-1zM261 83h1v1h-1zM265 93h1v1h-1zM263 93h1v1h-1zM265 93h1v1h-1zM265 92h1v1h-1zM264 93h1v1h-1zM265 97h1v1h-1zM266 96h1v1h-1zM264 97h1v1h-1zM263 92h1v1h-1zM265 99h1v1h-1zM261 99h1v1h-1zM266 88h1v1h-1zM266 92h1v1h-1zM263 95h1v1h-1zM262 94h1v1h-1zM262 97h1v1h-1zM264 94h1v1h-1zM265 83h1v1h-1zM264 96h1v1h-1zM262 92h1v1h-1zM266 94h1v1h-1zM263 97h1v1h-1zM266 94h1v1h-1zM263 94h1v1h-1zM267 97h1v1h-1zM264 105h1v1h-1zM264 104h1v1h-1zM262 113h1v1h-1zM264 99h1v1h-1zM262 99h1v1h-1zM264 101h1v1h-1zM268 107h1v1h-1zM266 98h1v1h-1zM264 106h1v1h-1zM265 97h1v1h-1zM265 112h1v1h-1zM268 109h1v1h-1zM264 117h1v1h-1zM265 110h1v1h-1zM265 114h1v1h-1zM265 104h1v1h-1zM265 103h1v1h-1zM271 81h1v1h-1zM265 80h1v1h-1zM266 77h1v1h-1zM268 76h1v1h-1zM269 69h1v1h-1zM264 76h1v1h-1zM271 77h1v1h-1zM266 75h1v1h-1zM268 129h1v1h-1zM269 128h1v1h-1zM259 129h1v1h-1zM260 128h1v1h-1zM262 128h1v1h-1zM266 129h1v1h-1zM264 128h1v1h-1z" fill="#000" fill-opacity="0.55"/>
<path d="M268 83h1v1h-1zM265 90h1v1h-1zM267 90h1v1h-1zM266 87h1v1h-1zM261 84h1v1h-1zM264 81h1v1h-1zM260 95h1v1h-1zM266 85h1v1h-1zM263 82h1v1h-1zM264 97h1v1h-1zM265 82h1v1h-1zM265 86h1v1h-1zM263 89h1v1h-1zM267 92h1v1h-1zM262 78h1v1h-1zM263 92h1v1h-1zM265 85h1v1h-1zM263 86h1v1h-1zM266 87h1v1h-1zM264 88h1v1h-1zM265 89h1v1h-1zM265 87h1v1h-1zM267 87h1v1h-1zM266 81h1v1h-1zM266 87h1v1h-1zM264 94h1v1h-1zM265 77h1v1h-1zM268 86h1v1h-1zM266 83h1v1h-1zM267 89h1v1h-1zM265 88h1v1h-1zM268 82h1v1h-1zM264 92h1v1h-1zM264 90h1v1h-1zM266 87h1v1h-1zM265 88h1v1h-1zM265 84h1v1h-1zM267 89h1v1h-1zM266 86h1v1h-1zM266 85h1v1h-1zM264 93h1v1h-1zM262 89h1v1h-1zM265 94h1v1h-1zM265 83h1v1h-1zM266 83h1v1h-1zM267 92h1v1h-1zM265 86h1v1h-1zM266 86h1v1h-1zM265 83h1v1h-1zM268 89h1v1h-1zM264 92h1v1h-1zM263 88h1v1h-1zM267 85h1v1h-1zM266 83h1v1h-1zM265 82h1v1h-1zM262 94h1v1h-1zM266 83h1v1h-1zM264 92h1v1h-1zM265 88h1v1h-1zM264 86h1v1h-1zM265 90h1v1h-1zM268 88h1v1h-1zM264 91h1v1h-1zM262 92h1v1h-1zM265 85h1v1h-1zM266 86h1v1h-1zM263 89h1v1h-1zM267 91h1v1h-1zM265 88h1v1h-1zM263 81h1v1h-1zM263 87h1v1h-1zM267 87h1v1h-1zM266 87h1v1h-1zM264 88h1v1h-1zM265 82h1v1h-1zM263 92h1v1h-1zM264 89h1v1h-1zM267 87h1v1h-1zM262 85h1v1h-1zM268 88h1v1h-1zM269 90h1v1h-1zM265 83h1v1h-1zM263 85h1v1h-1zM266 86h1v1h-1zM269 89h1v1h-1zM266 89h1v1h-1zM267 92h1v1h-1zM268 85h1v1h-1zM265 85h1v1h-1zM266 90h1v1h-1zM263 91h1v1h-1zM264 97h1v1h-1zM267 79h1v1h-1zM265 85h1v1h-1zM265 83h1v1h-1zM264 90h1v1h-1zM265 90h1v1h-1zM263 90h1v1h-1zM266 86h1v1h-1zM264 87h1v1h-1zM267 91h1v1h-1zM264 78h1v1h-1zM263 84h1v1h-1zM262 81h1v1h-1zM266 83h1v1h-1zM261 86h1v1h-1zM268 89h1v1h-1zM266 98h1v1h-1zM265 89h1v1h-1zM264 82h1v1h-1zM264 84h1v1h-1zM268 90h1v1h-1zM266 87h1v1h-1zM262 96h1v1h-1zM265 82h1v1h-1zM265 96h1v1h-1zM270 85h1v1h-1zM264 84h1v1h-1zM266 96h1v1h-1zM267 88h1v1h-1zM270 83h1v1h-1zM263 89h1v1h-1zM263 87h1v1h-1zM264 93h1v1h-1zM265 89h1v1h-1zM267 87h1v1h-1zM264 90h1v1h-1zM267 92h1v1h-1zM264 87h1v1h-1zM265 97h1v1h-1zM265 89h1v1h-1zM265 96h1v1h-1zM267 89h1v1h-1zM264 83h1v1h-1zM264 83h1v1h-1zM269 86h1v1h-1zM265 92h1v1h-1zM267 89h1v1h-1zM261 87h1v1h-1zM264 89h1v1h-1zM266 88h1v1h-1zM269 89h1v1h-1zM268 81h1v1h-1zM269 91h1v1h-1zM266 97h1v1h-1zM270 84h1v1h-1zM268 84h1v1h-1zM268 93h1v1h-1zM264 87h1v1h-1zM267 82h1v1h-1zM265 92h1v1h-1zM263 85h1v1h-1zM266 82h1v1h-1zM265 86h1v1h-1zM266 82h1v1h-1zM261 79h1v1h-1zM266 80h1v1h-1zM268 85h1v1h-1zM267 89h1v1h-1zM265 94h1v1h-1zM264 93h1v1h-1zM264 88h1v1h-1zM264 84h1v1h-1zM268 86h1v1h-1zM267 90h1v1h-1zM265 89h1v1h-1zM264 91h1v1h-1zM264 87h1v1h-1zM262 88h1v1h-1zM264 90h1v1h-1zM264 88h1v1h-1zM268 92h1v1h-1zM267 84h1v1h-1zM263 88h1v1h-1zM262 85h1v1h-1zM266 82h1v1h-1zM268 77h1v1h-1zM264 88h1v1h-1zM267 88h1v1h-1zM263 92h1v1h-1zM266 85h1v1h-1zM265 92h1v1h-1zM266 93h1v1h-1zM267 87h1v1h-1zM265 84h1v1h-1zM266 88h1v1h-1zM266 98h1v1h-1zM266 81h1v1h-1zM267 91h1v1h-1zM262 84h1v1h-1zM265 91h1v1h-1zM265 85h1v1h-1zM268 84h1v1h-1zM267 94h1v1h-1zM261 86h1v1h-1zM264 86h1v1h-1zM267 84h1v1h-1zM263 87h1v1h-1zM266 86h1v1h-1zM265 92h1v1h-1zM265 92h1v1h-1zM260 94h1v1h-1zM269 91h1v1h-1zM266 90h1v1h-1zM265 86h1v1h-1zM266 86h1v1h-1zM265 86h1v1h-1zM265 84h1v1h-1zM262 80h1v1h-1zM262 83h1v1h-1zM265 92h1v1h-1zM267 84h1v1h-1zM264 80h1v1h-1zM265 90h1v1h-1zM268 94h1v1h-1zM266 84h1v1h-1zM265 82h1v1h-1zM265 92h1v1h-1zM264 93h1v1h-1zM266 92h1v1h-1zM266 94h1v1h-1zM265 86h1v1h-1zM268 85h1v1h-1zM267 84h1v1h-1zM267 94h1v1h-1zM264 80h1v1h-1zM267 80h1v1h-1zM270 81h1v1h-1zM269 80h1v1h-1zM265 80h1v1h-1zM266 75h1v1h-1zM264 83h1v1h-1zM266 82h1v1h-1zM265 81h1v1h-1zM265 79h1v1h-1zM263 76h1v1h-1zM265 82h1v1h-1zM269 78h1v1h-1zM266 81h1v1h-1zM264 82h1v1h-1zM266 80h1v1h-1zM267 82h1v1h-1zM269 79h1v1h-1zM263 80h1v1h-1zM268 80h1v1h-1zM262 83h1v1h-1zM266 83h1v1h-1zM268 83h1v1h-1zM266 77h1v1h-1zM262 83h1v1h-1zM265 81h1v1h-1zM266 79h1v1h-1zM265 82h1v1h-1zM265 77h1v1h-1zM263 81h1v1h-1zM265 82h1v1h-1zM267 78h1v1h-1zM262 80h1v1h-1zM268 76h1v1h-1zM264 83h1v1h-1zM260 81h1v1h-1zM261 78h1v1h-1zM262 79h1v1h-1zM263 84h1v1h-1zM263 82h1v1h-1zM269 79h1v1h-1zM267 83h1v1h-1zM264 75h1v1h-1zM266 84h1v1h-1zM269 81h1v1h-1zM263 81h1v1h-1zM264 79h1v1h-1zM265 81h1v1h-1zM261 81h1v1h-1zM268 79h1v1h-1zM266 81h1v1h-1zM265 82h1v1h-1zM267 76h1v1h-1zM266 83h1v1h-1zM264 78h1v1h-1zM261 79h1v1h-1zM266 81h1v1h-1zM264 81h1v1h-1zM266 82h1v1h-1zM266 83h1v1h-1zM265 84h1v1h-1zM264 82h1v1h-1zM269 81h1v1h-1zM268 79h1v1h-1zM267 80h1v1h-1zM263 86h1v1h-1zM267 81h1v1h-1zM265 81h1v1h-1zM266 79h1v1h-1zM269 82h1v1h-1zM267 84h1v1h-1zM265 80h1v1h-1zM263 78h1v1h-1zM264 82h1v1h-1zM258 80h1v1h-1zM262 81h1v1h-1zM261 77h1v1h-1zM262 82h1v1h-1zM267 81h1v1h-1zM266 89h1v1h-1zM261 83h1v1h-1zM265 81h1v1h-1zM265 81h1v1h-1zM265 80h1v1h-1zM266 85h1v1h-1zM261 79h1v1h-1zM264 81h1v1h-1zM262 78h1v1h-1zM262 75h1v1h-1zM262 77h1v1h-1zM264 79h1v1h-1zM265 80h1v1h-1zM269 84h1v1h-1zM266 83h1v1h-1zM265 82h1v1h-1zM265 79h1v1h-1zM266 85h1v1h-1zM265 79h1v1h-1zM264 80h1v1h-1zM260 80h1v1h-1zM264 80h1v1h-1zM263 80h1v1h-1zM266 81h1v1h-1zM263 82h1v1h-1zM271 80h1v1h-1zM268 83h1v1h-1zM269 77h1v1h-1zM261 77h1v1h-1zM265 82h1v1h-1zM266 83h1v1h-1zM262 81h1v1h-1zM266 80h1v1h-1zM270 83h1v1h-1zM263 81h1v1h-1zM267 81h1v1h-1zM270 78h1v1h-1zM267 81h1v1h-1zM268 81h1v1h-1zM264 80h1v1h-1zM267 81h1v1h-1zM266 79h1v1h-1zM266 82h1v1h-1zM263 79h1v1h-1zM264 83h1v1h-1zM268 83h1v1h-1zM268 82h1v1h-1zM261 80h1v1h-1zM263 79h1v1h-1zM262 77h1v1h-1zM268 81h1v1h-1zM266 79h1v1h-1zM266 81h1v1h-1zM264 82h1v1h-1zM270 80h1v1h-1zM268 81h1v1h-1zM264 75h1v1h-1zM263 85h1v1h-1zM265 79h1v1h-1zM263 86h1v1h-1zM265 82h1v1h-1zM266 82h1v1h-1zM271 82h1v1h-1zM270 81h1v1h-1zM265 82h1v1h-1zM266 81h1v1h-1zM264 79h1v1h-1zM265 76h1v1h-1zM269 78h1v1h-1zM261 80h1v1h-1zM267 80h1v1h-1zM266 101h1v1h-1zM264 103h1v1h-1zM260 89h1v1h-1zM264 93h1v1h-1zM266 94h1v1h-1zM264 96h1v1h-1zM262 94h1v1h-1zM261 96h1v1h-1zM265 93h1v1h-1zM265 94h1v1h-1zM265 105h1v1h-1zM265 102h1v1h-1zM266 90h1v1h-1zM264 91h1v1h-1zM266 90h1v1h-1zM266 89h1v1h-1zM266 93h1v1h-1zM264 90h1v1h-1zM265 94h1v1h-1zM267 95h1v1h-1zM265 95h1v1h-1zM263 94h1v1h-1zM266 87h1v1h-1zM264 91h1v1h-1zM263 97h1v1h-1zM265 90h1v1h-1zM263 99h1v1h-1zM266 89h1v1h-1zM264 94h1v1h-1zM265 94h1v1h-1zM264 94h1v1h-1zM267 97h1v1h-1zM265 92h1v1h-1zM267 97h1v1h-1zM265 95h1v1h-1zM266 96h1v1h-1zM264 93h1v1h-1zM264 94h1v1h-1zM263 93h1v1h-1zM269 99h1v1h-1zM261 91h1v1h-1zM265 98h1v1h-1zM265 95h1v1h-1zM263 93h1v1h-1zM266 95h1v1h-1zM266 96h1v1h-1zM265 91h1v1h-1zM264 91h1v1h-1zM263 93h1v1h-1zM265 100h1v1h-1zM265 93h1v1h-1zM266 94h1v1h-1zM266 90h1v1h-1zM265 97h1v1h-1zM265 97h1v1h-1zM265 93h1v1h-1zM263 88h1v1h-1zM264 94h1v1h-1zM262 93h1v1h-1zM264 96h1v1h-1zM265 97h1v1h-1zM264 93h1v1h-1zM264 103h1v1h-1zM266 108h1v1h-1zM268 98h1v1h-1zM268 107h1v1h-1zM265 106h1v1h-1zM264 104h1v1h-1zM264 110h1v1h-1zM262 118h1v1h-1zM262 110h1v1h-1zM266 112h1v1h-1zM267 110h1v1h-1zM265 110h1v1h-1zM264 103h1v1h-1zM269 102h1v1h-1zM266 109h1v1h-1zM265 106h1v1h-1zM267 105h1v1h-1zM267 108h1v1h-1zM266 73h1v1h-1zM262 79h1v1h-1zM263 83h1v1h-1zM262 80h1v1h-1zM264 73h1v1h-1zM270 75h1v1h-1zM265 74h1v1h-1zM261 129h1v1h-1zM263 129h1v1h-1zM262 129h1v1h-1zM263 128h1v1h-1zM265 128h1v1h-1zM262 129h1v1h-1zM261 129h1v1h-1zM261 128h1v1h-1z" fill="#000" fill-opacity="0.55"/>
<path d="M263 89h1v1h-1zM267 86h1v1h-1zM264 97h1v1h-1zM266 82h1v1h-1zM267 86h1v1h-1zM265 89h1v1h-1zM265 83h1v1h-1zM268 88h1v1h-1zM268 95h1v1h-1zM265 92h1v1h-1zM269 85h1v1h-1zM264 84h1v1h-1zM269 87h1v1h-1zM266 94h1v1h-1zM266 83h1v1h-1zM264 89h1v1h-1zM266 87h1v1h-1zM266 92h1v1h-1zM263 88h1v1h-1zM265 88h1v1h-1zM264 92h1v1h-1zM267 92h1v1h-1zM263 86h1v1h-1zM266 92h1v1h-1zM264 83h1v1h-1zM265 83h1v1h-1zM265 94h1v1h-1zM269 86h1v1h-1zM266 86h1v1h-1zM264 85h1v1h-1zM267 94h1v1h-1zM270 85h1v1h-1zM266 86h1v1h-1zM265 83h1v1h-1zM266 84h1v1h-1zM264 96h1v1h-1zM264 91h1v1h-1zM264 86h1v1h-1zM266 86h1v1h-1zM266 89h1v1h-1zM261 84h1v1h-1zM267 91h1v1h-1zM264 78h1v1h-1zM265 88h1v1h-1zM265 87h1v1h-1zM265 92h1v1h-1zM266 87h1v1h-1zM263 85h1v1h-1zM267 89h1v1h-1zM265 86h1v1h-1zM264 90h1v1h-1zM266 85h1v1h-1zM267 86h1v1h-1zM264 86h1v1h-1zM263 99h1v1h-1zM267 84h1v1h-1zM262 89h1v1h-1zM267 85h1v1h-1zM265 88h1v1h-1zM263 83h1v1h-1zM268 89h1v1h-1zM267 83h1v1h-1zM264 88h1v1h-1zM267 91h1v1h-1zM263 84h1v1h-1zM265 83h1v1h-1zM265 85h1v1h-1zM265 92h1v1h-1zM264 87h1v1h-1zM264 87h1v1h-1zM267 86h1v1h-1zM266 92h1v1h-1zM264 95h1v1h-1zM267 79h1v1h-1zM271 84h1v1h-1zM265 90h1v1h-1zM266 83h1v1h-1zM262 86h1v1h-1zM262 85h1v1h-1zM263 87h1v1h-1zM260 87h1v1h-1zM264 75h1v1h-1zM270 83h1v1h-1zM265 84h1v1h-1zM264 87h1v1h-1zM264 84h1v1h-1zM264 85h1v1h-1zM266 94h1v1h-1zM269 86h1v1h-1zM264 88h1v1h-1zM265 92h1v1h-1zM263 91h1v1h-1zM265 89h1v1h-1zM264 85h1v1h-1zM264 88h1v1h-1zM267 94h1v1h-1zM262 85h1v1h-1zM266 89h1v1h-1zM262 91h1v1h-1zM265 93h1v1h-1zM265 89h1v1h-1zM264 92h1v1h-1zM266 88h1v1h-1zM263 83h1v1h-1zM264 88h1v1h-1zM265 88h1v1h-1zM266 95h1v1h-1zM266 88h1v1h-1zM263 87h1v1h-1zM264 97h1v1h-1zM267 91h1v1h-1zM266 86h1v1h-1zM266 87h1v1h-1zM266 86h1v1h-1zM267 85h1v1h-1zM266 82h1v1h-1zM264 97h1v1h-1zM266 89h1v1h-1zM265 88h1v1h-1zM263 84h1v1h-1zM263 91h1v1h-1zM267 87h1v1h-1zM266 84h1v1h-1zM265 81h1v1h-1zM264 87h1v1h-1zM263 86h1v1h-1zM265 89h1v1h-1zM263 89h1v1h-1zM265 83h1v1h-1zM267 89h1v1h-1zM265 88h1v1h-1zM263 85h1v1h-1zM265 87h1v1h-1zM264 93h1v1h-1zM262 88h1v1h-1zM264 86h1v1h-1zM264 87h1v1h-1zM264 84h1v1h-1zM265 83h1v1h-1zM265 94h1v1h-1zM267 83h1v1h-1zM264 87h1v1h-1zM265 86h1v1h-1zM264 84h1v1h-1zM267 78h1v1h-1zM269 87h1v1h-1zM265 91h1v1h-1zM269 87h1v1h-1zM265 91h1v1h-1zM268 84h1v1h-1zM265 87h1v1h-1zM265 89h1v1h-1zM267 77h1v1h-1zM264 87h1v1h-1zM264 94h1v1h-1zM264 83h1v1h-1zM268 86h1v1h-1zM264 90h1v1h-1zM266 85h1v1h-1zM261 82h1v1h-1zM266 90h1v1h-1zM266 82h1v1h-1zM267 90h1v1h-1zM263 89h1v1h-1zM266 93h1v1h-1zM266 93h1v1h-1zM264 84h1v1h-1zM264 88h1v1h-1zM260 93h1v1h-1zM264 90h1v1h-1zM265 82h1v1h-1zM267 92h1v1h-1zM260 91h1v1h-1zM265 91h1v1h-1zM265 85h1v1h-1zM267 88h1v1h-1zM263 95h1v1h-1zM263 82h1v1h-1zM267 86h1v1h-1zM266 88h1v1h-1zM266 88h1v1h-1zM264 92h1v1h-1zM266 92h1v1h-1zM263 86h1v1h-1zM264 86h1v1h-1zM266 87h1v1h-1zM263 90h1v1h-1zM265 86h1v1h-1zM265 90h1v1h-1zM267 89h1v1h-1zM268 84h1v1h-1zM265 86h1v1h-1zM264 95h1v1h-1zM265 84h1v1h-1zM266 89h1v1h-1zM265 90h1v1h-1zM269 92h1v1h-1zM266 92h1v1h-1zM265 82h1v1h-1zM267 83h1v1h-1zM267 94h1v1h-1zM267 88h1v1h-1zM264 89h1v1h-1zM264 87h1v1h-1zM265 88h1v1h-1zM264 81h1v1h-1zM265 85h1v1h-1zM267 89h1v1h-1zM268 86h1v1h-1zM265 84h1v1h-1zM264 83h1v1h-1zM263 81h1v1h-1zM264 89h1v1h-1zM265 84h1v1h-1zM267 88h1v1h-1zM268 81h1v1h-1zM266 87h1v1h-1zM261 82h1v1h-1zM268 82h1v1h-1zM270 86h1v1h-1zM266 91h1v1h-1zM264 85h1v1h-1zM268 84h1v1h-1zM265 89h1v1h-1zM264 100h1v1h-1zM268 76h1v1h-1zM265 83h1v1h-1zM267 77h1v1h-1zM267 85h1v1h-1zM266 81h1v1h-1zM267 80h1v1h-1zM265 84h1v1h-1zM266 84h1v1h-1zM263 83h1v1h-1zM264 78h1v1h-1zM263 77h1v1h-1zM267 82h1v1h-1zM266 83h1v1h-1zM267 76h1v1h-1zM264 78h1v1h-1zM266 83h1v1h-1zM266 79h1v1h-1zM267 80h1v1h-1zM267 79h1v1h-1zM266 78h1v1h-1zM271 74h1v1h-1zM265 82h1v1h-1zM266 77h1v1h-1zM264 79h1v1h-1zM264 76h1v1h-1zM268 80h1v1h-1zM265 82h1v1h-1zM263 80h1v1h-1zM264 77h1v1h-1zM260 85h1v1h-1zM265 83h1v1h-1zM266 78h1v1h-1zM269 79h1v1h-1zM263 81h1v1h-1zM263 82h1v1h-1zM262 76h1v1h-1zM265 82h1v1h-1zM264 75h1v1h-1zM264 81h1v1h-1zM267 81h1v1h-1zM265 81h1v1h-1zM267 80h1v1h-1zM266 82h1v1h-1zM265 82h1v1h-1zM268 81h1v1h-1zM267 81h1v1h-1zM262 80h1v1h-1zM264 78h1v1h-1zM266 79h1v1h-1zM260 83h1v1h-1zM268 79h1v1h-1zM264 88h1v1h-1zM264 82h1v1h-1zM268 79h1v1h-1zM261 80h1v1h-1zM265 83h1v1h-1zM262 78h1v1h-1zM264 82h1v1h-1zM263 76h1v1h-1zM264 75h1v1h-1zM264 80h1v1h-1zM265 80h1v1h-1zM266 83h1v1h-1zM262 83h1v1h-1zM265 79h1v1h-1zM269 80h1v1h-1zM266 85h1v1h-1zM260 82h1v1h-1zM267 81h1v1h-1zM266 79h1v1h-1zM267 83h1v1h-1zM265 81h1v1h-1zM264 80h1v1h-1zM263 77h1v1h-1zM268 81h1v1h-1zM264 76h1v1h-1zM268 84h1v1h-1zM268 80h1v1h-1zM265 76h1v1h-1zM263 79h1v1h-1zM267 79h1v1h-1zM263 81h1v1h-1zM264 82h1v1h-1zM262 81h1v1h-1zM265 78h1v1h-1zM267 83h1v1h-1zM268 79h1v1h-1zM262 79h1v1h-1zM266 79h1v1h-1zM267 79h1v1h-1zM269 80h1v1h-1zM264 81h1v1h-1zM262 79h1v1h-1zM262 83h1v1h-1zM267 82h1v1h-1zM272 82h1v1h-1zM268 78h1v1h-1zM270 80h1v1h-1zM261 82h1v1h-1zM267 83h1v1h-1zM264 83h1v1h-1zM267 82h1v1h-1zM262 80h1v1h-1zM266 84h1v1h-1zM265 78h1v1h-1zM264 77h1v1h-1zM264 79h1v1h-1zM266 77h1v1h-1zM264 80h1v1h-1zM262 87h1v1h-1zM264 84h1v1h-1zM265 81h1v1h-1zM269 81h1v1h-1zM266 81h1v1h-1zM265 79h1v1h-1zM267 80h1v1h-1zM267 82h1v1h-1zM265 81h1v1h-1zM260 81h1v1h-1zM266 81h1v1h-1zM267 79h1v1h-1zM265 76h1v1h-1zM268 79h1v1h-1zM268 81h1v1h-1zM265 81h1v1h-1zM264 79h1v1h-1zM262 82h1v1h-1zM263 83h1v1h-1zM266 84h1v1h-1zM262 80h1v1h-1zM267 79h1v1h-1zM264 80h1v1h-1zM265 82h1v1h-1zM269 83h1v1h-1zM266 85h1v1h-1zM263 79h1v1h-1zM268 81h1v1h-1zM267 79h1v1h-1zM264 82h1v1h-1zM267 84h1v1h-1zM264 82h1v1h-1zM263 78h1v1h-1zM266 81h1v1h-1zM261 80h1v1h-1zM263 80h1v1h-1zM262 81h1v1h-1zM265 81h1v1h-1zM265 81h1v1h-1zM265 78h1v1h-1zM266 77h1v1h-1zM266 94h1v1h-1zM267 87h1v1h-1zM267 97h1v1h-1zM263 95h1v1h-1zM263 97h1v1h-1zM264 94h1v1h-1zM268 92h1v1h-1zM267 95h1v1h-1zM264 92h1v1h-1zM265 94h1v1h-1zM262 92h1v1h-1zM260 91h1v1h-1zM265 95h1v1h-1zM265 94h1v1h-1zM264 99h1v1h-1zM265 93h1v1h-1zM265 98h1v1h-1zM266 95h1v1h-1zM264 96h1v1h-1zM264 97h1v1h-1zM267 89h1v1h-1zM268 91h1v1h-1zM264 94h1v1h-1zM267 101h1v1h-1zM264 96h1v1h-1zM265 97h1v1h-1zM263 93h1v1h-1zM263 93h1v1h-1zM265 96h1v1h-1zM265 90h1v1h-1zM266 93h1v1h-1zM264 94h1v1h-1zM264 103h1v1h-1zM265 96h1v1h-1zM265 95h1v1h-1zM264 97h1v1h-1zM266 104h1v1h-1zM263 90h1v1h-1zM267 92h1v1h-1zM264 95h1v1h-1zM265 90h1v1h-1zM262 90h1v1h-1zM263 92h1v1h-1zM261 95h1v1h-1zM265 98h1v1h-1zM265 90h1v1h-1zM265 96h1v1h-1zM264 92h1v1h-1zM261 88h1v1h-1zM264 98h1v1h-1zM264 95h1v1h-1zM264 96h1v1h-1zM266 98h1v1h-1zM262 84h1v1h-1zM264 93h1v1h-1zM262 93h1v1h-1zM264 90h1v1h-1zM262 94h1v1h-1zM266 91h1v1h-1zM264 95h1v1h-1zM264 95h1v1h-1zM261 95h1v1h-1zM266 104h1v1h-1zM269 102h1v1h-1zM265 96h1v1h-1zM259 112h1v1h-1zM265 111h1v1h-1zM265 114h1v1h-1zM263 111h1v1h-1zM265 108h1v1h-1zM264 102h1v1h-1zM267 110h1v1h-1zM268 106h1v1h-1zM265 114h1v1h-1zM269 107h1v1h-1zM267 97h1v1h-1zM265 108h1v1h-1zM264 99h1v1h-1zM264 103h1v1h-1zM264 112h1v1h-1zM271 76h1v1h-1zM271 81h1v1h-1zM266 74h1v1h-1zM266 75h1v1h-1zM266 80h1v1h-1zM272 77h1v1h-1zM264 77h1v1h-1zM264 129h1v1h-1zM263 128h1v1h-1zM267 129h1v1h-1zM261 129h1v1h-1zM260 129h1v1h-1zM267 128h1v1h-1zM270 128h1v1h-1zM261 129h1v1h-1z" fill="#000" fill-opacity="0.55"/>
<rect x="256.5" y="64.9" width="17.7" height="33.6" fill="none" stroke="#333" stroke-width="0.8"/>
<line x1="256.5" y1="82.5" x2="274.2" y2="82.5" stroke="#333" stroke-width="0.8"/>
<text x="278" y="77" font-size="6.4" fill="#262626" textLength="30.5" lengthAdjust="spacingAndGlyphs">CD80 high</text>
<text x="278" y="92.4" font-size="6.4" fill="#262626" textLength="27.5" lengthAdjust="spacingAndGlyphs">CD80 low</text>
<line x1="382.5" y1="19" x2="382.5" y2="129.4" stroke="#1a1a1a" stroke-width="1"/>
<path d="M379.5 21.5H382.5M379.5 48.5H382.5M379.5 75.5H382.5M379.5 102.5H382.5M379.5 128.5H382.5 " stroke="#1a1a1a" stroke-width="0.9" fill="none"/>
<text x="376.4" y="24.31" font-size="6.7" text-anchor="end" fill="#262626">150</text>
<text x="376.4" y="51.06" font-size="6.7" text-anchor="end" fill="#262626">100</text>
<text x="376.4" y="77.81" font-size="6.7" text-anchor="end" fill="#262626">50</text>
<text x="376.4" y="104.56" font-size="6.7" text-anchor="end" fill="#262626">0</text>
<text x="376.4" y="131.31" font-size="6.7" text-anchor="end" fill="#262626">−50</text>
<line x1="382.2" y1="102.5" x2="499.2" y2="102.5" stroke="#a8a8a8" stroke-width="0.8"/>
<line x1="381.7" y1="128.5" x2="499.2" y2="128.5" stroke="#1a1a1a" stroke-width="1"/>
<path d="M411.5 128.5v2.4M469.5 128.5v2.4 " stroke="#1a1a1a" stroke-width="0.9" fill="none"/>
<text x="411.2" y="141.9" font-size="6.6" text-anchor="middle" fill="#262626" textLength="47" lengthAdjust="spacingAndGlyphs">M1 (CD80 high)</text>
<text x="469.6" y="141.9" font-size="6.6" text-anchor="middle" fill="#262626" textLength="43.4" lengthAdjust="spacingAndGlyphs">M2 (CD80 low)</text>
<text transform="translate(359.3 74.3) rotate(-90)" font-size="8.8" text-anchor="middle" fill="#1a1a1a" textLength="65" lengthAdjust="spacingAndGlyphs" stroke="#1a1a1a" stroke-width="0.2">% among CD14+ CD11b</text>
<circle cx="401.7" cy="48.8" r="1.75" fill="#aa1030"/>
<circle cx="406.4" cy="51.5" r="1.75" fill="#aa1030"/>
<circle cx="411.6" cy="51.5" r="1.75" fill="#aa1030"/>
<circle cx="416.6" cy="51.5" r="1.75" fill="#aa1030"/>
<circle cx="421.8" cy="50" r="1.75" fill="#aa1030"/>
<circle cx="411.8" cy="63.3" r="1.75" fill="#aa1030"/>
<circle cx="411.8" cy="71.4" r="1.75" fill="#aa1030"/>
<circle cx="399.3" cy="72.8" r="1.75" fill="#aa1030"/>
<circle cx="404.3" cy="75.2" r="1.75" fill="#aa1030"/>
<circle cx="409.3" cy="76.3" r="1.75" fill="#aa1030"/>
<circle cx="414.4" cy="76.8" r="1.75" fill="#aa1030"/>
<circle cx="419.4" cy="75.6" r="1.75" fill="#aa1030"/>
<circle cx="424.2" cy="73.2" r="1.75" fill="#aa1030"/>
<circle cx="411.8" cy="86.3" r="1.75" fill="#aa1030"/>
<circle cx="469.7" cy="66.7" r="1.6" fill="#37a436"/>
<circle cx="460.2" cy="77.5" r="1.6" fill="#37a436"/>
<circle cx="464.9" cy="79.4" r="1.6" fill="#37a436"/>
<circle cx="469.9" cy="81.4" r="1.6" fill="#37a436"/>
<circle cx="474.7" cy="80.9" r="1.6" fill="#37a436"/>
<circle cx="479.7" cy="78" r="1.6" fill="#37a436"/>
<circle cx="465" cy="88" r="1.6" fill="#37a436"/>
<circle cx="474.7" cy="87" r="1.6" fill="#37a436"/>
<circle cx="469.9" cy="91.7" r="1.6" fill="#37a436"/>
<circle cx="460.2" cy="100.5" r="1.6" fill="#37a436"/>
<circle cx="465" cy="100.8" r="1.6" fill="#37a436"/>
<circle cx="469.9" cy="102.2" r="1.6" fill="#37a436"/>
<circle cx="474.9" cy="102" r="1.6" fill="#37a436"/>
<circle cx="479.9" cy="100.5" r="1.6" fill="#37a436"/>
<line x1="392.2" y1="65.5" x2="431.2" y2="65.5" stroke="#333" stroke-width="0.9"/>
<line x1="450.3" y1="88.5" x2="489.3" y2="88.5" stroke="#333" stroke-width="0.9"/>
<path d="M411.5 43.5V34.5H470.5V60.5 " stroke="#444" stroke-width="0.9" fill="none"/>
<text x="428.7" y="32.6" font-size="6.6" fill="#262626" textLength="24.2" lengthAdjust="spacingAndGlyphs"><tspan font-style="italic">P</tspan> = .004</text>
<line x1="52.5" y1="188" x2="52.5" y2="298.1" stroke="#1a1a1a" stroke-width="1"/>
<path d="M50.5 190.5H52.5M50.5 217.5H52.5M50.5 244.5H52.5M50.5 271.5H52.5M50.5 298.5H52.5 " stroke="#1a1a1a" stroke-width="0.9" fill="none"/>
<text x="46.8" y="192.69" font-size="6.7" text-anchor="end" fill="#262626">150</text>
<text x="46.8" y="219.66" font-size="6.7" text-anchor="end" fill="#262626">100</text>
<text x="46.8" y="246.64" font-size="6.7" text-anchor="end" fill="#262626">50</text>
<text x="46.8" y="273.61" font-size="6.7" text-anchor="end" fill="#262626">0</text>
<text x="46.8" y="300.59" font-size="6.7" text-anchor="end" fill="#262626">−50</text>
<line x1="52.9" y1="271.5" x2="168" y2="271.5" stroke="#a8a8a8" stroke-width="0.8"/>
<line x1="52.4" y1="297.5" x2="168" y2="297.5" stroke="#1a1a1a" stroke-width="1"/>
<path d="M82.5 297.5v2.4M140.5 297.5v2.4 " stroke="#1a1a1a" stroke-width="0.9" fill="none"/>
<text x="82" y="310" font-size="6.6" text-anchor="middle" fill="#262626" textLength="46" lengthAdjust="spacingAndGlyphs">M1 (CD163 low)</text>
<text x="140.5" y="310" font-size="6.6" text-anchor="middle" fill="#262626" textLength="50" lengthAdjust="spacingAndGlyphs">M2 (CD163 high)</text>
<text transform="translate(29.3 243) rotate(-90)" font-size="8.8" text-anchor="middle" fill="#1a1a1a" textLength="65" lengthAdjust="spacingAndGlyphs" stroke="#1a1a1a" stroke-width="0.2">% among CD14+ CD11b</text>
<text x="142.3" y="205.6" font-size="6.4" text-anchor="middle" fill="#262626">ns</text>
<circle cx="82.3" cy="226.5" r="1.6" fill="#37a436"/>
<circle cx="74.5" cy="237.4" r="1.6" fill="#37a436"/>
<circle cx="79.5" cy="239.2" r="1.6" fill="#37a436"/>
<circle cx="84.6" cy="239" r="1.6" fill="#37a436"/>
<circle cx="84.6" cy="241.5" r="1.6" fill="#37a436"/>
<circle cx="89.7" cy="237.6" r="1.6" fill="#37a436"/>
<circle cx="79.5" cy="245.5" r="1.6" fill="#37a436"/>
<circle cx="82.3" cy="253.5" r="1.6" fill="#37a436"/>
<circle cx="69.6" cy="266.9" r="1.6" fill="#37a436"/>
<circle cx="74.7" cy="267.6" r="1.6" fill="#37a436"/>
<circle cx="79.5" cy="270.4" r="1.6" fill="#37a436"/>
<circle cx="84.6" cy="269.9" r="1.6" fill="#37a436"/>
<circle cx="89.7" cy="267.6" r="1.6" fill="#37a436"/>
<circle cx="94.5" cy="266.2" r="1.6" fill="#37a436"/>
<circle cx="132.4" cy="218.9" r="1.75" fill="#aa1030"/>
<circle cx="137.7" cy="223.5" r="1.75" fill="#aa1030"/>
<circle cx="142.8" cy="223.5" r="1.75" fill="#aa1030"/>
<circle cx="148.1" cy="222.8" r="1.75" fill="#aa1030"/>
<circle cx="140.5" cy="238.5" r="1.75" fill="#aa1030"/>
<circle cx="137.7" cy="249.2" r="1.75" fill="#aa1030"/>
<circle cx="142.8" cy="251.2" r="1.75" fill="#aa1030"/>
<circle cx="130.8" cy="252.4" r="1.75" fill="#aa1030"/>
<circle cx="135.4" cy="254.7" r="1.75" fill="#aa1030"/>
<circle cx="140" cy="256.5" r="1.75" fill="#aa1030"/>
<circle cx="145.1" cy="256.1" r="1.75" fill="#aa1030"/>
<circle cx="150.4" cy="252.4" r="1.75" fill="#aa1030"/>
<circle cx="140.5" cy="264.6" r="1.75" fill="#aa1030"/>
<circle cx="140.5" cy="269.9" r="1.75" fill="#aa1030"/>
<line x1="62.7" y1="252.5" x2="101.9" y2="252.5" stroke="#333" stroke-width="0.9"/>
<line x1="120.4" y1="245.5" x2="159.6" y2="245.5" stroke="#333" stroke-width="0.9"/>
<line x1="228.5" y1="187" x2="228.5" y2="298.7" stroke="#1a1a1a" stroke-width="1"/>
<path d="M225.5 190.5H228.5M225.5 226.5H228.5M225.5 262.5H228.5M225.5 298.5H228.5 " stroke="#1a1a1a" stroke-width="0.9" fill="none"/>
<text x="221.8" y="192.42" font-size="6.7" text-anchor="end" fill="#262626">150</text>
<text x="221.8" y="228.48" font-size="6.7" text-anchor="end" fill="#262626">100</text>
<text x="221.8" y="264.55" font-size="6.7" text-anchor="end" fill="#262626">50</text>
<text x="221.8" y="300.61" font-size="6.7" text-anchor="end" fill="#262626">0</text>
<line x1="228" y1="298.5" x2="417.8" y2="298.5" stroke="#1a1a1a" stroke-width="1"/>
<path d="M228.5 298.5v2.4M291.5 298.5v2.4M353.5 298.5v2.4M416.5 298.5v2.4 " stroke="#1a1a1a" stroke-width="0.9" fill="none"/>
<text x="228.5" y="310" font-size="6.6" text-anchor="middle" fill="#262626">0</text>
<text x="291.15" y="310" font-size="6.6" text-anchor="middle" fill="#262626">5</text>
<text x="353.8" y="310" font-size="6.6" text-anchor="middle" fill="#262626">10</text>
<text x="416.45" y="310" font-size="6.6" text-anchor="middle" fill="#262626">15</text>
<text x="323.6" y="322.6" font-size="9.4" text-anchor="middle" fill="#1a1a1a" textLength="14.8" lengthAdjust="spacingAndGlyphs" stroke="#1a1a1a" stroke-width="0.25">years</text>
<text transform="translate(204.4 242.5) rotate(-90)" font-size="8.8" text-anchor="middle" fill="#1a1a1a" textLength="43" lengthAdjust="spacingAndGlyphs" stroke="#1a1a1a" stroke-width="0.2">Percent survival</text>
<path d="M228.5 226.5H234.5V234.5H240.5V242.5H268.5V250.5H315.5V258.5H322.5V266.5H334.5V274.5H356.5V282.5H362.5V290.5H405.5V298.5 " stroke="#2f9a2f" stroke-width="1.1" fill="none"/>
<path d="M228.5 226.5H237.5V240.5H248.5V254.5H260.5V269.5H269.5V283.5H326.5V298.5 " stroke="#b3163f" stroke-width="1.3" fill="none"/>
<line x1="338.8" y1="202.5" x2="350.8" y2="202.5" stroke="#b3163f" stroke-width="1.3"/>
<line x1="344.5" y1="200.8" x2="344.5" y2="202.5" stroke="#b3163f" stroke-width="0.8"/>
<line x1="338.8" y1="212.5" x2="350.8" y2="212.5" stroke="#2f9a2f" stroke-width="1.1"/>
<line x1="344.5" y1="210.8" x2="344.5" y2="212.5" stroke="#2f9a2f" stroke-width="0.8"/>
<text x="354" y="204.9" font-size="6.8" fill="#262626" textLength="35" lengthAdjust="spacingAndGlyphs">CD163 high</text>
<text x="354" y="214.9" font-size="6.8" fill="#262626" textLength="33" lengthAdjust="spacingAndGlyphs">CD163 low</text>
<rect x="19" y="377" width="14" height="16" fill="#3aa832"/>
<rect x="33" y="377" width="13" height="16" fill="#3aa832"/>
<rect x="46" y="377" width="13" height="16" fill="#2e9c32"/>
<rect x="59" y="377" width="14" height="16" fill="#248e33"/>
<rect x="73" y="377" width="13" height="16" fill="#2e9c32"/>
<rect x="86" y="377" width="13" height="16" fill="#248e33"/>
<rect x="99" y="377" width="14" height="16" fill="#f4e21a"/>
<rect x="113" y="377" width="13" height="16" fill="#5bb43a"/>
<rect x="126" y="377" width="13" height="16" fill="#5bb43a"/>
<rect x="139" y="377" width="14" height="16" fill="#e4da28"/>
<rect x="153" y="377" width="13" height="16" fill="#b11214"/>
<rect x="166" y="377" width="13" height="16" fill="#e22a1a"/>
<rect x="179" y="377" width="14" height="16" fill="#ef7a1d"/>
<rect x="193" y="377" width="13" height="16" fill="#e22a1a"/>
<rect x="19" y="393" width="14" height="17" fill="#2e9c32"/>
<rect x="33" y="393" width="13" height="17" fill="#2e9c32"/>
<rect x="46" y="393" width="13" height="17" fill="#2e9c32"/>
<rect x="59" y="393" width="14" height="17" fill="#2e9c32"/>
<rect x="73" y="393" width="13" height="17" fill="#2e9c32"/>
<rect x="86" y="393" width="13" height="17" fill="#2e9c32"/>
<rect x="99" y="393" width="14" height="17" fill="#f4e21a"/>
<rect x="113" y="393" width="13" height="17" fill="#86bd33"/>
<rect x="126" y="393" width="13" height="17" fill="#5bb43a"/>
<rect x="139" y="393" width="14" height="17" fill="#e4da28"/>
<rect x="153" y="393" width="13" height="17" fill="#b11214"/>
<rect x="166" y="393" width="13" height="17" fill="#cb1818"/>
<rect x="179" y="393" width="14" height="17" fill="#e22a1a"/>
<rect x="193" y="393" width="13" height="17" fill="#b11214"/>
<rect x="19" y="410" width="14" height="16" fill="#248e33"/>
<rect x="33" y="410" width="13" height="16" fill="#248e33"/>
<rect x="46" y="410" width="13" height="16" fill="#1b7a3e"/>
<rect x="59" y="410" width="14" height="16" fill="#248e33"/>
<rect x="73" y="410" width="13" height="16" fill="#2e9c32"/>
<rect x="86" y="410" width="13" height="16" fill="#2e9c32"/>
<rect x="99" y="410" width="14" height="16" fill="#d8d620"/>
<rect x="113" y="410" width="13" height="16" fill="#5bb43a"/>
<rect x="126" y="410" width="13" height="16" fill="#5bb43a"/>
<rect x="139" y="410" width="14" height="16" fill="#f4e21a"/>
<rect x="153" y="410" width="13" height="16" fill="#b11214"/>
<rect x="166" y="410" width="13" height="16" fill="#e8531e"/>
<rect x="179" y="410" width="14" height="16" fill="#e8531e"/>
<rect x="193" y="410" width="13" height="16" fill="#e22a1a"/>
<rect x="19" y="426" width="14" height="17" fill="#248e33"/>
<rect x="33" y="426" width="13" height="17" fill="#248e33"/>
<rect x="46" y="426" width="13" height="17" fill="#248e33"/>
<rect x="59" y="426" width="14" height="17" fill="#248e33"/>
<rect x="73" y="426" width="13" height="17" fill="#2e9c32"/>
<rect x="86" y="426" width="13" height="17" fill="#2e9c32"/>
<rect x="99" y="426" width="14" height="17" fill="#aac72b"/>
<rect x="113" y="426" width="13" height="17" fill="#5bb43a"/>
<rect x="126" y="426" width="13" height="17" fill="#5bb43a"/>
<rect x="139" y="426" width="14" height="17" fill="#f2a41f"/>
<rect x="153" y="426" width="13" height="17" fill="#cb1818"/>
<rect x="166" y="426" width="13" height="17" fill="#e22a1a"/>
<rect x="179" y="426" width="14" height="17" fill="#e22a1a"/>
<rect x="193" y="426" width="13" height="17" fill="#e8531e"/>
<rect x="19" y="443" width="14" height="16" fill="#248e33"/>
<rect x="33" y="443" width="13" height="16" fill="#1b7a3e"/>
<rect x="46" y="443" width="13" height="16" fill="#248e33"/>
<rect x="59" y="443" width="14" height="16" fill="#3aa832"/>
<rect x="73" y="443" width="13" height="16" fill="#3aa832"/>
<rect x="86" y="443" width="13" height="16" fill="#248e33"/>
<rect x="99" y="443" width="14" height="16" fill="#86bd33"/>
<rect x="113" y="443" width="13" height="16" fill="#86bd33"/>
<rect x="126" y="443" width="13" height="16" fill="#5bb43a"/>
<rect x="139" y="443" width="14" height="16" fill="#e22a1a"/>
<rect x="153" y="443" width="13" height="16" fill="#cb1818"/>
<rect x="166" y="443" width="13" height="16" fill="#cb1818"/>
<rect x="179" y="443" width="14" height="16" fill="#e22a1a"/>
<rect x="193" y="443" width="13" height="16" fill="#e22a1a"/>
<rect x="18.9" y="376.6" width="187.5" height="1.8" fill="#000"/>
<rect x="18.9" y="458.6" width="187.5" height="1.8" fill="#000"/>
<path d="M26.5 376.5V373.5H39.5V376.5M33.5 373.5V371.5H46.5M53.5 376.5V374.5H39.5M66.5 376.5V373.5H79.5V376.5M93.5 376.5V373.5H86.5M73.5 373.5V371.5H86.5V373.5M40.5 371.5V370.5H73.5V371.5M56.5 370.5V340.5H138.5V339.5M117.5 354.5V343.5H159.5V350.5M106.5 376.5V354.5H126.5V373.5M120.5 376.5V373.5H133.5V376.5M147.5 376.5V350.5H171.5V355.5M160.5 376.5V355.5H183.5V361.5M173.5 376.5V361.5H193.5V365.5M186.5 376.5V365.5H200.5V376.5 " stroke="#8a8ab8" stroke-width="0.8" fill="none"/>
<text x="57.7" y="361" font-size="6.4" text-anchor="middle" fill="#262626">M2c</text>
<text x="116.5" y="351.9" font-size="6.4" text-anchor="middle" fill="#262626">M1</text>
<text x="175.4" y="353.5" font-size="6.4" text-anchor="middle" fill="#262626">M2b</text>
<text x="148.2" y="375.5" font-size="6.4" text-anchor="middle" fill="#262626">M2a</text>
<text transform="translate(29.3 463.4) rotate(-90)" font-size="6.6" text-anchor="end" fill="#262626">SIRPa</text>
<text transform="translate(56.2 463.4) rotate(-90)" font-size="6.6" text-anchor="end" fill="#262626">MerTK</text>
<text transform="translate(82.6 463.4) rotate(-90)" font-size="6.6" text-anchor="end" fill="#262626">CD163</text>
<text transform="translate(108.9 463.4) rotate(-90)" font-size="6.6" text-anchor="end" fill="#262626">HLA-DR</text>
<text transform="translate(135.5 463.4) rotate(-90)" font-size="6.6" text-anchor="end" fill="#262626">CD86</text>
<text transform="translate(162 463.4) rotate(-90)" font-size="6.6" text-anchor="end" fill="#262626">CD32</text>
<text transform="translate(188.1 463.4) rotate(-90)" font-size="6.6" text-anchor="end" fill="#262626">PD-1</text>
<text x="36.9" y="496.7" font-size="6.6" text-anchor="middle" fill="#262626">CD80</text>
<text x="63.3" y="496.7" font-size="6.6" text-anchor="middle" fill="#262626">CD14</text>
<text x="89.8" y="496.7" font-size="6.6" text-anchor="middle" fill="#262626">CD206</text>
<text x="116.5" y="496.7" font-size="6.6" text-anchor="middle" fill="#262626">CD64</text>
<text x="143.5" y="496.7" font-size="6.6" text-anchor="middle" fill="#262626">CD200R</text>
<text x="170" y="496.7" font-size="6.6" text-anchor="middle" fill="#262626">PD-L1</text>
<text x="197" y="496.7" font-size="6.6" text-anchor="middle" fill="#262626">CD16</text>
<rect x="84.1" y="502" width="12.7" height="5.8" fill="#1f9e5e"/>
<rect x="115" y="502.1" width="12.8" height="5.7" fill="#e8430f"/>
<text x="100.2" y="506.9" font-size="6.6" fill="#262626">high</text>
<text x="130.8" y="506.9" font-size="6.6" fill="#262626">low</text>
<line x1="259.5" y1="364.8" x2="259.5" y2="460" stroke="#1a1a1a" stroke-width="1"/>
<path d="M256.5 459.5H259.5M256.5 440.5H259.5M256.5 422.5H259.5M256.5 403.5H259.5M256.5 385.5H259.5M256.5 366.5H259.5 " stroke="#1a1a1a" stroke-width="0.9" fill="none"/>
<text x="254" y="461.8" font-size="6.4" text-anchor="end" fill="#262626">0</text>
<text x="254" y="443.22" font-size="6.4" text-anchor="end" fill="#262626">2</text>
<text x="254" y="424.64" font-size="6.4" text-anchor="end" fill="#262626">4</text>
<text x="254" y="406.06" font-size="6.4" text-anchor="end" fill="#262626">6</text>
<text x="254" y="387.48" font-size="6.4" text-anchor="end" fill="#262626">8</text>
<text x="254" y="368.9" font-size="6.4" text-anchor="end" fill="#262626">10</text>
<rect x="262.6" y="429.77" width="5.3" height="29.73" fill="#a9b57c"/>
<rect x="267.9" y="453.18" width="5.4" height="6.32" fill="#2aa5df"/>
<path d="M265.25 429.77V427.91M263.8 427.91H266.7" stroke="#a9b57c" stroke-width="0.8" fill="none"/>
<path d="M270.6 453.18V451.14M269.2 451.14H272" stroke="#2aa5df" stroke-width="0.8" fill="none"/>
<text transform="translate(270.6 464.4) rotate(-90)" font-size="6.9" text-anchor="end" fill="#262626">TNF-α</text>
<rect x="278.45" y="419.74" width="5.3" height="39.76" fill="#a9b57c"/>
<rect x="283.75" y="447.42" width="5.4" height="12.08" fill="#2aa5df"/>
<path d="M281.1 419.74V416.77M279.65 416.77H282.55" stroke="#a9b57c" stroke-width="0.8" fill="none"/>
<path d="M286.45 447.42V443.71M285.05 443.71H287.85" stroke="#2aa5df" stroke-width="0.8" fill="none"/>
<text transform="translate(286.45 464.4) rotate(-90)" font-size="6.9" text-anchor="end" fill="#262626">Eotaxin</text>
<rect x="294.3" y="390.38" width="5.3" height="69.12" fill="#a9b57c"/>
<rect x="299.6" y="407.66" width="5.4" height="51.84" fill="#2aa5df"/>
<path d="M296.95 390.38V386.11M295.5 386.11H298.4" stroke="#a9b57c" stroke-width="0.8" fill="none"/>
<path d="M302.3 407.66V404.69M300.9 404.69H303.7" stroke="#2aa5df" stroke-width="0.8" fill="none"/>
<text transform="translate(302.3 464.4) rotate(-90)" font-size="6.9" text-anchor="end" fill="#262626">Rantes</text>
<rect x="310.15" y="399.12" width="5.3" height="60.38" fill="#a9b57c"/>
<rect x="315.45" y="419.74" width="5.4" height="39.76" fill="#2aa5df"/>
<path d="M312.8 399.12V392.61M311.35 392.61H314.25" stroke="#a9b57c" stroke-width="0.8" fill="none"/>
<path d="M318.15 419.74V413.98M316.75 413.98H319.55" stroke="#2aa5df" stroke-width="0.8" fill="none"/>
<text transform="translate(318.15 464.4) rotate(-90)" font-size="6.9" text-anchor="end" fill="#262626">TARC</text>
<rect x="326" y="431.63" width="5.3" height="27.87" fill="#a9b57c"/>
<rect x="331.3" y="409.33" width="5.4" height="50.17" fill="#2aa5df"/>
<path d="M328.65 431.63V427.91M327.2 427.91H330.1" stroke="#a9b57c" stroke-width="0.8" fill="none"/>
<path d="M334 409.33V406.55M332.6 406.55H335.4" stroke="#2aa5df" stroke-width="0.8" fill="none"/>
<text transform="translate(334 464.4) rotate(-90)" font-size="6.9" text-anchor="end" fill="#262626">IL-8</text>
<rect x="341.85" y="422.34" width="5.3" height="37.16" fill="#a9b57c"/>
<path d="M344.5 422.34V421.88M343.05 421.88H345.95" stroke="#a9b57c" stroke-width="0.8" fill="none"/>
<text transform="translate(349.85 464.4) rotate(-90)" font-size="6.9" text-anchor="end" fill="#262626">IL-2</text>
<rect x="357.7" y="431.63" width="5.3" height="27.87" fill="#a9b57c"/>
<rect x="363" y="458.76" width="5.4" height="0.74" fill="#2aa5df"/>
<path d="M360.35 431.63V431.17M358.9 431.17H361.8" stroke="#a9b57c" stroke-width="0.8" fill="none"/>
<path d="M365.7 458.76V456.71M364.3 456.71H367.1" stroke="#2aa5df" stroke-width="0.8" fill="none"/>
<text transform="translate(365.7 464.4) rotate(-90)" font-size="6.9" text-anchor="end" fill="#262626">IL-6</text>
<rect x="373.55" y="432.56" width="5.3" height="26.94" fill="#a9b57c"/>
<rect x="378.85" y="456.71" width="5.4" height="2.79" fill="#2aa5df"/>
<path d="M376.2 432.56V426.99M374.75 426.99H377.65" stroke="#a9b57c" stroke-width="0.8" fill="none"/>
<path d="M381.55 456.71V455.32M380.15 455.32H382.95" stroke="#2aa5df" stroke-width="0.8" fill="none"/>
<text transform="translate(381.55 464.4) rotate(-90)" font-size="6.9" text-anchor="end" fill="#262626">IL-10</text>
<rect x="389.4" y="424.94" width="5.3" height="34.56" fill="#a9b57c"/>
<rect x="394.7" y="452.35" width="5.4" height="7.15" fill="#2aa5df"/>
<path d="M392.05 424.94V422.06M390.6 422.06H393.5" stroke="#a9b57c" stroke-width="0.8" fill="none"/>
<path d="M397.4 452.35V449.28M396 449.28H398.8" stroke="#2aa5df" stroke-width="0.8" fill="none"/>
<text transform="translate(397.4 464.4) rotate(-90)" font-size="6.9" text-anchor="end" fill="#262626">VEGF</text>
<rect x="405.25" y="437.95" width="5.3" height="21.55" fill="#a9b57c"/>
<rect x="410.55" y="458.11" width="5.4" height="1.39" fill="#2aa5df"/>
<path d="M407.9 437.95V436.74M406.45 436.74H409.35" stroke="#a9b57c" stroke-width="0.8" fill="none"/>
<path d="M413.25 458.11V457.64M411.85 457.64H414.65" stroke="#2aa5df" stroke-width="0.8" fill="none"/>
<text transform="translate(413.25 464.4) rotate(-90)" font-size="6.9" text-anchor="end" fill="#262626">GM CSF</text>
<rect x="421.1" y="439.06" width="5.3" height="20.44" fill="#a9b57c"/>
<rect x="426.4" y="450.21" width="5.4" height="9.29" fill="#2aa5df"/>
<path d="M423.75 439.06V437.67M422.3 437.67H425.2" stroke="#a9b57c" stroke-width="0.8" fill="none"/>
<path d="M429.1 450.21V448.82M427.7 448.82H430.5" stroke="#2aa5df" stroke-width="0.8" fill="none"/>
<text transform="translate(429.1 464.4) rotate(-90)" font-size="6.9" text-anchor="end" fill="#262626">IL-1a</text>
<rect x="436.95" y="433.86" width="5.3" height="25.64" fill="#a9b57c"/>
<rect x="442.25" y="456.71" width="5.4" height="2.79" fill="#2aa5df"/>
<path d="M439.6 433.86V433.02M438.15 433.02H441.05" stroke="#a9b57c" stroke-width="0.8" fill="none"/>
<path d="M444.95 456.71V455.32M443.55 455.32H446.35" stroke="#2aa5df" stroke-width="0.8" fill="none"/>
<text transform="translate(444.95 464.4) rotate(-90)" font-size="6.9" text-anchor="end" fill="#262626">IL-12p70</text>
<rect x="452.8" y="405.06" width="5.3" height="54.44" fill="#a9b57c"/>
<rect x="458.1" y="438.69" width="5.4" height="20.81" fill="#2aa5df"/>
<path d="M455.45 405.06V403.76M454 403.76H456.9" stroke="#a9b57c" stroke-width="0.8" fill="none"/>
<path d="M460.8 438.69V436.27M459.4 436.27H462.2" stroke="#2aa5df" stroke-width="0.8" fill="none"/>
<text transform="translate(460.8 464.4) rotate(-90)" font-size="6.9" text-anchor="end" fill="#262626">bFGF</text>
<rect x="468.65" y="423.73" width="5.3" height="35.77" fill="#a9b57c"/>
<rect x="473.95" y="443.61" width="5.4" height="15.89" fill="#2aa5df"/>
<path d="M471.3 423.73V416.77M469.85 416.77H472.75" stroke="#a9b57c" stroke-width="0.8" fill="none"/>
<path d="M476.65 443.61V441.38M475.25 441.38H478.05" stroke="#2aa5df" stroke-width="0.8" fill="none"/>
<text transform="translate(476.65 464.4) rotate(-90)" font-size="6.9" text-anchor="end" fill="#262626">IL-23p40</text>
<rect x="484.5" y="432.56" width="5.3" height="26.94" fill="#a9b57c"/>
<rect x="489.8" y="446.77" width="5.4" height="12.73" fill="#2aa5df"/>
<path d="M487.15 432.56V426.33M485.7 426.33H488.6" stroke="#a9b57c" stroke-width="0.8" fill="none"/>
<path d="M492.5 446.77V445.1M491.1 445.1H493.9" stroke="#2aa5df" stroke-width="0.8" fill="none"/>
<text transform="translate(492.5 464.4) rotate(-90)" font-size="6.9" text-anchor="end" fill="#262626">IFN-γ</text>
<line x1="259.1" y1="459.5" x2="496" y2="459.5" stroke="#1a1a1a" stroke-width="1"/>
<text x="334.4" y="404" font-size="8" text-anchor="middle" fill="#d42020">*</text>
<rect x="457.8" y="368.2" width="4.4" height="4.3" fill="#a9b57c"/>
<rect x="457.8" y="376.4" width="4.4" height="4.3" fill="#2aa5df"/>
<text x="465.6" y="372.5" font-size="6.3" fill="#262626" textLength="17.5" lengthAdjust="spacingAndGlyphs">serum</text>
<text x="465.6" y="380.7" font-size="6.3" fill="#262626" textLength="33.4" lengthAdjust="spacingAndGlyphs">supernatant</text>
<text x="378.7" y="502.5" font-size="8" text-anchor="middle" font-weight="bold" fill="#111" textLength="26.6" lengthAdjust="spacingAndGlyphs">LN (conc)</text>
<text transform="translate(240.2 413.2) rotate(-90)" font-size="8" text-anchor="middle" font-weight="bold" fill="#111" textLength="28" lengthAdjust="spacingAndGlyphs">ln (pg/ml)</text>
<line x1="46.5" y1="597.7" x2="46.5" y2="669" stroke="#1a1a1a" stroke-width="1"/>
<path d="M43.5 668.5H46.5M43.5 651.5H46.5M43.5 634.5H46.5M43.5 617.5H46.5M43.5 600.5H46.5 " stroke="#1a1a1a" stroke-width="0.9" fill="none"/>
<text x="40" y="670.88" font-size="6.6" text-anchor="end" fill="#262626">0</text>
<text x="40" y="653.84" font-size="6.6" text-anchor="end" fill="#262626">20</text>
<text x="40" y="636.8" font-size="6.6" text-anchor="end" fill="#262626">40</text>
<text x="40" y="619.76" font-size="6.6" text-anchor="end" fill="#262626">60</text>
<text x="40" y="602.72" font-size="6.6" text-anchor="end" fill="#262626">80</text>
<path d="M58.6 621.64V616.36M55.8 616.36H61.4" stroke="#b4b4b8" stroke-width="0.9" fill="none"/>
<rect x="53.25" y="622.04" width="10.7" height="46.46" fill="#c7c7cb" stroke="#b8b8bc" stroke-width="0.8"/>
<path d="M76.7 617.55V614.31M73.9 614.31H79.5" stroke="#b4b4b8" stroke-width="0.9" fill="none"/>
<rect x="71.35" y="617.95" width="10.7" height="50.55" fill="#c7c7cb" stroke="#b8b8bc" stroke-width="0.8"/>
<path d="M95 607.07V602.64M92.2 602.64H97.8" stroke="#b4b4b8" stroke-width="0.9" fill="none"/>
<rect x="89.65" y="607.47" width="10.7" height="61.03" fill="#c7c7cb" stroke="#b8b8bc" stroke-width="0.8"/>
<path d="M125.4 622.83V616.36M122.6 616.36H128.2" stroke="#c96f1d" stroke-width="0.9" fill="none"/>
<rect x="120.05" y="623.23" width="10.7" height="45.27" fill="#c96f1d" stroke="#a65c16" stroke-width="0.8"/>
<path d="M143.3 621.64V618.23M140.5 618.23H146.1" stroke="#c96f1d" stroke-width="0.9" fill="none"/>
<rect x="137.95" y="622.04" width="10.7" height="46.46" fill="#c96f1d" stroke="#a65c16" stroke-width="0.8"/>
<path d="M160.9 621.98V615.85M158.1 615.85H163.7" stroke="#c96f1d" stroke-width="0.9" fill="none"/>
<rect x="155.55" y="622.38" width="10.7" height="46.12" fill="#c96f1d" stroke="#a65c16" stroke-width="0.8"/>
<line x1="45.8" y1="668.5" x2="173.3" y2="668.5" stroke="#1a1a1a" stroke-width="1"/>
<path d="M58.5 668.5v2.4M76.5 668.5v2.4M95.5 668.5v2.4M125.5 668.5v2.4M143.5 668.5v2.4M160.5 668.5v2.4 " stroke="#1a1a1a" stroke-width="0.9" fill="none"/>
<text transform="translate(60.6 677.4) rotate(-45)" font-size="6.6" text-anchor="end" fill="#262626">Media alone</text>
<text transform="translate(78.7 677.4) rotate(-45)" font-size="6.6" text-anchor="end" fill="#262626">IgG1</text>
<text transform="translate(97 677.4) rotate(-45)" font-size="6.6" text-anchor="end" fill="#262626">αCCR4</text>
<text transform="translate(127.4 677.4) rotate(-45)" font-size="6.6" text-anchor="end" fill="#262626">Media alone</text>
<text transform="translate(145.3 677.4) rotate(-45)" font-size="6.6" text-anchor="end" fill="#262626">IgG1</text>
<text transform="translate(162.9 677.4) rotate(-45)" font-size="6.6" text-anchor="end" fill="#262626">αCCR4</text>
<text x="76.8" y="714.8" font-size="8.8" text-anchor="middle" font-weight="bold" fill="#111" textLength="32" lengthAdjust="spacingAndGlyphs">Sézary cells</text>
<text x="143" y="714.8" font-size="8.8" text-anchor="middle" font-weight="bold" fill="#111" textLength="39" lengthAdjust="spacingAndGlyphs">Normal T cells</text>
<text transform="translate(26.2 632.7) rotate(-90)" font-size="8.8" text-anchor="middle" font-weight="bold" fill="#111" textLength="49.3" lengthAdjust="spacingAndGlyphs">% of phagocytosis</text>
<path d="M94.5 547.5V537.5H161.5V573.5 " stroke="#555" stroke-width="0.85" fill="none"/>
<text x="127.5" y="536.9" font-size="7" text-anchor="middle" fill="#262626" letter-spacing="-0.5">****</text>
<path d="M76.5 561.5V551.5H142.5V569.5 " stroke="#555" stroke-width="0.85" fill="none"/>
<text x="109.5" y="548.6" font-size="6.4" text-anchor="middle" fill="#262626">ns</text>
<path d="M58.5 575.5V565.5H124.5V575.5 " stroke="#555" stroke-width="0.85" fill="none"/>
<text x="91.2" y="563.3" font-size="6.4" text-anchor="middle" fill="#262626">ns</text>
<path d="M58.5 590.5V580.5H94.5V584.5 " stroke="#555" stroke-width="0.85" fill="none"/>
<text x="76.5" y="580.3" font-size="7" text-anchor="middle" fill="#262626" letter-spacing="-0.5">****</text>
<path d="M124.5 590.5V580.5H161.5V584.5 " stroke="#555" stroke-width="0.85" fill="none"/>
<text x="142.7" y="577.7" font-size="6.4" text-anchor="middle" fill="#262626">ns</text>
<path d="M58.5 612.5V594.5H74.5V609.5 " stroke="#555" stroke-width="0.85" fill="none"/>
<text x="66.6" y="592.4" font-size="6.4" text-anchor="middle" fill="#262626">ns</text>
<path d="M78.5 609.5V594.5H94.5V598.5 " stroke="#555" stroke-width="0.85" fill="none"/>
<text x="86.5" y="594.7" font-size="7" text-anchor="middle" fill="#262626" letter-spacing="-0.5">***</text>
<path d="M124.5 611.5V594.5H141.5V614.5 " stroke="#555" stroke-width="0.85" fill="none"/>
<text x="132.9" y="592.5" font-size="6.4" text-anchor="middle" fill="#262626">ns</text>
<path d="M144.5 614.5V594.5H161.5V611.5 " stroke="#555" stroke-width="0.85" fill="none"/>
<text x="152.5" y="592.5" font-size="6.4" text-anchor="middle" fill="#262626">ns</text>
<line x1="228.5" y1="597.7" x2="228.5" y2="668.8" stroke="#1a1a1a" stroke-width="1"/>
<path d="M225.5 668.5H228.5M225.5 654.5H228.5M225.5 641.5H228.5M225.5 627.5H228.5M225.5 614.5H228.5M225.5 600.5H228.5 " stroke="#1a1a1a" stroke-width="0.9" fill="none"/>
<text x="222.4" y="670.68" font-size="6.6" text-anchor="end" fill="#262626">0</text>
<text x="222.4" y="657.12" font-size="6.6" text-anchor="end" fill="#262626">20</text>
<text x="222.4" y="643.56" font-size="6.6" text-anchor="end" fill="#262626">40</text>
<text x="222.4" y="630" font-size="6.6" text-anchor="end" fill="#262626">60</text>
<text x="222.4" y="616.44" font-size="6.6" text-anchor="end" fill="#262626">80</text>
<text x="222.4" y="602.88" font-size="6.6" text-anchor="end" fill="#262626">100</text>
<path d="M237.5 630.87V624.23M235 624.23H240" stroke="#b4b4b8" stroke-width="0.9" fill="none"/>
<rect x="233.25" y="631.27" width="8.5" height="37.03" fill="#c7c7cb" stroke="#b8b8bc" stroke-width="0.8"/>
<path d="M251.6 619.89V614.47M249.1 614.47H254.1" stroke="#b4b4b8" stroke-width="0.9" fill="none"/>
<rect x="247.35" y="620.29" width="8.5" height="48.01" fill="#c7c7cb" stroke="#b8b8bc" stroke-width="0.8"/>
<path d="M265.9 622.26V616.09M263.4 616.09H268.4" stroke="#b4b4b8" stroke-width="0.9" fill="none"/>
<rect x="261.65" y="622.66" width="8.5" height="45.64" fill="#c7c7cb" stroke="#b8b8bc" stroke-width="0.8"/>
<path d="M279.9 613.52V609.11M277.4 609.11H282.4" stroke="#b4b4b8" stroke-width="0.9" fill="none"/>
<rect x="275.65" y="613.92" width="8.5" height="54.38" fill="#c7c7cb" stroke="#b8b8bc" stroke-width="0.8"/>
<path d="M303.3 631.48V624.91M300.8 624.91H305.8" stroke="#c96f1d" stroke-width="0.9" fill="none"/>
<rect x="299.05" y="631.88" width="8.5" height="36.42" fill="#c96f1d" stroke="#a65c16" stroke-width="0.8"/>
<path d="M317.4 626.06V618.81M314.9 618.81H319.9" stroke="#c96f1d" stroke-width="0.9" fill="none"/>
<rect x="313.15" y="626.46" width="8.5" height="41.84" fill="#c96f1d" stroke="#a65c16" stroke-width="0.8"/>
<path d="M331.8 631.01V623.89M329.3 623.89H334.3" stroke="#c96f1d" stroke-width="0.9" fill="none"/>
<rect x="327.55" y="631.41" width="8.5" height="36.89" fill="#c96f1d" stroke="#a65c16" stroke-width="0.8"/>
<path d="M345.8 624.91V618.13M343.3 618.13H348.3" stroke="#c96f1d" stroke-width="0.9" fill="none"/>
<rect x="341.55" y="625.31" width="8.5" height="42.99" fill="#c96f1d" stroke="#a65c16" stroke-width="0.8"/>
<line x1="228.1" y1="668.5" x2="352" y2="668.5" stroke="#1a1a1a" stroke-width="1"/>
<path d="M237.5 668.5v2.4M251.5 668.5v2.4M265.5 668.5v2.4M279.5 668.5v2.4M303.5 668.5v2.4M317.5 668.5v2.4M331.5 668.5v2.4M345.5 668.5v2.4 " stroke="#1a1a1a" stroke-width="0.9" fill="none"/>
<text transform="translate(239.5 678.6) rotate(-45)" font-size="6.8" text-anchor="end" fill="#262626">No Tx</text>
<text transform="translate(253.6 678.6) rotate(-45)" font-size="6.8" text-anchor="end" fill="#262626">IFN-α</text>
<text transform="translate(267.9 678.6) rotate(-45)" font-size="6.8" text-anchor="end" fill="#262626">αCCR4</text>
<text transform="translate(281.9 678.6) rotate(-45)" font-size="6.8" text-anchor="end" fill="#262626">αCCR4+IFNα</text>
<text transform="translate(305.3 678.6) rotate(-45)" font-size="6.8" text-anchor="end" fill="#262626">No Tx</text>
<text transform="translate(319.4 678.6) rotate(-45)" font-size="6.8" text-anchor="end" fill="#262626">IFN-α</text>
<text transform="translate(333.8 678.6) rotate(-45)" font-size="6.8" text-anchor="end" fill="#262626">αCCR4</text>
<text transform="translate(347.8 678.6) rotate(-45)" font-size="6.8" text-anchor="end" fill="#262626">αCCR4+IFNα</text>
<text x="258.6" y="718.6" font-size="8.8" text-anchor="middle" font-weight="bold" fill="#111" textLength="32" lengthAdjust="spacingAndGlyphs">Sézary cells</text>
<text x="324.5" y="718.6" font-size="8.8" text-anchor="middle" font-weight="bold" fill="#111" textLength="38.7" lengthAdjust="spacingAndGlyphs">Normal T cells</text>
<text transform="translate(205 633.3) rotate(-90)" font-size="8.8" text-anchor="middle" font-weight="bold" fill="#111" textLength="49.3" lengthAdjust="spacingAndGlyphs">% of phagocytosis</text>
<path d="M237.5 567.5V543.5H279.5V553.5 " stroke="#555" stroke-width="0.85" fill="none"/>
<text x="258.5" y="543.6" font-size="7" text-anchor="middle" fill="#262626" letter-spacing="-0.5">****</text>
<path d="M251.5 561.5V557.5H279.5V590.5 " stroke="#555" stroke-width="0.85" fill="none"/>
<text x="265.7" y="554.9" font-size="6.4" text-anchor="middle" fill="#262626">ns</text>
<path d="M237.5 590.5V571.5H265.5V575.5 " stroke="#555" stroke-width="0.85" fill="none"/>
<text x="251.7" y="571.9" font-size="7" text-anchor="middle" fill="#262626" letter-spacing="-0.5">*</text>
<path d="M251.5 590.5V586.5H265.5V590.5 " stroke="#555" stroke-width="0.85" fill="none"/>
<text x="258.5" y="584.3" font-size="6.4" text-anchor="middle" fill="#262626">ns</text>
<path d="M237.5 624.5V601.5H251.5V610.5 " stroke="#555" stroke-width="0.85" fill="none"/>
<text x="244.6" y="601.6" font-size="7" text-anchor="middle" fill="#262626" letter-spacing="-0.5">***</text>
<path d="M265.5 614.5V601.5H279.5V606.5 " stroke="#555" stroke-width="0.85" fill="none"/>
<text x="272.8" y="601.6" font-size="7" text-anchor="middle" fill="#262626" letter-spacing="-0.5">**</text>
<path d="M303.5 582.5V557.5H345.5V590.5 " stroke="#555" stroke-width="0.85" fill="none"/>
<text x="324.2" y="554.6" font-size="6.4" text-anchor="middle" fill="#262626">ns</text>
<path d="M317.5 575.5V571.5H345.5V590.5 " stroke="#555" stroke-width="0.85" fill="none"/>
<text x="331.5" y="569.3" font-size="6.4" text-anchor="middle" fill="#262626">ns</text>
<path d="M303.5 590.5V586.5H331.5V590.5 " stroke="#555" stroke-width="0.85" fill="none"/>
<text x="317.1" y="584.1" font-size="6.4" text-anchor="middle" fill="#262626">ns</text>
<path d="M303.5 620.5V601.5H316.5V617.5 " stroke="#555" stroke-width="0.85" fill="none"/>
<text x="309.6" y="598.9" font-size="6.4" text-anchor="middle" fill="#262626">ns</text>
<path d="M318.5 617.5V601.5H330.5V620.5 " stroke="#555" stroke-width="0.85" fill="none"/>
<text x="324.6" y="598.9" font-size="6.4" text-anchor="middle" fill="#262626">ns</text>
<path d="M332.5 620.5V601.5H345.5V616.5 " stroke="#555" stroke-width="0.85" fill="none"/>
<text x="339" y="598.9" font-size="6.4" text-anchor="middle" fill="#262626">ns</text>
<line x1="424.5" y1="535.8" x2="424.5" y2="598.7" stroke="#1a1a1a" stroke-width="1"/>
<path d="M421.5 598.5H424.5M421.5 582.5H424.5M421.5 567.5H424.5M421.5 552.5H424.5M421.5 537.5H424.5 " stroke="#1a1a1a" stroke-width="0.9" fill="none"/>
<text x="418.4" y="600.72" font-size="7" text-anchor="end" fill="#262626">0</text>
<text x="418.4" y="585.5" font-size="7" text-anchor="end" fill="#262626">500</text>
<text x="418.4" y="570.27" font-size="7" text-anchor="end" fill="#262626">1000</text>
<text x="418.4" y="555.04" font-size="7" text-anchor="end" fill="#262626">1500</text>
<text x="418.4" y="539.82" font-size="7" text-anchor="end" fill="#262626">2000</text>
<line x1="423.9" y1="598.5" x2="513.6" y2="598.5" stroke="#1a1a1a" stroke-width="1"/>
<path d="M449.5 598.5v2.4M487.5 598.5v2.4 " stroke="#1a1a1a" stroke-width="0.9" fill="none"/>
<circle cx="438.8" cy="563.8" r="1.95" fill="#c8102e"/>
<circle cx="443.1" cy="562.3" r="1.95" fill="#c8102e"/>
<circle cx="446.5" cy="565.2" r="1.95" fill="#c8102e"/>
<circle cx="449.4" cy="562.7" r="1.95" fill="#c8102e"/>
<circle cx="450.4" cy="567.7" r="1.95" fill="#c8102e"/>
<circle cx="453.7" cy="565.8" r="1.95" fill="#c8102e"/>
<circle cx="457.5" cy="564.6" r="1.95" fill="#c8102e"/>
<circle cx="460.4" cy="561.9" r="1.95" fill="#c8102e"/>
<circle cx="446.3" cy="570.4" r="1.95" fill="#c8102e"/>
<circle cx="453.3" cy="569.2" r="1.95" fill="#c8102e"/>
<circle cx="487.7" cy="545" r="1.95" fill="#5c2479"/>
<circle cx="477.3" cy="552.3" r="1.95" fill="#5c2479"/>
<circle cx="484.4" cy="550.8" r="1.95" fill="#5c2479"/>
<circle cx="491.5" cy="552.3" r="1.95" fill="#5c2479"/>
<circle cx="498.5" cy="549.8" r="1.95" fill="#5c2479"/>
<circle cx="498.5" cy="554.2" r="1.95" fill="#5c2479"/>
<circle cx="484.4" cy="555.6" r="1.95" fill="#5c2479"/>
<circle cx="481.2" cy="561.9" r="1.95" fill="#5c2479"/>
<circle cx="487.7" cy="561.9" r="1.95" fill="#5c2479"/>
<circle cx="495" cy="561.9" r="1.95" fill="#5c2479"/>
<line x1="437.3" y1="565.5" x2="461.9" y2="565.5" stroke="#e07088" stroke-width="0.7"/>
<line x1="475.8" y1="554.5" x2="500.4" y2="554.5" stroke="#a888c0" stroke-width="0.7"/>
<line x1="449.8" y1="537.5" x2="488.8" y2="537.5" stroke="#333" stroke-width="0.9"/>
<text x="469.6" y="536.8" font-size="6.8" text-anchor="middle" fill="#262626">*</text>
<text x="449.5" y="611" font-size="7.4" text-anchor="middle" fill="#262626" textLength="22.2" lengthAdjust="spacingAndGlyphs">αCCR4</text>
<text x="487.7" y="611" font-size="7.4" text-anchor="middle" fill="#262626" textLength="26.9" lengthAdjust="spacingAndGlyphs">αCCR4+</text>
<text x="487.7" y="618.3" font-size="7.4" text-anchor="middle" fill="#262626" textLength="17.3" lengthAdjust="spacingAndGlyphs">IFN2α</text>
<text transform="translate(397.4 567.15) rotate(-90)" font-size="8" text-anchor="middle" font-weight="bold" fill="#111" textLength="31.7" lengthAdjust="spacingAndGlyphs">CD80 (MFI)</text>
<line x1="424.5" y1="636.2" x2="424.5" y2="699" stroke="#1a1a1a" stroke-width="1"/>
<path d="M421.5 698.5H424.5M421.5 683.5H424.5M421.5 668.5H424.5M421.5 652.5H424.5M421.5 637.5H424.5 " stroke="#1a1a1a" stroke-width="0.9" fill="none"/>
<text x="418.4" y="701.02" font-size="7" text-anchor="end" fill="#262626">0</text>
<text x="418.4" y="685.82" font-size="7" text-anchor="end" fill="#262626">600</text>
<text x="418.4" y="670.62" font-size="7" text-anchor="end" fill="#262626">1200</text>
<text x="418.4" y="655.42" font-size="7" text-anchor="end" fill="#262626">1800</text>
<text x="418.4" y="640.22" font-size="7" text-anchor="end" fill="#262626">2400</text>
<line x1="423.9" y1="698.5" x2="513.6" y2="698.5" stroke="#1a1a1a" stroke-width="1"/>
<path d="M449.5 698.5v2.4M487.5 698.5v2.4 " stroke="#1a1a1a" stroke-width="0.9" fill="none"/>
<circle cx="439.6" cy="661.9" r="1.95" fill="#c8102e"/>
<circle cx="444.6" cy="661.9" r="1.95" fill="#c8102e"/>
<circle cx="449.8" cy="661.9" r="1.95" fill="#c8102e"/>
<circle cx="455" cy="661.9" r="1.95" fill="#c8102e"/>
<circle cx="460.4" cy="661.9" r="1.95" fill="#c8102e"/>
<circle cx="439.6" cy="666.7" r="1.95" fill="#c8102e"/>
<circle cx="444.6" cy="666.7" r="1.95" fill="#c8102e"/>
<circle cx="449.8" cy="666.7" r="1.95" fill="#c8102e"/>
<circle cx="455" cy="666.7" r="1.95" fill="#c8102e"/>
<circle cx="460.4" cy="668.5" r="1.95" fill="#c8102e"/>
<circle cx="477.3" cy="647.9" r="1.95" fill="#5c2479"/>
<circle cx="481.5" cy="646.9" r="1.95" fill="#5c2479"/>
<circle cx="485.4" cy="648.8" r="1.95" fill="#5c2479"/>
<circle cx="489.6" cy="646.9" r="1.95" fill="#5c2479"/>
<circle cx="494" cy="649.8" r="1.95" fill="#5c2479"/>
<circle cx="497.9" cy="647.9" r="1.95" fill="#5c2479"/>
<circle cx="481.5" cy="651.3" r="1.95" fill="#5c2479"/>
<circle cx="488.8" cy="651.2" r="1.95" fill="#5c2479"/>
<circle cx="489.2" cy="654.6" r="1.95" fill="#5c2479"/>
<circle cx="485.8" cy="656.5" r="1.95" fill="#5c2479"/>
<line x1="437.7" y1="664.5" x2="462.3" y2="664.5" stroke="#e07088" stroke-width="0.7"/>
<line x1="475.8" y1="649.5" x2="499.8" y2="649.5" stroke="#a888c0" stroke-width="0.7"/>
<line x1="449.8" y1="639.5" x2="488.8" y2="639.5" stroke="#333" stroke-width="0.9"/>
<text x="469.6" y="638.3" font-size="6.8" text-anchor="middle" fill="#262626">*</text>
<text x="449.5" y="711.3" font-size="7.4" text-anchor="middle" fill="#262626" textLength="22.2" lengthAdjust="spacingAndGlyphs">αCCR4</text>
<text x="487.7" y="711.3" font-size="7.4" text-anchor="middle" fill="#262626" textLength="26.9" lengthAdjust="spacingAndGlyphs">αCCR4+</text>
<text x="487.7" y="718.6" font-size="7.4" text-anchor="middle" fill="#262626" textLength="17.3" lengthAdjust="spacingAndGlyphs">IFN2α</text>
<text transform="translate(397.4 667.5) rotate(-90)" font-size="8" text-anchor="middle" font-weight="bold" fill="#111" textLength="31.7" lengthAdjust="spacingAndGlyphs">CD86 (MFI)</text>
<rect x="0.5" y="0.5" width="519" height="725" fill="none" stroke="#444" stroke-width="1"/>
</svg>
</body></html>
